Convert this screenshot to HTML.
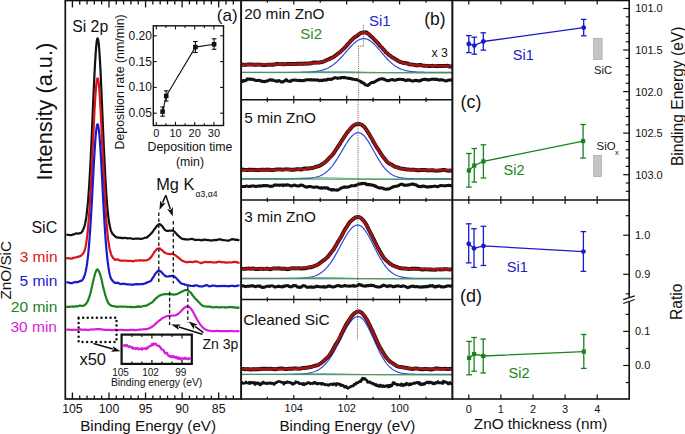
<!DOCTYPE html>
<html><head><meta charset="utf-8"><style>
html,body{margin:0;padding:0;background:#fff;width:685px;height:434px;overflow:hidden}
svg{display:block}
text{font-family:"Liberation Sans", sans-serif}
</style></head><body>
<svg width="685" height="434" viewBox="0 0 685 434">
<rect width="685" height="434" fill="#fff"/>
<clipPath id="ca"><rect x="65.3" y="0.5" width="175.89999999999998" height="398.5"/></clipPath>
<g clip-path="url(#ca)">
<path d="M66.30,234.77 L67.10,234.73 L67.90,234.78 L68.70,234.83 L69.50,234.99 L70.30,235.11 L71.10,235.14 L71.90,234.93 L72.70,234.53 L73.20,234.45 L73.70,234.44 L74.20,234.39 L74.70,234.04 L75.20,233.96 L75.70,233.62 L76.20,233.39 L76.70,233.27 L77.20,233.43 L77.70,233.68 L78.20,233.59 L78.70,233.57 L79.20,233.42 L79.70,233.12 L80.20,233.06 L80.70,232.95 L81.20,232.72 L81.70,232.10 L82.20,231.51 L82.70,230.47 L83.20,229.47 L83.70,228.26 L84.20,227.02 L84.70,225.36 L85.20,223.18 L85.70,220.60 L86.20,217.66 L86.70,213.88 L87.20,209.73 L87.70,204.99 L88.20,199.11 L88.70,192.39 L89.20,185.36 L89.70,176.81 L90.20,167.69 L90.70,158.13 L91.20,147.54 L91.70,136.39 L92.20,125.26 L92.70,113.41 L93.20,101.87 L93.70,90.63 L94.20,79.71 L94.70,69.73 L95.20,60.83 L95.70,52.86 L96.20,46.27 L96.70,41.74 L97.20,38.90 L97.70,38.33 L98.20,39.75 L98.70,43.46 L99.20,48.84 L99.70,56.39 L100.20,64.85 L100.70,74.71 L101.20,85.70 L101.70,97.43 L102.20,109.08 L102.70,120.97 L103.20,132.54 L103.70,143.96 L104.20,154.52 L104.70,164.53 L105.20,174.52 L105.70,183.83 L106.20,191.71 L106.70,198.93 L107.20,205.40 L107.70,210.94 L108.20,215.56 L108.70,219.62 L109.20,223.05 L109.70,225.56 L110.20,227.86 L110.70,229.84 L111.20,231.41 L111.70,232.29 L112.20,233.46 L112.70,234.21 L113.20,234.44 L113.70,234.85 L114.20,235.74 L114.70,235.97 L115.20,236.37 L115.70,236.96 L116.20,237.15 L116.70,237.19 L117.20,237.63 L117.70,237.51 L118.20,237.70 L118.70,237.71 L119.20,237.67 L119.70,237.80 L120.20,237.85 L120.70,237.60 L121.20,237.90 L121.70,238.25 L122.20,238.06 L122.70,237.89 L123.50,238.07 L124.30,237.96 L125.10,237.73 L125.90,238.07 L126.70,238.17 L127.50,238.42 L128.30,238.28 L129.10,238.24 L129.90,238.14 L130.70,238.50 L131.50,238.46 L132.30,238.73 L133.10,238.89 L133.90,238.82 L134.70,238.74 L135.50,238.58 L136.30,238.57 L137.10,238.64 L137.90,238.60 L138.70,238.62 L139.50,238.72 L140.30,238.96 L141.10,238.88 L141.90,238.76 L142.70,238.51 L143.50,238.32 L144.30,238.02 L145.10,237.74 L145.90,237.64 L146.70,237.69 L147.50,236.90 L148.30,236.10 L149.10,235.59 L149.90,234.87 L150.70,233.78 L151.50,233.14 L152.30,232.34 L153.10,231.17 L153.90,229.80 L154.70,228.91 L155.50,227.85 L156.30,226.59 L157.10,225.66 L157.90,225.10 L158.70,224.42 L159.50,223.99 L160.30,224.37 L161.10,225.16 L161.90,225.81 L162.70,226.69 L163.50,228.16 L164.30,229.19 L165.10,229.97 L165.90,230.44 L166.70,230.78 L167.50,230.80 L168.30,230.84 L169.10,230.75 L169.90,230.52 L170.70,230.67 L171.50,230.48 L172.30,230.61 L173.10,230.48 L173.90,231.37 L174.70,231.97 L175.50,232.86 L176.30,233.53 L177.10,234.66 L177.90,235.41 L178.70,235.93 L179.50,236.85 L180.30,237.56 L181.10,237.90 L181.90,238.73 L182.70,238.91 L183.50,239.10 L184.30,239.12 L185.10,239.36 L185.90,239.18 L186.70,239.51 L187.50,239.55 L188.30,239.42 L189.10,239.22 L189.90,239.25 L190.70,239.10 L191.50,238.87 L192.30,238.91 L193.10,239.37 L193.90,239.41 L194.70,239.82 L195.50,239.85 L196.30,240.10 L197.10,239.73 L197.90,239.75 L198.70,239.78 L199.50,239.80 L200.30,240.06 L201.10,240.40 L201.90,240.26 L202.70,239.71 L203.50,240.08 L204.30,239.83 L205.10,239.59 L205.90,239.69 L206.70,240.07 L207.50,240.09 L208.30,239.95 L209.10,240.22 L209.90,240.40 L210.70,240.57 L211.50,240.31 L212.30,240.35 L213.10,240.34 L213.90,240.13 L214.70,239.92 L215.50,240.18 L216.30,240.26 L217.10,239.74 L217.90,239.66 L218.70,239.36 L219.50,239.27 L220.30,239.36 L221.10,239.62 L221.90,239.69 L222.70,240.11 L223.50,239.99 L224.30,240.15 L225.10,240.24 L225.90,240.41 L226.70,240.51 L227.50,240.75 L228.30,240.44 L229.10,240.59 L229.90,240.13 L230.70,239.73 L231.50,239.17 L232.30,239.45 L233.10,239.12 L233.90,239.41 L234.70,239.55 L235.50,239.85 L236.30,239.59 L237.10,239.82 L237.90,240.11 L238.70,240.14 L239.50,240.23" fill="none" stroke="#111" stroke-width="2.2" stroke-linejoin="round"/>
<path d="M66.30,258.63 L67.10,258.18 L67.90,258.07 L68.70,258.38 L69.50,258.54 L70.30,258.32 L71.10,258.65 L71.90,258.70 L72.70,258.29 L73.20,257.87 L73.70,257.72 L74.20,257.69 L74.70,257.52 L75.20,257.50 L75.70,257.56 L76.20,257.34 L76.70,257.10 L77.20,256.92 L77.70,257.02 L78.20,256.65 L78.70,256.81 L79.20,256.58 L79.70,256.27 L80.20,256.10 L80.70,256.15 L81.20,255.41 L81.70,254.95 L82.20,254.78 L82.70,253.93 L83.20,253.27 L83.70,252.72 L84.20,251.69 L84.70,250.14 L85.20,248.51 L85.70,246.18 L86.20,243.36 L86.70,239.62 L87.20,235.81 L87.70,231.26 L88.20,225.86 L88.70,219.73 L89.20,213.62 L89.70,205.69 L90.20,197.31 L90.70,188.78 L91.20,179.12 L91.70,168.83 L92.20,158.91 L92.70,148.12 L93.20,137.11 L93.70,126.87 L94.20,116.54 L94.70,106.85 L95.20,98.48 L95.70,91.30 L96.20,85.37 L96.70,81.34 L97.20,78.86 L97.70,78.31 L98.20,79.79 L98.70,83.13 L99.20,88.08 L99.70,94.72 L100.20,103.13 L100.70,112.20 L101.20,122.15 L101.70,132.31 L102.20,143.30 L102.70,153.80 L103.20,164.62 L103.70,175.01 L104.20,185.38 L104.70,194.76 L105.20,203.11 L105.70,211.01 L106.20,218.23 L106.70,224.59 L107.20,230.42 L107.70,235.99 L108.20,239.90 L108.70,243.41 L109.20,246.66 L109.70,249.07 L110.20,250.87 L110.70,252.70 L111.20,254.57 L111.70,255.85 L112.20,256.57 L112.70,257.17 L113.20,258.19 L113.70,258.50 L114.20,259.00 L114.70,259.63 L115.20,259.95 L115.70,259.93 L116.20,259.60 L116.70,259.34 L117.20,259.32 L117.70,259.64 L118.20,259.58 L118.70,259.98 L119.20,260.24 L119.70,260.37 L120.20,260.45 L120.70,260.65 L121.20,260.66 L121.70,260.76 L122.20,260.75 L122.70,260.56 L123.50,260.49 L124.30,260.60 L125.10,260.50 L125.90,260.56 L126.70,260.73 L127.50,260.89 L128.30,260.89 L129.10,260.74 L129.90,260.80 L130.70,260.99 L131.50,261.05 L132.30,261.05 L133.10,261.33 L133.90,261.12 L134.70,260.66 L135.50,260.60 L136.30,260.49 L137.10,260.53 L137.90,260.50 L138.70,260.37 L139.50,260.18 L140.30,260.54 L141.10,260.33 L141.90,260.23 L142.70,260.45 L143.50,260.60 L144.30,260.31 L145.10,260.23 L145.90,260.45 L146.70,260.39 L147.50,259.94 L148.30,259.49 L149.10,259.15 L149.90,258.38 L150.70,257.62 L151.50,256.52 L152.30,255.37 L153.10,254.10 L153.90,252.73 L154.70,251.55 L155.50,250.68 L156.30,249.82 L157.10,248.84 L157.90,248.70 L158.70,248.46 L159.50,248.38 L160.30,248.60 L161.10,249.64 L161.90,249.95 L162.70,250.74 L163.50,251.77 L164.30,252.54 L165.10,252.62 L165.90,253.23 L166.70,253.52 L167.50,253.75 L168.30,253.94 L169.10,254.09 L169.90,254.11 L170.70,254.06 L171.50,253.91 L172.30,253.91 L173.10,254.14 L173.90,254.54 L174.70,254.86 L175.50,255.41 L176.30,256.13 L177.10,256.70 L177.90,257.26 L178.70,257.81 L179.50,258.45 L180.30,259.11 L181.10,259.92 L181.90,260.39 L182.70,261.01 L183.50,261.18 L184.30,261.60 L185.10,261.76 L185.90,262.08 L186.70,262.09 L187.50,262.36 L188.30,261.86 L189.10,261.95 L189.90,261.97 L190.70,261.85 L191.50,261.91 L192.30,262.32 L193.10,261.94 L193.90,261.53 L194.70,261.68 L195.50,261.61 L196.30,261.31 L197.10,261.61 L197.90,261.94 L198.70,262.22 L199.50,262.44 L200.30,262.91 L201.10,263.09 L201.90,262.86 L202.70,262.69 L203.50,262.42 L204.30,262.02 L205.10,261.83 L205.90,262.05 L206.70,262.21 L207.50,262.13 L208.30,262.11 L209.10,262.12 L209.90,262.09 L210.70,261.97 L211.50,262.21 L212.30,262.29 L213.10,262.41 L213.90,262.50 L214.70,262.53 L215.50,262.44 L216.30,262.53 L217.10,262.00 L217.90,261.79 L218.70,261.81 L219.50,261.68 L220.30,261.74 L221.10,262.19 L221.90,262.13 L222.70,262.09 L223.50,262.28 L224.30,262.32 L225.10,262.39 L225.90,262.60 L226.70,262.51 L227.50,262.53 L228.30,262.45 L229.10,262.47 L229.90,262.52 L230.70,262.54 L231.50,262.35 L232.30,262.31 L233.10,262.07 L233.90,261.85 L234.70,261.95 L235.50,262.08 L236.30,262.16 L237.10,262.36 L237.90,262.46 L238.70,262.85 L239.50,262.87" fill="none" stroke="#da1418" stroke-width="2.2" stroke-linejoin="round"/>
<path d="M66.30,282.50 L67.10,282.33 L67.90,282.37 L68.70,282.52 L69.50,282.90 L70.30,283.17 L71.10,283.20 L71.90,283.20 L72.70,282.85 L73.20,282.74 L73.70,282.57 L74.20,282.24 L74.70,282.22 L75.20,281.93 L75.70,281.94 L76.20,282.13 L76.70,282.19 L77.20,281.93 L77.70,282.19 L78.20,282.06 L78.70,281.48 L79.20,281.42 L79.70,281.35 L80.20,281.08 L80.70,280.72 L81.20,280.82 L81.70,280.67 L82.20,280.12 L82.70,279.48 L83.20,278.81 L83.70,277.86 L84.20,276.38 L84.70,275.12 L85.20,273.33 L85.70,271.27 L86.20,268.73 L86.70,266.15 L87.20,262.63 L87.70,258.62 L88.20,254.26 L88.70,248.90 L89.20,242.83 L89.70,236.49 L90.20,229.55 L90.70,221.49 L91.20,213.47 L91.70,204.57 L92.20,195.27 L92.70,185.61 L93.20,176.29 L93.70,166.44 L94.20,157.88 L94.70,149.74 L95.20,142.25 L95.70,135.68 L96.20,130.62 L96.70,126.88 L97.20,124.52 L97.70,124.29 L98.20,125.73 L98.70,128.85 L99.20,132.90 L99.70,138.74 L100.20,145.46 L100.70,153.39 L101.20,162.07 L101.70,171.44 L102.20,180.80 L102.70,190.37 L103.20,199.79 L103.70,208.79 L104.20,217.69 L104.70,226.07 L105.20,233.83 L105.70,240.73 L106.20,247.02 L106.70,252.29 L107.20,257.10 L107.70,261.52 L108.20,265.44 L108.70,268.84 L109.20,272.03 L109.70,274.24 L110.20,276.07 L110.70,277.97 L111.20,278.85 L111.70,279.46 L112.20,280.41 L112.70,281.09 L113.20,281.25 L113.70,281.92 L114.20,282.40 L114.70,282.65 L115.20,282.96 L115.70,282.78 L116.20,282.83 L116.70,282.89 L117.20,282.83 L117.70,282.63 L118.20,283.11 L118.70,283.21 L119.20,283.38 L119.70,283.71 L120.20,283.97 L120.70,284.00 L121.20,284.13 L121.70,283.85 L122.20,283.77 L122.70,283.83 L123.50,283.72 L124.30,283.76 L125.10,284.14 L125.90,284.05 L126.70,284.11 L127.50,284.51 L128.30,284.47 L129.10,284.39 L129.90,284.53 L130.70,284.68 L131.50,284.46 L132.30,284.69 L133.10,284.57 L133.90,284.60 L134.70,284.36 L135.50,284.03 L136.30,284.11 L137.10,284.36 L137.90,284.07 L138.70,284.18 L139.50,284.41 L140.30,284.23 L141.10,284.11 L141.90,284.09 L142.70,283.87 L143.50,284.04 L144.30,283.75 L145.10,283.37 L145.90,283.17 L146.70,282.72 L147.50,282.18 L148.30,282.07 L149.10,281.74 L149.90,281.31 L150.70,281.05 L151.50,280.00 L152.30,278.60 L153.10,277.51 L153.90,276.40 L154.70,274.72 L155.50,273.50 L156.30,272.64 L157.10,271.76 L157.90,270.89 L158.70,270.74 L159.50,270.87 L160.30,271.22 L161.10,271.72 L161.90,272.63 L162.70,273.39 L163.50,274.41 L164.30,275.26 L165.10,275.79 L165.90,276.36 L166.70,276.55 L167.50,276.48 L168.30,276.33 L169.10,276.48 L169.90,276.10 L170.70,276.04 L171.50,275.99 L172.30,275.73 L173.10,275.77 L173.90,276.19 L174.70,276.90 L175.50,277.46 L176.30,278.22 L177.10,279.09 L177.90,280.09 L178.70,280.75 L179.50,281.80 L180.30,282.73 L181.10,283.19 L181.90,283.71 L182.70,283.94 L183.50,284.02 L184.30,284.31 L185.10,284.74 L185.90,284.79 L186.70,285.21 L187.50,285.31 L188.30,285.43 L189.10,285.62 L189.90,285.59 L190.70,285.96 L191.50,285.99 L192.30,285.98 L193.10,285.78 L193.90,286.07 L194.70,285.53 L195.50,285.32 L196.30,285.43 L197.10,285.54 L197.90,285.50 L198.70,286.12 L199.50,286.49 L200.30,286.45 L201.10,286.48 L201.90,286.45 L202.70,286.31 L203.50,286.09 L204.30,286.00 L205.10,285.33 L205.90,285.40 L206.70,285.09 L207.50,285.44 L208.30,285.84 L209.10,286.38 L209.90,286.22 L210.70,286.21 L211.50,285.94 L212.30,285.51 L213.10,285.61 L213.90,285.66 L214.70,285.75 L215.50,285.86 L216.30,286.11 L217.10,286.09 L217.90,286.06 L218.70,286.16 L219.50,286.16 L220.30,285.84 L221.10,286.00 L221.90,286.09 L222.70,285.84 L223.50,286.04 L224.30,286.27 L225.10,285.80 L225.90,285.98 L226.70,286.19 L227.50,286.16 L228.30,286.14 L229.10,286.36 L229.90,285.87 L230.70,285.97 L231.50,285.84 L232.30,285.76 L233.10,285.84 L233.90,286.10 L234.70,286.05 L235.50,285.99 L236.30,286.03 L237.10,285.64 L237.90,285.56 L238.70,285.56 L239.50,285.83" fill="none" stroke="#1a1acc" stroke-width="2.2" stroke-linejoin="round"/>
<path d="M66.30,306.65 L67.10,306.91 L67.90,306.93 L68.70,306.87 L69.50,306.81 L70.30,306.73 L71.10,306.48 L71.90,306.48 L72.70,306.46 L73.20,306.86 L73.70,306.74 L74.20,306.66 L74.70,306.70 L75.20,306.40 L75.70,306.13 L76.20,306.28 L76.70,306.31 L77.20,306.29 L77.70,306.21 L78.20,306.22 L78.70,305.91 L79.20,305.82 L79.70,305.64 L80.20,305.75 L80.70,305.71 L81.20,305.86 L81.70,305.81 L82.20,305.85 L82.70,305.98 L83.20,305.70 L83.70,305.53 L84.20,305.49 L84.70,305.14 L85.20,304.36 L85.70,304.23 L86.20,303.91 L86.70,302.80 L87.20,301.96 L87.70,301.26 L88.20,299.99 L88.70,298.56 L89.20,297.41 L89.70,295.74 L90.20,294.01 L90.70,292.19 L91.20,290.00 L91.70,287.83 L92.20,285.82 L92.70,283.36 L93.20,280.99 L93.70,278.93 L94.20,277.06 L94.70,275.05 L95.20,273.46 L95.70,271.96 L96.20,270.82 L96.70,269.82 L97.20,269.42 L97.70,269.54 L98.20,270.04 L98.70,270.94 L99.20,271.95 L99.70,273.23 L100.20,274.41 L100.70,276.34 L101.20,278.02 L101.70,280.25 L102.20,282.57 L102.70,284.93 L103.20,286.92 L103.70,289.14 L104.20,290.94 L104.70,292.82 L105.20,294.95 L105.70,296.27 L106.20,297.85 L106.70,299.45 L107.20,300.63 L107.70,301.55 L108.20,302.85 L108.70,303.46 L109.20,304.18 L109.70,304.59 L110.20,305.07 L110.70,305.15 L111.20,305.46 L111.70,305.81 L112.20,306.12 L112.70,306.15 L113.20,306.23 L113.70,306.24 L114.20,306.11 L114.70,306.24 L115.20,306.37 L115.70,306.64 L116.20,306.77 L116.70,306.96 L117.20,306.80 L117.70,306.70 L118.20,306.76 L118.70,306.79 L119.20,306.59 L119.70,306.58 L120.20,306.63 L120.70,306.61 L121.20,306.66 L121.70,306.54 L122.20,306.69 L122.70,306.76 L123.50,306.55 L124.30,306.62 L125.10,306.75 L125.90,306.66 L126.70,306.75 L127.50,307.07 L128.30,306.88 L129.10,306.99 L129.90,306.92 L130.70,307.13 L131.50,306.88 L132.30,307.14 L133.10,306.99 L133.90,307.22 L134.70,307.20 L135.50,306.91 L136.30,306.68 L137.10,306.82 L137.90,306.67 L138.70,306.25 L139.50,306.84 L140.30,306.86 L141.10,306.50 L141.90,306.55 L142.70,306.31 L143.50,306.05 L144.30,305.80 L145.10,305.86 L145.90,305.69 L146.70,305.67 L147.50,305.02 L148.30,304.50 L149.10,304.22 L149.90,303.66 L150.70,302.99 L151.50,302.69 L152.30,302.33 L153.10,301.54 L153.90,300.39 L154.70,299.68 L155.50,298.90 L156.30,298.16 L157.10,297.44 L157.90,296.72 L158.70,296.16 L159.50,295.57 L160.30,295.36 L161.10,294.76 L161.90,294.77 L162.70,294.55 L163.50,294.46 L164.30,293.97 L165.10,294.21 L165.90,294.14 L166.70,294.20 L167.50,294.05 L168.30,294.19 L169.10,294.01 L169.90,293.97 L170.70,294.14 L171.50,294.32 L172.30,294.27 L173.10,294.43 L173.90,294.78 L174.70,294.46 L175.50,294.31 L176.30,294.30 L177.10,294.12 L177.90,293.65 L178.70,293.14 L179.50,292.92 L180.30,292.45 L181.10,291.93 L181.90,291.50 L182.70,291.41 L183.50,290.84 L184.30,290.40 L185.10,290.14 L185.90,290.06 L186.70,290.03 L187.50,290.17 L188.30,290.77 L189.10,291.20 L189.90,292.00 L190.70,292.70 L191.50,293.75 L192.30,294.77 L193.10,295.95 L193.90,296.77 L194.70,297.93 L195.50,298.91 L196.30,299.47 L197.10,300.30 L197.90,301.30 L198.70,302.05 L199.50,302.78 L200.30,303.78 L201.10,304.56 L201.90,305.18 L202.70,305.77 L203.50,306.10 L204.30,306.32 L205.10,306.45 L205.90,306.51 L206.70,306.58 L207.50,306.53 L208.30,306.60 L209.10,306.72 L209.90,306.70 L210.70,306.78 L211.50,307.12 L212.30,307.17 L213.10,307.48 L213.90,307.28 L214.70,307.26 L215.50,306.96 L216.30,307.12 L217.10,307.20 L217.90,307.22 L218.70,307.27 L219.50,307.59 L220.30,307.42 L221.10,307.14 L221.90,307.17 L222.70,307.27 L223.50,307.25 L224.30,307.30 L225.10,307.15 L225.90,307.54 L226.70,307.36 L227.50,307.34 L228.30,307.27 L229.10,307.05 L229.90,306.96 L230.70,307.05 L231.50,307.13 L232.30,307.08 L233.10,307.38 L233.90,307.46 L234.70,307.46 L235.50,307.52 L236.30,307.91 L237.10,307.79 L237.90,307.45 L238.70,307.55 L239.50,307.59" fill="none" stroke="#1a821a" stroke-width="2.2" stroke-linejoin="round"/>
<path d="M66.30,329.77 L67.10,329.68 L67.90,329.54 L68.70,329.53 L69.50,329.70 L70.30,329.76 L71.10,329.78 L71.90,329.84 L72.70,329.91 L73.20,329.74 L73.70,329.71 L74.20,329.74 L74.70,329.73 L75.20,329.79 L75.70,329.80 L76.20,329.74 L76.70,329.75 L77.20,329.79 L77.70,329.74 L78.20,329.74 L78.70,329.63 L79.20,329.52 L79.70,329.47 L80.20,329.41 L80.70,329.45 L81.20,329.55 L81.70,329.70 L82.20,329.78 L82.70,329.77 L83.20,329.74 L83.70,329.62 L84.20,329.58 L84.70,329.59 L85.20,329.66 L85.70,329.68 L86.20,329.78 L86.70,329.82 L87.20,329.78 L87.70,329.78 L88.20,329.80 L88.70,329.79 L89.20,329.79 L89.70,329.72 L90.20,329.63 L90.70,329.52 L91.20,329.43 L91.70,329.40 L92.20,329.48 L92.70,329.46 L93.20,329.49 L93.70,329.55 L94.20,329.47 L94.70,329.40 L95.20,329.29 L95.70,329.20 L96.20,329.14 L96.70,329.16 L97.20,329.09 L97.70,329.11 L98.20,329.13 L98.70,329.09 L99.20,328.99 L99.70,329.10 L100.20,329.15 L100.70,329.21 L101.20,329.41 L101.70,329.57 L102.20,329.55 L102.70,329.61 L103.20,329.68 L103.70,329.70 L104.20,329.71 L104.70,329.81 L105.20,329.88 L105.70,329.93 L106.20,329.86 L106.70,329.89 L107.20,329.92 L107.70,329.86 L108.20,329.85 L108.70,329.89 L109.20,329.85 L109.70,329.78 L110.20,329.91 L110.70,330.03 L111.20,330.06 L111.70,330.12 L112.20,330.06 L112.70,330.13 L113.20,330.03 L113.70,330.00 L114.20,329.93 L114.70,330.01 L115.20,329.85 L115.70,329.86 L116.20,329.89 L116.70,329.95 L117.20,329.97 L117.70,329.99 L118.20,330.07 L118.70,330.01 L119.20,329.91 L119.70,329.89 L120.20,329.90 L120.70,329.77 L121.20,329.79 L121.70,329.91 L122.20,329.86 L122.70,329.89 L123.50,330.03 L124.30,330.09 L125.10,330.07 L125.90,330.14 L126.70,330.15 L127.50,330.08 L128.30,330.08 L129.10,330.09 L129.90,329.96 L130.70,329.96 L131.50,329.92 L132.30,329.92 L133.10,329.89 L133.90,330.02 L134.70,330.14 L135.50,330.12 L136.30,330.02 L137.10,329.96 L137.90,329.80 L138.70,329.56 L139.50,329.60 L140.30,329.58 L141.10,329.50 L141.90,329.47 L142.70,329.52 L143.50,329.35 L144.30,329.24 L145.10,329.20 L145.90,329.18 L146.70,329.03 L147.50,328.88 L148.30,328.63 L149.10,328.30 L149.90,327.96 L150.70,327.52 L151.50,327.00 L152.30,326.52 L153.10,325.99 L153.90,325.32 L154.70,324.60 L155.50,323.89 L156.30,323.17 L157.10,322.37 L157.90,321.73 L158.70,321.08 L159.50,320.39 L160.30,319.81 L161.10,319.29 L161.90,318.51 L162.70,318.02 L163.50,317.62 L164.30,317.21 L165.10,316.73 L165.90,316.55 L166.70,316.25 L167.50,316.05 L168.30,315.84 L169.10,315.92 L169.90,315.79 L170.70,315.72 L171.50,315.65 L172.30,315.61 L173.10,315.50 L173.90,315.52 L174.70,315.46 L175.50,315.31 L176.30,314.97 L177.10,314.55 L177.90,314.05 L178.70,313.44 L179.50,312.72 L180.30,311.94 L181.10,311.20 L181.90,310.24 L182.70,309.38 L183.50,308.63 L184.30,307.91 L185.10,307.28 L185.90,306.80 L186.70,306.56 L187.50,306.45 L188.30,306.55 L189.10,306.93 L189.90,307.55 L190.70,308.40 L191.50,309.37 L192.30,310.64 L193.10,311.94 L193.90,313.41 L194.70,314.85 L195.50,316.39 L196.30,317.97 L197.10,319.45 L197.90,320.92 L198.70,322.12 L199.50,323.47 L200.30,324.59 L201.10,325.53 L201.90,326.44 L202.70,327.41 L203.50,328.09 L204.30,328.61 L205.10,329.28 L205.90,329.67 L206.70,330.10 L207.50,330.30 L208.30,330.61 L209.10,330.67 L209.90,330.75 L210.70,330.78 L211.50,330.91 L212.30,331.01 L213.10,331.12 L213.90,331.18 L214.70,331.06 L215.50,331.00 L216.30,330.89 L217.10,330.81 L217.90,330.88 L218.70,331.00 L219.50,331.03 L220.30,331.08 L221.10,331.12 L221.90,331.10 L222.70,331.13 L223.50,331.20 L224.30,331.16 L225.10,331.09 L225.90,331.16 L226.70,331.13 L227.50,331.15 L228.30,331.10 L229.10,331.17 L229.90,331.10 L230.70,331.02 L231.50,330.94 L232.30,331.07 L233.10,331.15 L233.90,331.24 L234.70,331.27 L235.50,331.23 L236.30,331.22 L237.10,331.22 L237.90,331.15 L238.70,331.13 L239.50,331.25" fill="none" stroke="#d81cd8" stroke-width="2.2" stroke-linejoin="round"/>
</g>
<rect x="65.30" y="0.50" width="175.90" height="398.50" fill="none" stroke="#111" stroke-width="1.7"/>
<line x1="233.33" y1="399.00" x2="233.33" y2="395.60" stroke="#111" stroke-width="1.3"/>
<line x1="233.33" y1="0.50" x2="233.33" y2="4.40" stroke="#111" stroke-width="1.3"/>
<line x1="226.02" y1="399.00" x2="226.02" y2="395.60" stroke="#111" stroke-width="1.3"/>
<line x1="226.02" y1="0.50" x2="226.02" y2="4.40" stroke="#111" stroke-width="1.3"/>
<line x1="218.70" y1="399.00" x2="218.70" y2="392.50" stroke="#111" stroke-width="1.3"/>
<line x1="218.70" y1="0.50" x2="218.70" y2="7.50" stroke="#111" stroke-width="1.3"/>
<text x="218.70" y="412.90" font-size="12.3" fill="#111" text-anchor="middle">85</text>
<line x1="211.39" y1="399.00" x2="211.39" y2="395.60" stroke="#111" stroke-width="1.3"/>
<line x1="211.39" y1="0.50" x2="211.39" y2="4.40" stroke="#111" stroke-width="1.3"/>
<line x1="204.07" y1="399.00" x2="204.07" y2="395.60" stroke="#111" stroke-width="1.3"/>
<line x1="204.07" y1="0.50" x2="204.07" y2="4.40" stroke="#111" stroke-width="1.3"/>
<line x1="196.75" y1="399.00" x2="196.75" y2="395.60" stroke="#111" stroke-width="1.3"/>
<line x1="196.75" y1="0.50" x2="196.75" y2="4.40" stroke="#111" stroke-width="1.3"/>
<line x1="189.44" y1="399.00" x2="189.44" y2="395.60" stroke="#111" stroke-width="1.3"/>
<line x1="189.44" y1="0.50" x2="189.44" y2="4.40" stroke="#111" stroke-width="1.3"/>
<line x1="182.12" y1="399.00" x2="182.12" y2="392.50" stroke="#111" stroke-width="1.3"/>
<line x1="182.12" y1="0.50" x2="182.12" y2="7.50" stroke="#111" stroke-width="1.3"/>
<text x="182.12" y="412.90" font-size="12.3" fill="#111" text-anchor="middle">90</text>
<line x1="174.81" y1="399.00" x2="174.81" y2="395.60" stroke="#111" stroke-width="1.3"/>
<line x1="174.81" y1="0.50" x2="174.81" y2="4.40" stroke="#111" stroke-width="1.3"/>
<line x1="167.50" y1="399.00" x2="167.50" y2="395.60" stroke="#111" stroke-width="1.3"/>
<line x1="167.50" y1="0.50" x2="167.50" y2="4.40" stroke="#111" stroke-width="1.3"/>
<line x1="160.18" y1="399.00" x2="160.18" y2="395.60" stroke="#111" stroke-width="1.3"/>
<line x1="160.18" y1="0.50" x2="160.18" y2="4.40" stroke="#111" stroke-width="1.3"/>
<line x1="152.87" y1="399.00" x2="152.87" y2="395.60" stroke="#111" stroke-width="1.3"/>
<line x1="152.87" y1="0.50" x2="152.87" y2="4.40" stroke="#111" stroke-width="1.3"/>
<line x1="145.55" y1="399.00" x2="145.55" y2="392.50" stroke="#111" stroke-width="1.3"/>
<line x1="145.55" y1="0.50" x2="145.55" y2="7.50" stroke="#111" stroke-width="1.3"/>
<text x="145.55" y="412.90" font-size="12.3" fill="#111" text-anchor="middle">95</text>
<line x1="138.24" y1="399.00" x2="138.24" y2="395.60" stroke="#111" stroke-width="1.3"/>
<line x1="138.24" y1="0.50" x2="138.24" y2="4.40" stroke="#111" stroke-width="1.3"/>
<line x1="130.92" y1="399.00" x2="130.92" y2="395.60" stroke="#111" stroke-width="1.3"/>
<line x1="130.92" y1="0.50" x2="130.92" y2="4.40" stroke="#111" stroke-width="1.3"/>
<line x1="123.61" y1="399.00" x2="123.61" y2="395.60" stroke="#111" stroke-width="1.3"/>
<line x1="123.61" y1="0.50" x2="123.61" y2="4.40" stroke="#111" stroke-width="1.3"/>
<line x1="116.29" y1="399.00" x2="116.29" y2="395.60" stroke="#111" stroke-width="1.3"/>
<line x1="116.29" y1="0.50" x2="116.29" y2="4.40" stroke="#111" stroke-width="1.3"/>
<line x1="108.98" y1="399.00" x2="108.98" y2="392.50" stroke="#111" stroke-width="1.3"/>
<line x1="108.98" y1="0.50" x2="108.98" y2="7.50" stroke="#111" stroke-width="1.3"/>
<text x="108.98" y="412.90" font-size="12.3" fill="#111" text-anchor="middle">100</text>
<line x1="101.66" y1="399.00" x2="101.66" y2="395.60" stroke="#111" stroke-width="1.3"/>
<line x1="101.66" y1="0.50" x2="101.66" y2="4.40" stroke="#111" stroke-width="1.3"/>
<line x1="94.34" y1="399.00" x2="94.34" y2="395.60" stroke="#111" stroke-width="1.3"/>
<line x1="94.34" y1="0.50" x2="94.34" y2="4.40" stroke="#111" stroke-width="1.3"/>
<line x1="87.03" y1="399.00" x2="87.03" y2="395.60" stroke="#111" stroke-width="1.3"/>
<line x1="87.03" y1="0.50" x2="87.03" y2="4.40" stroke="#111" stroke-width="1.3"/>
<line x1="79.72" y1="399.00" x2="79.72" y2="395.60" stroke="#111" stroke-width="1.3"/>
<line x1="79.72" y1="0.50" x2="79.72" y2="4.40" stroke="#111" stroke-width="1.3"/>
<line x1="72.40" y1="399.00" x2="72.40" y2="392.50" stroke="#111" stroke-width="1.3"/>
<line x1="72.40" y1="0.50" x2="72.40" y2="7.50" stroke="#111" stroke-width="1.3"/>
<text x="72.40" y="412.90" font-size="12.3" fill="#111" text-anchor="middle">105</text>
<text x="148.10" y="430.60" font-size="15.2" fill="#111" text-anchor="middle">Binding Energy (eV)</text>
<text x="17.10" y="0.00" font-size="1" fill="#000" text-anchor="start"></text>
<text x="52.20" y="180.60" font-size="21.75" fill="#111" text-anchor="start" transform="rotate(-90 52.2 180.6)">Intensity (a.u.)</text>
<text x="57.20" y="232.80" font-size="16" fill="#111" text-anchor="end">SiC</text>
<text x="57.60" y="261.60" font-size="15.5" fill="#da1418" text-anchor="end">3 min</text>
<text x="57.40" y="286.40" font-size="15.5" fill="#1a1acc" text-anchor="end">5 min</text>
<text x="57.40" y="311.60" font-size="15.5" fill="#1a821a" text-anchor="end">20 min</text>
<text x="57.00" y="332.00" font-size="15.5" fill="#d81cd8" text-anchor="end">30 min</text>
<text x="11.30" y="299.60" font-size="15.3" fill="#111" text-anchor="start" transform="rotate(-90 11.3 299.6)">ZnO/SiC</text>
<text x="72.20" y="31.60" font-size="15.8" fill="#111" text-anchor="start">Si 2p</text>
<text x="216.80" y="21.30" font-size="17" fill="#111" text-anchor="start">(a)</text>
<text x="156.30" y="189.60" font-size="16.3" fill="#111" text-anchor="start">Mg K</text>
<text x="195.60" y="197.20" font-size="8.6" fill="#111" text-anchor="start">&#945;3,&#945;4</text>
<line x1="165.80" y1="195.30" x2="162.59" y2="202.67" stroke="#111" stroke-width="1.5"/>
<path d="M159.40,210.00 L160.24,200.55 L162.19,203.58 L165.74,202.95 Z" fill="#111"/>
<line x1="165.80" y1="195.30" x2="170.30" y2="209.00" stroke="#111" stroke-width="1.5"/>
<path d="M172.80,216.60 L167.14,208.99 L170.61,209.95 L172.84,207.11 Z" fill="#111"/>
<line x1="158.80" y1="212.50" x2="158.80" y2="283.50" stroke="#111" stroke-width="1.3" stroke-dasharray="3.6,2.4"/>
<line x1="173.30" y1="221.00" x2="173.30" y2="283.50" stroke="#111" stroke-width="1.3" stroke-dasharray="3.6,2.4"/>
<line x1="169.60" y1="291.80" x2="169.60" y2="325.00" stroke="#111" stroke-width="1.3" stroke-dasharray="3.6,2.4"/>
<line x1="187.80" y1="286.50" x2="187.80" y2="323.00" stroke="#111" stroke-width="1.3" stroke-dasharray="3.6,2.4"/>
<line x1="202.40" y1="334.20" x2="178.85" y2="326.95" stroke="#111" stroke-width="1.5"/>
<path d="M171.20,324.60 L180.68,324.38 L177.89,326.66 L178.92,330.11 Z" fill="#111"/>
<line x1="203.40" y1="332.60" x2="195.02" y2="326.37" stroke="#111" stroke-width="1.5"/>
<path d="M188.60,321.60 L197.61,324.56 L194.22,325.78 L194.03,329.38 Z" fill="#111"/>
<text x="202.50" y="348.50" font-size="14" fill="#111" text-anchor="start">Zn 3p</text>
<rect x="78.60" y="317.80" width="37.90" height="24.10" fill="none" stroke="#111" stroke-width="2.5" stroke-dasharray="0,4.57" stroke-linecap="round"/>
<line x1="93.50" y1="343.50" x2="112.81" y2="349.08" stroke="#111" stroke-width="1.5"/>
<path d="M120.50,351.30 L111.02,351.68 L113.78,349.36 L112.69,345.92 Z" fill="#111"/>
<rect x="121.60" y="334.60" width="70.20" height="29.30" fill="#fff" stroke="#111" stroke-width="2.2"/>
<line x1="181.99" y1="363.90" x2="181.99" y2="360.10" stroke="#111" stroke-width="1.2"/>
<line x1="181.99" y1="334.60" x2="181.99" y2="338.40" stroke="#111" stroke-width="1.2"/>
<line x1="171.96" y1="363.90" x2="171.96" y2="361.50" stroke="#111" stroke-width="1.2"/>
<line x1="171.96" y1="334.60" x2="171.96" y2="337.00" stroke="#111" stroke-width="1.2"/>
<line x1="161.93" y1="363.90" x2="161.93" y2="361.50" stroke="#111" stroke-width="1.2"/>
<line x1="161.93" y1="334.60" x2="161.93" y2="337.00" stroke="#111" stroke-width="1.2"/>
<line x1="151.90" y1="363.90" x2="151.90" y2="360.10" stroke="#111" stroke-width="1.2"/>
<line x1="151.90" y1="334.60" x2="151.90" y2="338.40" stroke="#111" stroke-width="1.2"/>
<line x1="141.87" y1="363.90" x2="141.87" y2="361.50" stroke="#111" stroke-width="1.2"/>
<line x1="141.87" y1="334.60" x2="141.87" y2="337.00" stroke="#111" stroke-width="1.2"/>
<line x1="131.84" y1="363.90" x2="131.84" y2="361.50" stroke="#111" stroke-width="1.2"/>
<line x1="131.84" y1="334.60" x2="131.84" y2="337.00" stroke="#111" stroke-width="1.2"/>
<path d="M123.10,345.58 L123.70,345.54 L124.30,345.07 L124.90,345.62 L125.50,346.01 L126.10,345.39 L126.70,344.82 L127.30,346.16 L127.90,346.39 L128.50,346.29 L129.10,346.93 L129.70,346.27 L130.30,346.72 L130.90,346.76 L131.50,347.41 L132.10,348.13 L132.70,347.28 L133.30,348.71 L133.90,348.57 L134.50,348.32 L135.10,348.35 L135.70,349.14 L136.30,348.19 L136.90,348.35 L137.50,347.94 L138.10,348.89 L138.70,349.47 L139.30,349.10 L139.90,349.12 L140.50,348.84 L141.10,349.09 L141.70,348.24 L142.30,349.61 L142.90,348.80 L143.50,348.39 L144.10,348.52 L144.70,348.39 L145.30,349.19 L145.90,349.13 L146.50,347.60 L147.10,348.62 L147.70,348.31 L148.30,347.18 L148.90,346.33 L149.50,346.36 L150.10,346.02 L150.70,346.16 L151.30,345.38 L151.90,344.08 L152.50,344.99 L153.10,343.74 L153.70,344.87 L154.30,343.57 L154.90,343.81 L155.50,343.77 L156.10,344.09 L156.70,345.35 L157.30,345.44 L157.90,345.73 L158.50,346.07 L159.10,345.61 L159.70,346.78 L160.30,347.40 L160.90,347.83 L161.50,349.32 L162.10,349.29 L162.70,349.96 L163.30,350.40 L163.90,350.44 L164.50,352.47 L165.10,353.41 L165.70,353.27 L166.30,353.10 L166.90,352.59 L167.50,354.57 L168.10,355.52 L168.70,355.35 L169.30,356.01 L169.90,356.61 L170.50,356.68 L171.10,356.06 L171.70,357.11 L172.30,357.16 L172.90,356.08 L173.50,356.87 L174.10,356.46 L174.70,357.32 L175.30,357.83 L175.90,357.03 L176.50,356.59 L177.10,358.52 L177.70,358.10 L178.30,358.77 L178.90,357.30 L179.50,358.67 L180.10,359.27 L180.70,359.28 L181.30,358.10 L181.90,358.40 L182.50,358.20 L183.10,358.86 L183.70,358.90 L184.30,358.40 L184.90,357.62 L185.50,358.79 L186.10,358.14 L186.70,358.76 L187.30,358.57 L187.90,359.33 L188.50,359.07 L189.10,358.20 L189.70,358.65 L190.30,359.43" fill="none" stroke="#d81cd8" stroke-width="2.2" stroke-linejoin="round"/>
<text x="120.51" y="375.60" font-size="10" fill="#111" text-anchor="middle">105</text>
<text x="150.60" y="375.60" font-size="10" fill="#111" text-anchor="middle">102</text>
<text x="180.69" y="375.60" font-size="10" fill="#111" text-anchor="middle">99</text>
<text x="156.60" y="386.40" font-size="10.35" fill="#111" text-anchor="middle">Binding energy (eV)</text>
<text x="79.40" y="364.60" font-size="16.5" fill="#111" text-anchor="start">x50</text>
<rect x="153.30" y="25.80" width="70.20" height="99.70" fill="#fff" stroke="#111" stroke-width="1.4"/>
<line x1="156.30" y1="125.50" x2="156.30" y2="121.90" stroke="#111" stroke-width="1.1"/>
<line x1="156.30" y1="25.80" x2="156.30" y2="29.40" stroke="#111" stroke-width="1.1"/>
<line x1="165.90" y1="125.50" x2="165.90" y2="123.30" stroke="#111" stroke-width="1.1"/>
<line x1="165.90" y1="25.80" x2="165.90" y2="28.00" stroke="#111" stroke-width="1.1"/>
<line x1="175.50" y1="125.50" x2="175.50" y2="121.90" stroke="#111" stroke-width="1.1"/>
<line x1="175.50" y1="25.80" x2="175.50" y2="29.40" stroke="#111" stroke-width="1.1"/>
<line x1="185.10" y1="125.50" x2="185.10" y2="123.30" stroke="#111" stroke-width="1.1"/>
<line x1="185.10" y1="25.80" x2="185.10" y2="28.00" stroke="#111" stroke-width="1.1"/>
<line x1="194.70" y1="125.50" x2="194.70" y2="121.90" stroke="#111" stroke-width="1.1"/>
<line x1="194.70" y1="25.80" x2="194.70" y2="29.40" stroke="#111" stroke-width="1.1"/>
<line x1="204.30" y1="125.50" x2="204.30" y2="123.30" stroke="#111" stroke-width="1.1"/>
<line x1="204.30" y1="25.80" x2="204.30" y2="28.00" stroke="#111" stroke-width="1.1"/>
<line x1="213.90" y1="125.50" x2="213.90" y2="121.90" stroke="#111" stroke-width="1.1"/>
<line x1="213.90" y1="25.80" x2="213.90" y2="29.40" stroke="#111" stroke-width="1.1"/>
<line x1="223.50" y1="125.50" x2="223.50" y2="123.30" stroke="#111" stroke-width="1.1"/>
<line x1="223.50" y1="25.80" x2="223.50" y2="28.00" stroke="#111" stroke-width="1.1"/>
<line x1="153.30" y1="113.20" x2="156.70" y2="113.20" stroke="#111" stroke-width="1.1"/>
<line x1="223.50" y1="113.20" x2="220.10" y2="113.20" stroke="#111" stroke-width="1.1"/>
<line x1="153.30" y1="87.40" x2="156.70" y2="87.40" stroke="#111" stroke-width="1.1"/>
<line x1="223.50" y1="87.40" x2="220.10" y2="87.40" stroke="#111" stroke-width="1.1"/>
<line x1="153.30" y1="61.60" x2="156.70" y2="61.60" stroke="#111" stroke-width="1.1"/>
<line x1="223.50" y1="61.60" x2="220.10" y2="61.60" stroke="#111" stroke-width="1.1"/>
<line x1="153.30" y1="35.80" x2="156.70" y2="35.80" stroke="#111" stroke-width="1.1"/>
<line x1="223.50" y1="35.80" x2="220.10" y2="35.80" stroke="#111" stroke-width="1.1"/>
<text x="151.90" y="39.80" font-size="12" fill="#111" text-anchor="end">0.20</text>
<text x="151.90" y="65.60" font-size="12" fill="#111" text-anchor="end">0.15</text>
<text x="151.90" y="91.40" font-size="12" fill="#111" text-anchor="end">0.10</text>
<text x="151.90" y="117.20" font-size="12" fill="#111" text-anchor="end">0.05</text>
<text x="156.30" y="136.70" font-size="11" fill="#111" text-anchor="middle">0</text>
<text x="175.50" y="136.70" font-size="11" fill="#111" text-anchor="middle">10</text>
<text x="194.70" y="136.70" font-size="11" fill="#111" text-anchor="middle">20</text>
<text x="213.90" y="136.70" font-size="11" fill="#111" text-anchor="middle">30</text>
<text x="190.00" y="150.60" font-size="12.3" fill="#111" text-anchor="middle">Deposition time</text>
<text x="190.00" y="166.20" font-size="12.3" fill="#111" text-anchor="middle">(min)</text>
<text x="124.40" y="149.50" font-size="12.35" fill="#111" text-anchor="start" transform="rotate(-90 124.4 149.5)">Deposition rate (nm/min)</text>
<path d="M162.60,111.60 L166.20,96.00 L195.40,47.10 L214.10,44.30" fill="none" stroke="#111" stroke-width="1.1" stroke-linejoin="round"/>
<line x1="162.60" y1="107.00" x2="162.60" y2="116.20" stroke="#111" stroke-width="1.1"/>
<line x1="160.30" y1="107.00" x2="164.90" y2="107.00" stroke="#111" stroke-width="1.1"/>
<line x1="160.30" y1="116.20" x2="164.90" y2="116.20" stroke="#111" stroke-width="1.1"/>
<rect x="160.30" y="109.30" width="4.60" height="4.60" fill="#111" stroke="none" stroke-width="1"/>
<line x1="166.20" y1="90.80" x2="166.20" y2="101.10" stroke="#111" stroke-width="1.1"/>
<line x1="163.90" y1="90.80" x2="168.50" y2="90.80" stroke="#111" stroke-width="1.1"/>
<line x1="163.90" y1="101.10" x2="168.50" y2="101.10" stroke="#111" stroke-width="1.1"/>
<rect x="163.90" y="93.70" width="4.60" height="4.60" fill="#111" stroke="none" stroke-width="1"/>
<line x1="195.40" y1="41.50" x2="195.40" y2="52.50" stroke="#111" stroke-width="1.1"/>
<line x1="193.10" y1="41.50" x2="197.70" y2="41.50" stroke="#111" stroke-width="1.1"/>
<line x1="193.10" y1="52.50" x2="197.70" y2="52.50" stroke="#111" stroke-width="1.1"/>
<rect x="193.10" y="44.80" width="4.60" height="4.60" fill="#111" stroke="none" stroke-width="1"/>
<line x1="214.10" y1="38.80" x2="214.10" y2="49.30" stroke="#111" stroke-width="1.1"/>
<line x1="211.80" y1="38.80" x2="216.40" y2="38.80" stroke="#111" stroke-width="1.1"/>
<line x1="211.80" y1="49.30" x2="216.40" y2="49.30" stroke="#111" stroke-width="1.1"/>
<rect x="211.80" y="42.00" width="4.60" height="4.60" fill="#111" stroke="none" stroke-width="1"/>
<clipPath id="cb"><rect x="241.2" y="0" width="211.2" height="399.0"/></clipPath>
<g clip-path="url(#cb)">
<path d="M241.20,72.30 L241.90,72.30 L242.60,72.30 L243.30,72.30 L244.00,72.30 L244.70,72.30 L245.40,72.30 L246.10,72.30 L246.80,72.30 L247.50,72.30 L248.20,72.30 L248.90,72.30 L249.60,72.30 L250.30,72.30 L251.00,72.30 L251.70,72.30 L252.40,72.30 L253.10,72.30 L253.80,72.30 L254.50,72.30 L255.20,72.30 L255.90,72.30 L256.60,72.30 L257.30,72.30 L258.00,72.30 L258.70,72.30 L259.40,72.30 L260.10,72.30 L260.80,72.30 L261.50,72.30 L262.20,72.30 L262.90,72.30 L263.60,72.30 L264.30,72.30 L265.00,72.30 L265.70,72.30 L266.40,72.30 L267.10,72.30 L267.80,72.30 L268.50,72.30 L269.20,72.30 L269.90,72.30 L270.60,72.30 L271.30,72.30 L272.00,72.30 L272.70,72.30 L273.40,72.30 L274.10,72.30 L274.80,72.30 L275.50,72.30 L276.20,72.30 L276.90,72.30 L277.60,72.30 L278.30,72.30 L279.00,72.30 L279.70,72.30 L280.40,72.30 L281.10,72.30 L281.80,72.30 L282.50,72.30 L283.20,72.30 L283.90,72.30 L284.60,72.30 L285.30,72.30 L286.00,72.30 L286.70,72.30 L287.40,72.30 L288.10,72.30 L288.80,72.30 L289.50,72.29 L290.20,72.29 L290.90,72.29 L291.60,72.29 L292.30,72.29 L293.00,72.29 L293.70,72.29 L294.40,72.28 L295.10,72.28 L295.80,72.28 L296.50,72.28 L297.20,72.27 L297.90,72.27 L298.60,72.26 L299.30,72.26 L300.00,72.25 L300.70,72.24 L301.40,72.23 L302.10,72.22 L302.80,72.21 L303.50,72.20 L304.20,72.18 L304.90,72.17 L305.60,72.15 L306.30,72.13 L307.00,72.10 L307.70,72.08 L308.40,72.05 L309.10,72.02 L309.80,71.98 L310.50,71.94 L311.20,71.89 L311.90,71.84 L312.60,71.79 L313.30,71.72 L314.00,71.66 L314.70,71.58 L315.40,71.50 L316.10,71.41 L316.80,71.31 L317.50,71.20 L318.20,71.08 L318.90,70.95 L319.60,70.81 L320.30,70.66 L321.00,70.49 L321.70,70.31 L322.40,70.11 L323.10,69.90 L323.80,69.68 L324.50,69.44 L325.20,69.17 L325.90,68.90 L326.60,68.60 L327.30,68.28 L328.00,67.94 L328.70,67.58 L329.40,67.20 L330.10,66.80 L330.80,66.37 L331.50,65.92 L332.20,65.45 L332.90,64.96 L333.60,64.44 L334.30,63.90 L335.00,63.33 L335.70,62.74 L336.40,62.13 L337.10,61.50 L337.80,60.84 L338.50,60.17 L339.20,59.47 L339.90,58.76 L340.60,58.03 L341.30,57.28 L342.00,56.52 L342.70,55.74 L343.40,54.95 L344.10,54.16 L344.80,53.36 L345.50,52.55 L346.20,51.74 L346.90,50.94 L347.60,50.13 L348.30,49.33 L349.00,48.54 L349.70,47.76 L350.40,47.00 L351.10,46.25 L351.80,45.52 L352.50,44.81 L353.20,44.13 L353.90,43.48 L354.60,42.86 L355.30,42.27 L356.00,41.72 L356.70,41.21 L357.40,40.73 L358.10,40.30 L358.80,39.92 L359.50,39.58 L360.20,39.29 L360.90,39.05 L361.60,38.86 L362.30,38.72 L363.00,38.63 L363.70,38.60 L364.40,38.62 L365.10,38.70 L365.80,38.83 L366.50,39.01 L367.20,39.25 L367.90,39.54 L368.60,39.89 L369.30,40.28 L370.00,40.72 L370.70,41.21 L371.40,41.73 L372.10,42.30 L372.80,42.91 L373.50,43.55 L374.20,44.23 L374.90,44.94 L375.60,45.67 L376.30,46.42 L377.00,47.20 L377.70,47.99 L378.40,48.79 L379.10,49.61 L379.80,50.44 L380.50,51.27 L381.20,52.10 L381.90,52.93 L382.60,53.76 L383.30,54.58 L384.00,55.39 L384.70,56.19 L385.40,56.98 L386.10,57.76 L386.80,58.52 L387.50,59.26 L388.20,59.98 L388.90,60.68 L389.60,61.36 L390.30,62.02 L391.00,62.65 L391.70,63.26 L392.40,63.84 L393.10,64.40 L393.80,64.94 L394.50,65.45 L395.20,65.93 L395.90,66.39 L396.60,66.83 L397.30,67.24 L398.00,67.63 L398.70,68.00 L399.40,68.34 L400.10,68.67 L400.80,68.97 L401.50,69.25 L402.20,69.51 L402.90,69.76 L403.60,69.98 L404.30,70.19 L405.00,70.39 L405.70,70.57 L406.40,70.73 L407.10,70.88 L407.80,71.02 L408.50,71.15 L409.20,71.27 L409.90,71.37 L410.60,71.47 L411.30,71.56 L412.00,71.64 L412.70,71.71 L413.40,71.77 L414.10,71.83 L414.80,71.88 L415.50,71.93 L416.20,71.97 L416.90,72.01 L417.60,72.05 L418.30,72.08 L419.00,72.10 L419.70,72.13 L420.40,72.15 L421.10,72.17 L421.80,72.19 L422.50,72.20 L423.20,72.21 L423.90,72.22 L424.60,72.23 L425.30,72.24 L426.00,72.25 L426.70,72.26 L427.40,72.26 L428.10,72.27 L428.80,72.27 L429.50,72.28 L430.20,72.28 L430.90,72.28 L431.60,72.29 L432.30,72.29 L433.00,72.29 L433.70,72.29 L434.40,72.29 L435.10,72.29 L435.80,72.29 L436.50,72.30 L437.20,72.30 L437.90,72.30 L438.60,72.30 L439.30,72.30 L440.00,72.30 L440.70,72.30 L441.40,72.30 L442.10,72.30 L442.80,72.30 L443.50,72.30 L444.20,72.30 L444.90,72.30 L445.60,72.30 L446.30,72.30 L447.00,72.30 L447.70,72.30 L448.40,72.30 L449.10,72.30 L449.80,72.30 L450.50,72.30 L451.20,72.30 L451.90,72.30" fill="none" stroke="#3048e0" stroke-width="1.2" stroke-linejoin="round"/>
<path d="M241.20,72.50 L452.40,72.80" fill="none" stroke="#4a8f86" stroke-width="1.2" stroke-linejoin="round"/>
<path d="M241.20,72.60 L242.20,72.60 L243.20,72.60 L244.20,72.60 L245.20,72.60 L246.20,72.60 L247.20,72.60 L248.20,72.60 L249.20,72.60 L250.20,72.60 L251.20,72.60 L252.20,72.60 L253.20,72.60 L254.20,72.60 L255.20,72.60 L256.20,72.60 L257.20,72.60 L258.20,72.60 L259.20,72.60 L260.20,72.60 L261.20,72.59 L262.20,72.59 L263.20,72.59 L264.20,72.59 L265.20,72.59 L266.20,72.59 L267.20,72.59 L268.20,72.59 L269.20,72.58 L270.20,72.58 L271.20,72.58 L272.20,72.58 L273.20,72.57 L274.20,72.57 L275.20,72.57 L276.20,72.56 L277.20,72.56 L278.20,72.55 L279.20,72.55 L280.20,72.54 L281.20,72.53 L282.20,72.52 L283.20,72.52 L284.20,72.51 L285.20,72.50 L286.20,72.49 L287.20,72.48 L288.20,72.46 L289.20,72.45 L290.20,72.43 L291.20,72.42 L292.20,72.40 L293.20,72.39 L294.20,72.37 L295.20,72.35 L296.20,72.33 L297.20,72.30 L298.20,72.28 L299.20,72.26 L300.20,72.23 L301.20,72.21 L302.20,72.18 L303.20,72.15 L304.20,72.12 L305.20,72.09 L306.20,72.06 L307.20,72.03 L308.20,72.00 L309.20,71.96 L310.20,71.93 L311.20,71.90 L312.20,71.87 L313.20,71.83 L314.20,71.80 L315.20,71.77 L316.20,71.73 L317.20,71.70 L318.20,71.67 L319.20,71.64 L320.20,71.61 L321.20,71.59 L322.20,71.56 L323.20,71.54 L324.20,71.51 L325.20,71.49 L326.20,71.47 L327.20,71.46 L328.20,71.44 L329.20,71.43 L330.20,71.42 L331.20,71.41 L332.20,71.40 L333.20,71.40 L334.20,71.40 L335.20,71.40 L336.20,71.41 L337.20,71.41 L338.20,71.42 L339.20,71.43 L340.20,71.45 L341.20,71.46 L342.20,71.48 L343.20,71.50 L344.20,71.52 L345.20,71.55 L346.20,71.57 L347.20,71.60 L348.20,71.63 L349.20,71.65 L350.20,71.68 L351.20,71.72 L352.20,71.75 L353.20,71.78 L354.20,71.81 L355.20,71.85 L356.20,71.88 L357.20,71.91 L358.20,71.94 L359.20,71.98 L360.20,72.01 L361.20,72.04 L362.20,72.07 L363.20,72.10 L364.20,72.13 L365.20,72.16 L366.20,72.19 L367.20,72.22 L368.20,72.24 L369.20,72.27 L370.20,72.29 L371.20,72.31 L372.20,72.33 L373.20,72.35 L374.20,72.37 L375.20,72.39 L376.20,72.41 L377.20,72.43 L378.20,72.44 L379.20,72.45 L380.20,72.47 L381.20,72.48 L382.20,72.49 L383.20,72.50 L384.20,72.51 L385.20,72.52 L386.20,72.53 L387.20,72.54 L388.20,72.54 L389.20,72.55 L390.20,72.55 L391.20,72.56 L392.20,72.56 L393.20,72.57 L394.20,72.57 L395.20,72.57 L396.20,72.58 L397.20,72.58 L398.20,72.58 L399.20,72.59 L400.20,72.59 L401.20,72.59 L402.20,72.59 L403.20,72.59 L404.20,72.59 L405.20,72.59 L406.20,72.59 L407.20,72.60 L408.20,72.60 L409.20,72.60 L410.20,72.60 L411.20,72.60 L412.20,72.60 L413.20,72.60 L414.20,72.60 L415.20,72.60 L416.20,72.60 L417.20,72.60 L418.20,72.60 L419.20,72.60 L420.20,72.60 L421.20,72.60 L422.20,72.60 L423.20,72.60 L424.20,72.60 L425.20,72.60 L426.20,72.60 L427.20,72.60 L428.20,72.60 L429.20,72.60 L430.20,72.60 L431.20,72.60 L432.20,72.60 L433.20,72.60 L434.20,72.60 L435.20,72.60 L436.20,72.60 L437.20,72.60 L438.20,72.60 L439.20,72.60 L440.20,72.60 L441.20,72.60 L442.20,72.60 L443.20,72.60 L444.20,72.60 L445.20,72.60 L446.20,72.60 L447.20,72.60 L448.20,72.60 L449.20,72.60 L450.20,72.60 L451.20,72.60 L452.20,72.60" fill="none" stroke="#4a9a3a" stroke-width="1.0" stroke-linejoin="round" stroke-opacity="0.8"/>
<path d="M241.20,64.72 L241.80,64.78 L242.40,64.78 L243.00,64.89 L243.60,64.71 L244.20,64.75 L244.80,64.93 L245.40,64.89 L246.00,64.80 L246.60,64.77 L247.20,64.52 L247.80,64.57 L248.40,64.51 L249.00,64.38 L249.60,64.55 L250.20,64.57 L250.80,64.50 L251.40,64.59 L252.00,64.55 L252.60,64.53 L253.20,64.72 L253.80,64.68 L254.40,64.72 L255.00,64.82 L255.60,64.74 L256.20,64.88 L256.80,64.74 L257.40,64.66 L258.00,64.61 L258.60,64.55 L259.20,64.63 L259.80,64.59 L260.40,64.64 L261.00,64.79 L261.60,64.86 L262.20,64.81 L262.80,64.98 L263.40,64.94 L264.00,65.00 L264.60,64.84 L265.20,64.98 L265.80,64.87 L266.40,64.91 L267.00,64.75 L267.60,64.66 L268.20,64.69 L268.80,64.71 L269.40,64.65 L270.00,64.60 L270.60,64.67 L271.20,64.83 L271.80,64.71 L272.40,64.76 L273.00,64.89 L273.60,64.63 L274.20,64.56 L274.80,64.42 L275.40,64.14 L276.00,64.26 L276.60,64.01 L277.20,63.89 L277.80,64.12 L278.40,64.06 L279.00,64.12 L279.60,64.10 L280.20,64.12 L280.80,64.20 L281.40,64.13 L282.00,64.01 L282.60,64.18 L283.20,64.17 L283.80,64.32 L284.40,64.20 L285.00,64.26 L285.60,64.17 L286.20,64.16 L286.80,63.95 L287.40,63.92 L288.00,64.07 L288.60,64.11 L289.20,63.98 L289.80,64.09 L290.40,63.99 L291.00,64.00 L291.60,63.97 L292.20,63.86 L292.80,63.87 L293.40,63.95 L294.00,63.84 L294.60,63.82 L295.20,64.05 L295.80,64.12 L296.40,63.96 L297.00,63.74 L297.60,63.61 L298.20,63.88 L298.80,63.86 L299.40,63.72 L300.00,63.70 L300.60,63.74 L301.20,63.87 L301.80,63.85 L302.40,63.53 L303.00,63.75 L303.60,63.66 L304.20,63.69 L304.80,63.54 L305.40,63.51 L306.00,63.61 L306.60,63.76 L307.20,63.49 L307.80,63.57 L308.40,63.49 L309.00,63.53 L309.60,63.56 L310.20,63.42 L310.80,63.22 L311.40,63.26 L312.00,62.94 L312.60,62.84 L313.20,62.77 L313.80,62.54 L314.40,62.52 L315.00,62.58 L315.60,62.48 L316.20,62.73 L316.80,62.56 L317.40,62.45 L318.00,62.61 L318.60,62.58 L319.20,62.49 L319.80,62.35 L320.40,62.20 L321.00,62.19 L321.60,62.22 L322.20,61.96 L322.80,61.88 L323.40,61.59 L324.00,61.41 L324.60,61.05 L325.20,60.94 L325.80,60.63 L326.40,60.33 L327.00,59.94 L327.60,59.73 L328.20,59.46 L328.80,59.31 L329.40,58.89 L330.00,58.63 L330.60,58.34 L331.20,58.12 L331.80,57.79 L332.40,57.57 L333.00,57.27 L333.60,56.98 L334.20,56.47 L334.80,56.11 L335.40,55.62 L336.00,55.30 L336.60,54.72 L337.20,54.18 L337.80,53.65 L338.40,53.32 L339.00,52.94 L339.60,52.45 L340.20,51.93 L340.80,51.39 L341.40,50.74 L342.00,50.29 L342.60,49.77 L343.20,49.13 L343.80,48.57 L344.40,47.91 L345.00,47.30 L345.60,46.89 L346.20,46.10 L346.80,45.50 L347.40,44.81 L348.00,43.98 L348.60,43.18 L349.20,42.71 L349.80,41.97 L350.40,41.33 L351.00,40.62 L351.60,39.94 L352.20,39.43 L352.80,38.92 L353.40,38.24 L354.00,37.79 L354.60,37.26 L355.20,36.85 L355.80,36.51 L356.40,36.20 L357.00,35.81 L357.60,35.37 L358.20,34.85 L358.80,34.47 L359.40,33.92 L360.00,33.48 L360.60,33.03 L361.20,32.88 L361.80,32.75 L362.40,32.59 L363.00,32.38 L363.60,32.42 L364.20,32.42 L364.80,32.46 L365.40,32.35 L366.00,32.30 L366.60,32.60 L367.20,33.02 L367.80,33.54 L368.40,33.92 L369.00,34.38 L369.60,35.02 L370.20,35.68 L370.80,36.13 L371.40,36.63 L372.00,36.91 L372.60,37.61 L373.20,38.30 L373.80,38.93 L374.40,39.52 L375.00,40.16 L375.60,40.77 L376.20,41.57 L376.80,42.01 L377.40,42.65 L378.00,43.29 L378.60,44.12 L379.20,44.73 L379.80,45.58 L380.40,46.13 L381.00,46.86 L381.60,47.38 L382.20,48.05 L382.80,48.73 L383.40,49.41 L384.00,49.90 L384.60,50.56 L385.20,51.45 L385.80,52.25 L386.40,52.69 L387.00,52.99 L387.60,53.54 L388.20,54.25 L388.80,54.97 L389.40,55.25 L390.00,55.61 L390.60,56.10 L391.20,56.56 L391.80,57.15 L392.40,57.39 L393.00,57.75 L393.60,58.03 L394.20,58.37 L394.80,58.81 L395.40,59.26 L396.00,59.59 L396.60,60.01 L397.20,60.14 L397.80,60.63 L398.40,61.09 L399.00,61.17 L399.60,61.65 L400.20,61.87 L400.80,62.16 L401.40,62.33 L402.00,62.42 L402.60,62.52 L403.20,62.96 L403.80,62.86 L404.40,62.92 L405.00,62.84 L405.60,63.13 L406.20,63.36 L406.80,63.38 L407.40,63.36 L408.00,63.65 L408.60,63.96 L409.20,64.29 L409.80,64.39 L410.40,64.35 L411.00,64.50 L411.60,64.58 L412.20,64.63 L412.80,64.56 L413.40,64.72 L414.00,64.83 L414.60,64.90 L415.20,65.17 L415.80,65.36 L416.40,65.40 L417.00,65.40 L417.60,65.15 L418.20,65.08 L418.80,65.29 L419.40,65.13 L420.00,64.98 L420.60,65.03 L421.20,65.14 L421.80,65.38 L422.40,65.55 L423.00,65.62 L423.60,65.64 L424.20,65.86 L424.80,65.79 L425.40,65.85 L426.00,65.84 L426.60,65.83 L427.20,65.81 L427.80,65.90 L428.40,65.93 L429.00,66.11 L429.60,66.08 L430.20,66.04 L430.80,65.97 L431.40,65.86 L432.00,65.87 L432.60,65.79 L433.20,65.98 L433.80,66.04 L434.40,66.16 L435.00,66.17 L435.60,66.16 L436.20,66.17 L436.80,66.20 L437.40,65.88 L438.00,65.97 L438.60,65.87 L439.20,66.05 L439.80,65.92 L440.40,65.96 L441.00,65.98 L441.60,66.09 L442.20,66.02 L442.80,66.10 L443.40,66.03 L444.00,66.08 L444.60,66.03 L445.20,65.82 L445.80,65.87 L446.40,65.85 L447.00,65.82 L447.60,65.75 L448.20,65.87 L448.80,66.09 L449.40,66.43 L450.00,66.39 L450.60,66.48 L451.20,66.37 L451.80,66.28 L452.40,66.30" fill="none" stroke="#111" stroke-width="3.9" stroke-linejoin="round"/>
<path d="M241.20,64.70 L241.80,64.69 L242.40,64.69 L243.00,64.69 L243.60,64.68 L244.20,64.68 L244.80,64.68 L245.40,64.68 L246.00,64.67 L246.60,64.67 L247.20,64.67 L247.80,64.66 L248.40,64.66 L249.00,64.66 L249.60,64.65 L250.20,64.65 L250.80,64.64 L251.40,64.64 L252.00,64.64 L252.60,64.63 L253.20,64.63 L253.80,64.63 L254.40,64.62 L255.00,64.62 L255.60,64.61 L256.20,64.61 L256.80,64.61 L257.40,64.60 L258.00,64.60 L258.60,64.59 L259.20,64.59 L259.80,64.58 L260.40,64.58 L261.00,64.57 L261.60,64.57 L262.20,64.56 L262.80,64.56 L263.40,64.55 L264.00,64.55 L264.60,64.54 L265.20,64.54 L265.80,64.53 L266.40,64.53 L267.00,64.52 L267.60,64.52 L268.20,64.51 L268.80,64.50 L269.40,64.50 L270.00,64.49 L270.60,64.49 L271.20,64.48 L271.80,64.47 L272.40,64.47 L273.00,64.46 L273.60,64.45 L274.20,64.45 L274.80,64.44 L275.40,64.43 L276.00,64.42 L276.60,64.42 L277.20,64.41 L277.80,64.40 L278.40,64.39 L279.00,64.38 L279.60,64.38 L280.20,64.37 L280.80,64.36 L281.40,64.35 L282.00,64.34 L282.60,64.33 L283.20,64.32 L283.80,64.31 L284.40,64.30 L285.00,64.29 L285.60,64.28 L286.20,64.27 L286.80,64.26 L287.40,64.25 L288.00,64.24 L288.60,64.23 L289.20,64.22 L289.80,64.21 L290.40,64.19 L291.00,64.18 L291.60,64.17 L292.20,64.15 L292.80,64.14 L293.40,64.13 L294.00,64.11 L294.60,64.10 L295.20,64.08 L295.80,64.07 L296.40,64.05 L297.00,64.03 L297.60,64.02 L298.20,64.00 L298.80,63.98 L299.40,63.96 L300.00,63.94 L300.60,63.92 L301.20,63.90 L301.80,63.88 L302.40,63.86 L303.00,63.83 L303.60,63.81 L304.20,63.78 L304.80,63.75 L305.40,63.73 L306.00,63.70 L306.60,63.66 L307.20,63.63 L307.80,63.60 L308.40,63.56 L309.00,63.52 L309.60,63.48 L310.20,63.44 L310.80,63.39 L311.40,63.35 L312.00,63.30 L312.60,63.24 L313.20,63.19 L313.80,63.13 L314.40,63.06 L315.00,62.99 L315.60,62.92 L316.20,62.85 L316.80,62.77 L317.40,62.68 L318.00,62.59 L318.60,62.49 L319.20,62.39 L319.80,62.28 L320.40,62.16 L321.00,62.04 L321.60,61.91 L322.20,61.77 L322.80,61.62 L323.40,61.47 L324.00,61.30 L324.60,61.13 L325.20,60.94 L325.80,60.75 L326.40,60.54 L327.00,60.33 L327.60,60.10 L328.20,59.86 L328.80,59.60 L329.40,59.34 L330.00,59.06 L330.60,58.77 L331.20,58.46 L331.80,58.14 L332.40,57.80 L333.00,57.45 L333.60,57.09 L334.20,56.70 L334.80,56.31 L335.40,55.90 L336.00,55.47 L336.60,55.03 L337.20,54.57 L337.80,54.09 L338.40,53.60 L339.00,53.10 L339.60,52.58 L340.20,52.05 L340.80,51.50 L341.40,50.94 L342.00,50.36 L342.60,49.78 L343.20,49.18 L343.80,48.57 L344.40,47.95 L345.00,47.32 L345.60,46.68 L346.20,46.04 L346.80,45.39 L347.40,44.74 L348.00,44.08 L348.60,43.42 L349.20,42.77 L349.80,42.11 L350.40,41.46 L351.00,40.81 L351.60,40.17 L352.20,39.54 L352.80,38.93 L353.40,38.32 L354.00,37.74 L354.60,37.17 L355.20,36.62 L355.80,36.10 L356.40,35.60 L357.00,35.13 L357.60,34.69 L358.20,34.29 L358.80,33.92 L359.40,33.59 L360.00,33.30 L360.60,33.05 L361.20,32.85 L361.80,32.69 L362.40,32.58 L363.00,32.51 L363.60,32.50 L364.20,32.53 L364.80,32.60 L365.40,32.73 L366.00,32.90 L366.60,33.12 L367.20,33.38 L367.80,33.69 L368.40,34.04 L369.00,34.42 L369.60,34.85 L370.20,35.30 L370.80,35.79 L371.40,36.31 L372.00,36.86 L372.60,37.43 L373.20,38.03 L373.80,38.64 L374.40,39.27 L375.00,39.91 L375.60,40.57 L376.20,41.24 L376.80,41.92 L377.40,42.60 L378.00,43.29 L378.60,43.97 L379.20,44.66 L379.80,45.35 L380.40,46.04 L381.00,46.72 L381.60,47.39 L382.20,48.06 L382.80,48.72 L383.40,49.37 L384.00,50.01 L384.60,50.64 L385.20,51.26 L385.80,51.86 L386.40,52.45 L387.00,53.03 L387.60,53.59 L388.20,54.14 L388.80,54.67 L389.40,55.19 L390.00,55.69 L390.60,56.17 L391.20,56.64 L391.80,57.10 L392.40,57.53 L393.00,57.95 L393.60,58.36 L394.20,58.74 L394.80,59.12 L395.40,59.47 L396.00,59.82 L396.60,60.14 L397.20,60.46 L397.80,60.75 L398.40,61.04 L399.00,61.31 L399.60,61.57 L400.20,61.81 L400.80,62.04 L401.40,62.26 L402.00,62.47 L402.60,62.67 L403.20,62.86 L403.80,63.03 L404.40,63.20 L405.00,63.36 L405.60,63.51 L406.20,63.65 L406.80,63.78 L407.40,63.91 L408.00,64.03 L408.60,64.14 L409.20,64.24 L409.80,64.34 L410.40,64.44 L411.00,64.52 L411.60,64.61 L412.20,64.68 L412.80,64.76 L413.40,64.83 L414.00,64.89 L414.60,64.95 L415.20,65.01 L415.80,65.07 L416.40,65.12 L417.00,65.17 L417.60,65.21 L418.20,65.26 L418.80,65.30 L419.40,65.34 L420.00,65.38 L420.60,65.41 L421.20,65.45 L421.80,65.48 L422.40,65.51 L423.00,65.54 L423.60,65.57 L424.20,65.59 L424.80,65.62 L425.40,65.64 L426.00,65.67 L426.60,65.69 L427.20,65.71 L427.80,65.73 L428.40,65.75 L429.00,65.77 L429.60,65.79 L430.20,65.81 L430.80,65.83 L431.40,65.84 L432.00,65.86 L432.60,65.88 L433.20,65.89 L433.80,65.91 L434.40,65.92 L435.00,65.94 L435.60,65.95 L436.20,65.96 L436.80,65.98 L437.40,65.99 L438.00,66.00 L438.60,66.01 L439.20,66.03 L439.80,66.04 L440.40,66.05 L441.00,66.06 L441.60,66.07 L442.20,66.08 L442.80,66.09 L443.40,66.10 L444.00,66.11 L444.60,66.12 L445.20,66.13 L445.80,66.14 L446.40,66.15 L447.00,66.16 L447.60,66.17 L448.20,66.18 L448.80,66.18 L449.40,66.19 L450.00,66.20 L450.60,66.21 L451.20,66.22 L451.80,66.22 L452.40,66.23" fill="none" stroke="#a81212" stroke-width="2.6" stroke-linejoin="round"/>
<path d="M241.20,80.60 L241.80,80.77 L242.40,81.08 L243.00,81.41 L243.60,80.53 L244.20,80.70 L244.80,80.63 L245.40,80.65 L246.00,80.34 L246.60,79.78 L247.20,78.93 L247.80,79.30 L248.40,79.30 L249.00,79.37 L249.60,78.81 L250.20,79.05 L250.80,79.26 L251.40,79.44 L252.00,79.14 L252.60,79.25 L253.20,79.35 L253.80,79.83 L254.40,80.02 L255.00,80.05 L255.60,80.36 L256.20,80.56 L256.80,80.53 L257.40,80.40 L258.00,80.38 L258.60,80.24 L259.20,80.23 L259.80,80.68 L260.40,80.78 L261.00,80.75 L261.60,81.24 L262.20,81.57 L262.80,81.27 L263.40,81.55 L264.00,81.26 L264.60,81.54 L265.20,81.73 L265.80,81.41 L266.40,80.88 L267.00,81.02 L267.60,80.93 L268.20,80.86 L268.80,80.26 L269.40,79.90 L270.00,79.66 L270.60,79.92 L271.20,80.17 L271.80,80.05 L272.40,79.69 L273.00,80.16 L273.60,80.57 L274.20,80.63 L274.80,80.83 L275.40,80.86 L276.00,81.05 L276.60,81.41 L277.20,80.99 L277.80,80.78 L278.40,81.01 L279.00,80.61 L279.60,80.93 L280.20,81.23 L280.80,81.51 L281.40,82.08 L282.00,82.11 L282.60,81.83 L283.20,81.89 L283.80,81.32 L284.40,80.91 L285.00,80.52 L285.60,80.25 L286.20,79.67 L286.80,80.22 L287.40,80.82 L288.00,80.98 L288.60,81.10 L289.20,81.21 L289.80,81.12 L290.40,81.50 L291.00,80.99 L291.60,80.35 L292.20,80.39 L292.80,80.25 L293.40,80.22 L294.00,79.98 L294.60,80.03 L295.20,80.07 L295.80,80.36 L296.40,80.11 L297.00,80.20 L297.60,80.34 L298.20,80.64 L298.80,80.55 L299.40,80.44 L300.00,80.27 L300.60,80.64 L301.20,80.87 L301.80,80.64 L302.40,80.38 L303.00,80.53 L303.60,80.68 L304.20,80.54 L304.80,80.23 L305.40,79.89 L306.00,80.06 L306.60,79.95 L307.20,79.66 L307.80,79.72 L308.40,79.65 L309.00,79.82 L309.60,79.92 L310.20,79.75 L310.80,79.78 L311.40,79.98 L312.00,79.80 L312.60,80.12 L313.20,79.92 L313.80,80.07 L314.40,79.73 L315.00,79.90 L315.60,79.90 L316.20,80.15 L316.80,79.94 L317.40,80.21 L318.00,79.84 L318.60,80.32 L319.20,80.69 L319.80,80.57 L320.40,80.43 L321.00,80.32 L321.60,80.37 L322.20,80.69 L322.80,80.49 L323.40,79.83 L324.00,79.93 L324.60,80.01 L325.20,80.35 L325.80,80.23 L326.40,79.52 L327.00,79.27 L327.60,79.71 L328.20,79.27 L328.80,79.16 L329.40,79.22 L330.00,79.09 L330.60,79.59 L331.20,79.55 L331.80,78.89 L332.40,79.01 L333.00,78.63 L333.60,78.12 L334.20,78.01 L334.80,77.65 L335.40,77.67 L336.00,77.93 L336.60,77.88 L337.20,78.25 L337.80,78.30 L338.40,78.13 L339.00,78.09 L339.60,77.91 L340.20,78.10 L340.80,78.14 L341.40,77.56 L342.00,77.38 L342.60,77.38 L343.20,77.39 L343.80,77.81 L344.40,77.37 L345.00,77.52 L345.60,77.87 L346.20,77.84 L346.80,77.98 L347.40,78.16 L348.00,78.15 L348.60,78.42 L349.20,78.49 L349.80,78.23 L350.40,78.36 L351.00,78.63 L351.60,78.97 L352.20,78.98 L352.80,79.06 L353.40,79.33 L354.00,79.35 L354.60,79.53 L355.20,79.63 L355.80,79.68 L356.40,79.61 L357.00,79.51 L357.60,79.77 L358.20,80.45 L358.80,80.67 L359.40,80.82 L360.00,81.17 L360.60,81.18 L361.20,82.17 L361.80,82.40 L362.40,82.32 L363.00,83.06 L363.60,83.05 L364.20,83.45 L364.80,84.37 L365.40,84.86 L366.00,84.75 L366.60,85.28 L367.20,85.36 L367.80,85.53 L368.40,85.00 L369.00,84.63 L369.60,83.87 L370.20,83.45 L370.80,83.19 L371.40,82.71 L372.00,82.48 L372.60,82.62 L373.20,82.28 L373.80,82.24 L374.40,82.06 L375.00,81.87 L375.60,81.13 L376.20,80.97 L376.80,80.43 L377.40,80.26 L378.00,79.76 L378.60,79.71 L379.20,79.34 L379.80,79.23 L380.40,79.01 L381.00,78.89 L381.60,78.85 L382.20,78.72 L382.80,78.73 L383.40,79.01 L384.00,79.38 L384.60,79.37 L385.20,79.74 L385.80,80.02 L386.40,80.41 L387.00,80.65 L387.60,80.39 L388.20,80.38 L388.80,80.69 L389.40,80.27 L390.00,80.02 L390.60,79.89 L391.20,79.71 L391.80,79.70 L392.40,79.92 L393.00,79.64 L393.60,79.90 L394.20,80.14 L394.80,80.20 L395.40,80.27 L396.00,80.09 L396.60,79.62 L397.20,79.54 L397.80,79.50 L398.40,79.60 L399.00,79.23 L399.60,79.16 L400.20,79.24 L400.80,79.39 L401.40,79.48 L402.00,79.55 L402.60,79.31 L403.20,79.84 L403.80,79.60 L404.40,79.99 L405.00,80.36 L405.60,80.46 L406.20,80.45 L406.80,80.32 L407.40,79.87 L408.00,80.02 L408.60,79.73 L409.20,80.16 L409.80,80.07 L410.40,80.34 L411.00,80.52 L411.60,80.83 L412.20,81.09 L412.80,81.08 L413.40,80.68 L414.00,80.88 L414.60,80.24 L415.20,80.33 L415.80,80.39 L416.40,80.34 L417.00,80.85 L417.60,80.58 L418.20,80.61 L418.80,81.09 L419.40,80.79 L420.00,80.93 L420.60,80.54 L421.20,79.94 L421.80,80.14 L422.40,79.81 L423.00,79.63 L423.60,79.48 L424.20,79.25 L424.80,79.32 L425.40,79.66 L426.00,79.23 L426.60,79.55 L427.20,79.52 L427.80,79.88 L428.40,79.85 L429.00,80.11 L429.60,79.77 L430.20,79.55 L430.80,79.47 L431.40,79.33 L432.00,79.22 L432.60,79.33 L433.20,78.89 L433.80,79.00 L434.40,79.41 L435.00,79.18 L435.60,79.44 L436.20,79.51 L436.80,79.25 L437.40,79.46 L438.00,79.78 L438.60,79.77 L439.20,80.12 L439.80,80.14 L440.40,79.78 L441.00,79.72 L441.60,79.93 L442.20,79.83 L442.80,80.13 L443.40,80.18 L444.00,80.30 L444.60,80.61 L445.20,80.79 L445.80,80.95 L446.40,80.80 L447.00,80.85 L447.60,80.36 L448.20,80.28 L448.80,80.32 L449.40,79.95 L450.00,80.00 L450.60,80.15 L451.20,79.93 L451.80,80.04 L452.40,79.81" fill="none" stroke="#111" stroke-width="3.0" stroke-linejoin="round"/>
<text x="244.20" y="18.70" font-size="15.4" fill="#111" text-anchor="start">20 min ZnO</text>
<path d="M241.20,178.80 L241.90,178.80 L242.60,178.80 L243.30,178.80 L244.00,178.80 L244.70,178.80 L245.40,178.80 L246.10,178.80 L246.80,178.80 L247.50,178.80 L248.20,178.80 L248.90,178.80 L249.60,178.80 L250.30,178.80 L251.00,178.80 L251.70,178.80 L252.40,178.80 L253.10,178.80 L253.80,178.80 L254.50,178.80 L255.20,178.80 L255.90,178.80 L256.60,178.80 L257.30,178.80 L258.00,178.80 L258.70,178.80 L259.40,178.80 L260.10,178.80 L260.80,178.80 L261.50,178.80 L262.20,178.80 L262.90,178.80 L263.60,178.80 L264.30,178.80 L265.00,178.80 L265.70,178.80 L266.40,178.80 L267.10,178.80 L267.80,178.80 L268.50,178.80 L269.20,178.80 L269.90,178.80 L270.60,178.80 L271.30,178.80 L272.00,178.80 L272.70,178.80 L273.40,178.80 L274.10,178.80 L274.80,178.80 L275.50,178.80 L276.20,178.80 L276.90,178.80 L277.60,178.80 L278.30,178.80 L279.00,178.80 L279.70,178.80 L280.40,178.80 L281.10,178.80 L281.80,178.80 L282.50,178.80 L283.20,178.80 L283.90,178.80 L284.60,178.80 L285.30,178.80 L286.00,178.80 L286.70,178.80 L287.40,178.80 L288.10,178.80 L288.80,178.79 L289.50,178.79 L290.20,178.79 L290.90,178.79 L291.60,178.79 L292.30,178.79 L293.00,178.78 L293.70,178.78 L294.40,178.78 L295.10,178.77 L295.80,178.77 L296.50,178.77 L297.20,178.76 L297.90,178.75 L298.60,178.74 L299.30,178.73 L300.00,178.72 L300.70,178.71 L301.40,178.70 L302.10,178.68 L302.80,178.66 L303.50,178.64 L304.20,178.61 L304.90,178.58 L305.60,178.55 L306.30,178.52 L307.00,178.47 L307.70,178.43 L308.40,178.37 L309.10,178.32 L309.80,178.25 L310.50,178.17 L311.20,178.09 L311.90,178.00 L312.60,177.89 L313.30,177.78 L314.00,177.65 L314.70,177.51 L315.40,177.36 L316.10,177.18 L316.80,177.00 L317.50,176.79 L318.20,176.56 L318.90,176.32 L319.60,176.05 L320.30,175.76 L321.00,175.44 L321.70,175.09 L322.40,174.72 L323.10,174.32 L323.80,173.89 L324.50,173.43 L325.20,172.94 L325.90,172.41 L326.60,171.84 L327.30,171.24 L328.00,170.61 L328.70,169.94 L329.40,169.23 L330.10,168.48 L330.80,167.69 L331.50,166.87 L332.20,166.01 L332.90,165.11 L333.60,164.18 L334.30,163.21 L335.00,162.20 L335.70,161.17 L336.40,160.11 L337.10,159.01 L337.80,157.90 L338.50,156.76 L339.20,155.60 L339.90,154.42 L340.60,153.23 L341.30,152.04 L342.00,150.84 L342.70,149.64 L343.40,148.44 L344.10,147.26 L344.80,146.08 L345.50,144.93 L346.20,143.80 L346.90,142.70 L347.60,141.64 L348.30,140.61 L349.00,139.62 L349.70,138.69 L350.40,137.81 L351.10,136.98 L351.80,136.22 L352.50,135.53 L353.20,134.90 L353.90,134.35 L354.60,133.87 L355.30,133.47 L356.00,133.16 L356.70,132.92 L357.40,132.77 L358.10,132.70 L358.80,132.72 L359.50,132.84 L360.20,133.05 L360.90,133.35 L361.60,133.75 L362.30,134.23 L363.00,134.80 L363.70,135.45 L364.40,136.18 L365.10,136.98 L365.80,137.86 L366.50,138.79 L367.20,139.79 L367.90,140.84 L368.60,141.94 L369.30,143.08 L370.00,144.26 L370.70,145.46 L371.40,146.70 L372.10,147.94 L372.80,149.21 L373.50,150.48 L374.20,151.75 L374.90,153.01 L375.60,154.27 L376.30,155.52 L377.00,156.74 L377.70,157.95 L378.40,159.13 L379.10,160.28 L379.80,161.40 L380.50,162.49 L381.20,163.54 L381.90,164.55 L382.60,165.52 L383.30,166.46 L384.00,167.35 L384.70,168.19 L385.40,169.00 L386.10,169.76 L386.80,170.48 L387.50,171.16 L388.20,171.80 L388.90,172.40 L389.60,172.96 L390.30,173.48 L391.00,173.96 L391.70,174.41 L392.40,174.83 L393.10,175.21 L393.80,175.57 L394.50,175.89 L395.20,176.19 L395.90,176.46 L396.60,176.71 L397.30,176.93 L398.00,177.14 L398.70,177.32 L399.40,177.49 L400.10,177.64 L400.80,177.78 L401.50,177.90 L402.20,178.01 L402.90,178.10 L403.60,178.19 L404.30,178.27 L405.00,178.34 L405.70,178.40 L406.40,178.45 L407.10,178.50 L407.80,178.54 L408.50,178.57 L409.20,178.60 L409.90,178.63 L410.60,178.66 L411.30,178.68 L412.00,178.69 L412.70,178.71 L413.40,178.72 L414.10,178.74 L414.80,178.74 L415.50,178.75 L416.20,178.76 L416.90,178.77 L417.60,178.77 L418.30,178.78 L419.00,178.78 L419.70,178.78 L420.40,178.79 L421.10,178.79 L421.80,178.79 L422.50,178.79 L423.20,178.79 L423.90,178.79 L424.60,178.80 L425.30,178.80 L426.00,178.80 L426.70,178.80 L427.40,178.80 L428.10,178.80 L428.80,178.80 L429.50,178.80 L430.20,178.80 L430.90,178.80 L431.60,178.80 L432.30,178.80 L433.00,178.80 L433.70,178.80 L434.40,178.80 L435.10,178.80 L435.80,178.80 L436.50,178.80 L437.20,178.80 L437.90,178.80 L438.60,178.80 L439.30,178.80 L440.00,178.80 L440.70,178.80 L441.40,178.80 L442.10,178.80 L442.80,178.80 L443.50,178.80 L444.20,178.80 L444.90,178.80 L445.60,178.80 L446.30,178.80 L447.00,178.80 L447.70,178.80 L448.40,178.80 L449.10,178.80 L449.80,178.80 L450.50,178.80 L451.20,178.80 L451.90,178.80" fill="none" stroke="#3048e0" stroke-width="1.2" stroke-linejoin="round"/>
<path d="M241.20,179.00 L452.40,179.30" fill="none" stroke="#4a8f86" stroke-width="1.2" stroke-linejoin="round"/>
<path d="M241.20,179.10 L242.20,179.10 L243.20,179.10 L244.20,179.10 L245.20,179.10 L246.20,179.09 L247.20,179.09 L248.20,179.09 L249.20,179.09 L250.20,179.09 L251.20,179.09 L252.20,179.09 L253.20,179.09 L254.20,179.08 L255.20,179.08 L256.20,179.08 L257.20,179.08 L258.20,179.07 L259.20,179.07 L260.20,179.07 L261.20,179.06 L262.20,179.06 L263.20,179.05 L264.20,179.04 L265.20,179.04 L266.20,179.03 L267.20,179.02 L268.20,179.01 L269.20,179.00 L270.20,178.99 L271.20,178.98 L272.20,178.97 L273.20,178.95 L274.20,178.94 L275.20,178.92 L276.20,178.91 L277.20,178.89 L278.20,178.87 L279.20,178.85 L280.20,178.83 L281.20,178.80 L282.20,178.78 L283.20,178.75 L284.20,178.73 L285.20,178.70 L286.20,178.67 L287.20,178.64 L288.20,178.61 L289.20,178.57 L290.20,178.54 L291.20,178.51 L292.20,178.47 L293.20,178.43 L294.20,178.40 L295.20,178.36 L296.20,178.32 L297.20,178.28 L298.20,178.24 L299.20,178.20 L300.20,178.17 L301.20,178.13 L302.20,178.09 L303.20,178.05 L304.20,178.02 L305.20,177.98 L306.20,177.95 L307.20,177.92 L308.20,177.89 L309.20,177.86 L310.20,177.83 L311.20,177.81 L312.20,177.79 L313.20,177.77 L314.20,177.75 L315.20,177.73 L316.20,177.72 L317.20,177.71 L318.20,177.70 L319.20,177.70 L320.20,177.70 L321.20,177.70 L322.20,177.71 L323.20,177.71 L324.20,177.73 L325.20,177.74 L326.20,177.75 L327.20,177.77 L328.20,177.79 L329.20,177.82 L330.20,177.84 L331.20,177.87 L332.20,177.90 L333.20,177.93 L334.20,177.96 L335.20,178.00 L336.20,178.03 L337.20,178.07 L338.20,178.11 L339.20,178.14 L340.20,178.18 L341.20,178.22 L342.20,178.26 L343.20,178.30 L344.20,178.34 L345.20,178.37 L346.20,178.41 L347.20,178.45 L348.20,178.48 L349.20,178.52 L350.20,178.55 L351.20,178.59 L352.20,178.62 L353.20,178.65 L354.20,178.68 L355.20,178.71 L356.20,178.74 L357.20,178.76 L358.20,178.79 L359.20,178.81 L360.20,178.84 L361.20,178.86 L362.20,178.88 L363.20,178.90 L364.20,178.91 L365.20,178.93 L366.20,178.95 L367.20,178.96 L368.20,178.97 L369.20,178.99 L370.20,179.00 L371.20,179.01 L372.20,179.02 L373.20,179.02 L374.20,179.03 L375.20,179.04 L376.20,179.05 L377.20,179.05 L378.20,179.06 L379.20,179.06 L380.20,179.07 L381.20,179.07 L382.20,179.07 L383.20,179.08 L384.20,179.08 L385.20,179.08 L386.20,179.08 L387.20,179.09 L388.20,179.09 L389.20,179.09 L390.20,179.09 L391.20,179.09 L392.20,179.09 L393.20,179.09 L394.20,179.10 L395.20,179.10 L396.20,179.10 L397.20,179.10 L398.20,179.10 L399.20,179.10 L400.20,179.10 L401.20,179.10 L402.20,179.10 L403.20,179.10 L404.20,179.10 L405.20,179.10 L406.20,179.10 L407.20,179.10 L408.20,179.10 L409.20,179.10 L410.20,179.10 L411.20,179.10 L412.20,179.10 L413.20,179.10 L414.20,179.10 L415.20,179.10 L416.20,179.10 L417.20,179.10 L418.20,179.10 L419.20,179.10 L420.20,179.10 L421.20,179.10 L422.20,179.10 L423.20,179.10 L424.20,179.10 L425.20,179.10 L426.20,179.10 L427.20,179.10 L428.20,179.10 L429.20,179.10 L430.20,179.10 L431.20,179.10 L432.20,179.10 L433.20,179.10 L434.20,179.10 L435.20,179.10 L436.20,179.10 L437.20,179.10 L438.20,179.10 L439.20,179.10 L440.20,179.10 L441.20,179.10 L442.20,179.10 L443.20,179.10 L444.20,179.10 L445.20,179.10 L446.20,179.10 L447.20,179.10 L448.20,179.10 L449.20,179.10 L450.20,179.10 L451.20,179.10 L452.20,179.10" fill="none" stroke="#4a9a3a" stroke-width="1.0" stroke-linejoin="round" stroke-opacity="0.8"/>
<path d="M241.20,169.55 L241.80,169.34 L242.40,169.34 L243.00,169.71 L243.60,169.66 L244.20,169.92 L244.80,169.89 L245.40,169.83 L246.00,169.97 L246.60,170.08 L247.20,169.90 L247.80,170.08 L248.40,169.77 L249.00,169.73 L249.60,169.91 L250.20,169.82 L250.80,169.67 L251.40,169.79 L252.00,169.80 L252.60,169.95 L253.20,169.88 L253.80,169.75 L254.40,169.80 L255.00,169.97 L255.60,170.08 L256.20,169.98 L256.80,169.94 L257.40,170.08 L258.00,170.21 L258.60,170.09 L259.20,170.14 L259.80,169.75 L260.40,169.83 L261.00,169.81 L261.60,169.85 L262.20,169.81 L262.80,169.78 L263.40,169.66 L264.00,169.91 L264.60,169.89 L265.20,169.86 L265.80,169.74 L266.40,169.52 L267.00,169.82 L267.60,169.81 L268.20,169.76 L268.80,169.59 L269.40,169.74 L270.00,169.77 L270.60,170.05 L271.20,169.90 L271.80,169.91 L272.40,169.99 L273.00,170.01 L273.60,169.90 L274.20,169.90 L274.80,169.67 L275.40,169.59 L276.00,169.57 L276.60,169.62 L277.20,169.43 L277.80,169.40 L278.40,169.36 L279.00,169.42 L279.60,169.45 L280.20,169.49 L280.80,169.37 L281.40,169.60 L282.00,169.69 L282.60,169.79 L283.20,169.67 L283.80,169.60 L284.40,169.45 L285.00,169.34 L285.60,169.38 L286.20,169.33 L286.80,169.31 L287.40,169.38 L288.00,169.37 L288.60,169.40 L289.20,169.52 L289.80,169.55 L290.40,169.68 L291.00,169.77 L291.60,169.76 L292.20,169.73 L292.80,169.71 L293.40,169.69 L294.00,169.78 L294.60,169.68 L295.20,169.37 L295.80,169.32 L296.40,169.23 L297.00,169.33 L297.60,169.28 L298.20,169.12 L298.80,169.18 L299.40,169.27 L300.00,169.27 L300.60,169.51 L301.20,169.47 L301.80,169.36 L302.40,169.13 L303.00,168.82 L303.60,168.64 L304.20,168.67 L304.80,168.46 L305.40,168.46 L306.00,168.45 L306.60,168.50 L307.20,168.49 L307.80,168.78 L308.40,168.55 L309.00,168.47 L309.60,168.30 L310.20,168.27 L310.80,168.18 L311.40,168.17 L312.00,167.96 L312.60,167.96 L313.20,167.77 L313.80,167.60 L314.40,167.31 L315.00,167.15 L315.60,166.90 L316.20,166.65 L316.80,166.56 L317.40,166.48 L318.00,166.22 L318.60,166.10 L319.20,165.87 L319.80,165.67 L320.40,165.36 L321.00,164.95 L321.60,164.46 L322.20,164.07 L322.80,163.72 L323.40,163.40 L324.00,162.97 L324.60,162.57 L325.20,162.11 L325.80,161.62 L326.40,161.03 L327.00,160.49 L327.60,159.84 L328.20,159.17 L328.80,158.45 L329.40,157.91 L330.00,157.16 L330.60,156.78 L331.20,156.09 L331.80,155.55 L332.40,154.80 L333.00,154.12 L333.60,153.19 L334.20,152.55 L334.80,151.57 L335.40,150.61 L336.00,149.65 L336.60,148.77 L337.20,147.84 L337.80,147.02 L338.40,146.05 L339.00,145.10 L339.60,144.26 L340.20,143.19 L340.80,142.21 L341.40,141.29 L342.00,140.27 L342.60,139.50 L343.20,138.50 L343.80,137.61 L344.40,136.64 L345.00,135.78 L345.60,134.86 L346.20,134.00 L346.80,133.06 L347.40,132.44 L348.00,131.47 L348.60,130.85 L349.20,130.19 L349.80,129.54 L350.40,128.76 L351.00,128.09 L351.60,127.32 L352.20,126.82 L352.80,126.15 L353.40,125.64 L354.00,125.23 L354.60,125.01 L355.20,124.59 L355.80,124.41 L356.40,124.29 L357.00,124.08 L357.60,124.05 L358.20,123.81 L358.80,123.79 L359.40,123.96 L360.00,124.18 L360.60,124.33 L361.20,124.69 L361.80,124.89 L362.40,125.35 L363.00,125.88 L363.60,126.39 L364.20,126.85 L364.80,127.56 L365.40,128.28 L366.00,129.10 L366.60,130.00 L367.20,130.94 L367.80,132.00 L368.40,132.98 L369.00,133.78 L369.60,134.86 L370.20,135.92 L370.80,137.01 L371.40,137.97 L372.00,138.88 L372.60,140.03 L373.20,141.29 L373.80,142.35 L374.40,143.37 L375.00,144.36 L375.60,145.42 L376.20,146.39 L376.80,147.32 L377.40,148.19 L378.00,149.05 L378.60,150.10 L379.20,151.09 L379.80,151.96 L380.40,153.03 L381.00,153.79 L381.60,154.70 L382.20,155.66 L382.80,156.48 L383.40,157.15 L384.00,157.95 L384.60,158.60 L385.20,159.52 L385.80,160.27 L386.40,160.92 L387.00,161.62 L387.60,162.28 L388.20,162.72 L388.80,163.19 L389.40,163.48 L390.00,163.84 L390.60,164.07 L391.20,164.30 L391.80,164.72 L392.40,165.20 L393.00,165.54 L393.60,166.05 L394.20,166.30 L394.80,166.72 L395.40,166.83 L396.00,166.98 L396.60,167.05 L397.20,167.42 L397.80,167.54 L398.40,167.69 L399.00,167.91 L399.60,168.26 L400.20,168.45 L400.80,168.65 L401.40,168.63 L402.00,168.66 L402.60,168.71 L403.20,168.75 L403.80,168.91 L404.40,169.13 L405.00,169.18 L405.60,169.21 L406.20,169.30 L406.80,169.58 L407.40,169.67 L408.00,169.57 L408.60,169.53 L409.20,169.58 L409.80,169.72 L410.40,169.74 L411.00,169.59 L411.60,169.59 L412.20,169.73 L412.80,169.64 L413.40,169.67 L414.00,169.73 L414.60,169.75 L415.20,169.84 L415.80,170.02 L416.40,170.04 L417.00,170.23 L417.60,170.18 L418.20,170.26 L418.80,170.17 L419.40,170.19 L420.00,170.10 L420.60,170.15 L421.20,170.01 L421.80,170.04 L422.40,169.94 L423.00,169.92 L423.60,170.03 L424.20,170.02 L424.80,169.89 L425.40,170.02 L426.00,170.14 L426.60,170.16 L427.20,170.36 L427.80,170.44 L428.40,170.37 L429.00,170.42 L429.60,170.35 L430.20,170.37 L430.80,170.32 L431.40,170.32 L432.00,170.22 L432.60,170.27 L433.20,170.40 L433.80,170.44 L434.40,170.48 L435.00,170.59 L435.60,170.66 L436.20,170.64 L436.80,170.71 L437.40,170.64 L438.00,170.61 L438.60,170.52 L439.20,170.45 L439.80,170.34 L440.40,170.46 L441.00,170.34 L441.60,170.14 L442.20,170.06 L442.80,170.00 L443.40,169.97 L444.00,169.98 L444.60,169.92 L445.20,170.12 L445.80,170.29 L446.40,170.47 L447.00,170.45 L447.60,170.55 L448.20,170.66 L448.80,170.73 L449.40,170.44 L450.00,170.49 L450.60,170.58 L451.20,170.71 L451.80,170.54 L452.40,170.41" fill="none" stroke="#111" stroke-width="3.9" stroke-linejoin="round"/>
<path d="M241.20,169.99 L241.80,169.99 L242.40,169.99 L243.00,169.99 L243.60,169.99 L244.20,169.98 L244.80,169.98 L245.40,169.98 L246.00,169.98 L246.60,169.97 L247.20,169.97 L247.80,169.97 L248.40,169.97 L249.00,169.96 L249.60,169.96 L250.20,169.96 L250.80,169.96 L251.40,169.95 L252.00,169.95 L252.60,169.95 L253.20,169.95 L253.80,169.94 L254.40,169.94 L255.00,169.94 L255.60,169.93 L256.20,169.93 L256.80,169.93 L257.40,169.93 L258.00,169.92 L258.60,169.92 L259.20,169.92 L259.80,169.91 L260.40,169.91 L261.00,169.91 L261.60,169.90 L262.20,169.90 L262.80,169.89 L263.40,169.89 L264.00,169.89 L264.60,169.88 L265.20,169.88 L265.80,169.88 L266.40,169.87 L267.00,169.87 L267.60,169.86 L268.20,169.86 L268.80,169.85 L269.40,169.85 L270.00,169.85 L270.60,169.84 L271.20,169.84 L271.80,169.83 L272.40,169.83 L273.00,169.82 L273.60,169.82 L274.20,169.81 L274.80,169.81 L275.40,169.80 L276.00,169.79 L276.60,169.79 L277.20,169.78 L277.80,169.78 L278.40,169.77 L279.00,169.76 L279.60,169.76 L280.20,169.75 L280.80,169.75 L281.40,169.74 L282.00,169.73 L282.60,169.72 L283.20,169.72 L283.80,169.71 L284.40,169.70 L285.00,169.69 L285.60,169.68 L286.20,169.68 L286.80,169.67 L287.40,169.66 L288.00,169.65 L288.60,169.64 L289.20,169.63 L289.80,169.62 L290.40,169.60 L291.00,169.59 L291.60,169.58 L292.20,169.57 L292.80,169.55 L293.40,169.54 L294.00,169.52 L294.60,169.51 L295.20,169.49 L295.80,169.47 L296.40,169.45 L297.00,169.43 L297.60,169.41 L298.20,169.38 L298.80,169.36 L299.40,169.33 L300.00,169.30 L300.60,169.27 L301.20,169.24 L301.80,169.20 L302.40,169.17 L303.00,169.12 L303.60,169.08 L304.20,169.03 L304.80,168.98 L305.40,168.93 L306.00,168.87 L306.60,168.80 L307.20,168.74 L307.80,168.66 L308.40,168.58 L309.00,168.50 L309.60,168.40 L310.20,168.31 L310.80,168.20 L311.40,168.09 L312.00,167.96 L312.60,167.83 L313.20,167.69 L313.80,167.54 L314.40,167.38 L315.00,167.20 L315.60,167.02 L316.20,166.82 L316.80,166.61 L317.40,166.39 L318.00,166.15 L318.60,165.89 L319.20,165.62 L319.80,165.34 L320.40,165.03 L321.00,164.71 L321.60,164.37 L322.20,164.01 L322.80,163.64 L323.40,163.24 L324.00,162.82 L324.60,162.38 L325.20,161.92 L325.80,161.43 L326.40,160.93 L327.00,160.40 L327.60,159.84 L328.20,159.27 L328.80,158.67 L329.40,158.05 L330.00,157.40 L330.60,156.73 L331.20,156.04 L331.80,155.33 L332.40,154.59 L333.00,153.83 L333.60,153.05 L334.20,152.25 L334.80,151.43 L335.40,150.59 L336.00,149.73 L336.60,148.85 L337.20,147.96 L337.80,147.06 L338.40,146.14 L339.00,145.22 L339.60,144.28 L340.20,143.34 L340.80,142.39 L341.40,141.44 L342.00,140.48 L342.60,139.53 L343.20,138.58 L343.80,137.64 L344.40,136.70 L345.00,135.78 L345.60,134.86 L346.20,133.97 L346.80,133.09 L347.40,132.24 L348.00,131.41 L348.60,130.61 L349.20,129.84 L349.80,129.10 L350.40,128.39 L351.00,127.73 L351.60,127.11 L352.20,126.53 L352.80,125.99 L353.40,125.51 L354.00,125.07 L354.60,124.69 L355.20,124.37 L355.80,124.10 L356.40,123.88 L357.00,123.73 L357.60,123.64 L358.20,123.60 L358.80,123.63 L359.40,123.73 L360.00,123.91 L360.60,124.16 L361.20,124.48 L361.80,124.86 L362.40,125.32 L363.00,125.84 L363.60,126.41 L364.20,127.05 L364.80,127.74 L365.40,128.48 L366.00,129.27 L366.60,130.11 L367.20,130.98 L367.80,131.89 L368.40,132.83 L369.00,133.80 L369.60,134.79 L370.20,135.81 L370.80,136.84 L371.40,137.89 L372.00,138.94 L372.60,140.00 L373.20,141.07 L373.80,142.13 L374.40,143.19 L375.00,144.25 L375.60,145.29 L376.20,146.33 L376.80,147.35 L377.40,148.36 L378.00,149.35 L378.60,150.32 L379.20,151.27 L379.80,152.19 L380.40,153.09 L381.00,153.97 L381.60,154.82 L382.20,155.64 L382.80,156.44 L383.40,157.21 L384.00,157.94 L384.60,158.65 L385.20,159.33 L385.80,159.99 L386.40,160.61 L387.00,161.20 L387.60,161.77 L388.20,162.31 L388.80,162.82 L389.40,163.30 L390.00,163.76 L390.60,164.20 L391.20,164.60 L391.80,164.99 L392.40,165.35 L393.00,165.69 L393.60,166.01 L394.20,166.31 L394.80,166.59 L395.40,166.85 L396.00,167.09 L396.60,167.32 L397.20,167.53 L397.80,167.73 L398.40,167.91 L399.00,168.08 L399.60,168.23 L400.20,168.38 L400.80,168.51 L401.40,168.64 L402.00,168.75 L402.60,168.85 L403.20,168.95 L403.80,169.04 L404.40,169.12 L405.00,169.20 L405.60,169.27 L406.20,169.34 L406.80,169.40 L407.40,169.45 L408.00,169.50 L408.60,169.55 L409.20,169.59 L409.80,169.63 L410.40,169.67 L411.00,169.70 L411.60,169.73 L412.20,169.76 L412.80,169.79 L413.40,169.82 L414.00,169.84 L414.60,169.86 L415.20,169.88 L415.80,169.90 L416.40,169.92 L417.00,169.94 L417.60,169.95 L418.20,169.97 L418.80,169.98 L419.40,170.00 L420.00,170.01 L420.60,170.02 L421.20,170.03 L421.80,170.05 L422.40,170.06 L423.00,170.07 L423.60,170.08 L424.20,170.09 L424.80,170.10 L425.40,170.11 L426.00,170.11 L426.60,170.12 L427.20,170.13 L427.80,170.14 L428.40,170.15 L429.00,170.15 L429.60,170.16 L430.20,170.17 L430.80,170.17 L431.40,170.18 L432.00,170.19 L432.60,170.19 L433.20,170.20 L433.80,170.21 L434.40,170.21 L435.00,170.22 L435.60,170.22 L436.20,170.23 L436.80,170.23 L437.40,170.24 L438.00,170.25 L438.60,170.25 L439.20,170.26 L439.80,170.26 L440.40,170.26 L441.00,170.27 L441.60,170.27 L442.20,170.28 L442.80,170.28 L443.40,170.29 L444.00,170.29 L444.60,170.30 L445.20,170.30 L445.80,170.30 L446.40,170.31 L447.00,170.31 L447.60,170.31 L448.20,170.32 L448.80,170.32 L449.40,170.33 L450.00,170.33 L450.60,170.33 L451.20,170.34 L451.80,170.34 L452.40,170.34" fill="none" stroke="#a81212" stroke-width="2.6" stroke-linejoin="round"/>
<path d="M241.20,186.66 L241.80,186.55 L242.40,186.52 L243.00,186.41 L243.60,186.47 L244.20,186.41 L244.80,186.38 L245.40,186.51 L246.00,186.22 L246.60,185.91 L247.20,186.18 L247.80,186.39 L248.40,186.39 L249.00,186.61 L249.60,186.15 L250.20,186.37 L250.80,186.49 L251.40,185.96 L252.00,186.05 L252.60,185.94 L253.20,186.03 L253.80,185.94 L254.40,186.02 L255.00,186.12 L255.60,186.60 L256.20,186.62 L256.80,186.20 L257.40,186.20 L258.00,186.10 L258.60,185.96 L259.20,186.24 L259.80,186.02 L260.40,185.75 L261.00,185.95 L261.60,186.06 L262.20,186.05 L262.80,185.75 L263.40,185.52 L264.00,185.63 L264.60,185.55 L265.20,185.85 L265.80,185.45 L266.40,185.53 L267.00,185.86 L267.60,185.80 L268.20,185.73 L268.80,185.96 L269.40,186.15 L270.00,186.21 L270.60,186.61 L271.20,186.12 L271.80,186.28 L272.40,186.27 L273.00,186.05 L273.60,185.49 L274.20,185.41 L274.80,184.74 L275.40,185.05 L276.00,184.99 L276.60,185.25 L277.20,185.12 L277.80,185.05 L278.40,185.01 L279.00,184.99 L279.60,185.41 L280.20,185.26 L280.80,185.03 L281.40,184.98 L282.00,184.87 L282.60,185.26 L283.20,185.65 L283.80,185.09 L284.40,185.15 L285.00,184.90 L285.60,185.13 L286.20,185.15 L286.80,184.81 L287.40,184.76 L288.00,185.05 L288.60,185.07 L289.20,185.14 L289.80,185.35 L290.40,185.84 L291.00,185.94 L291.60,185.96 L292.20,185.75 L292.80,185.55 L293.40,185.49 L294.00,185.23 L294.60,185.03 L295.20,185.34 L295.80,185.48 L296.40,185.84 L297.00,185.83 L297.60,186.09 L298.20,186.05 L298.80,186.10 L299.40,185.49 L300.00,185.49 L300.60,185.06 L301.20,185.07 L301.80,185.16 L302.40,185.17 L303.00,185.50 L303.60,185.90 L304.20,186.10 L304.80,186.69 L305.40,186.74 L306.00,186.85 L306.60,187.25 L307.20,186.89 L307.80,186.97 L308.40,186.58 L309.00,186.40 L309.60,186.47 L310.20,186.45 L310.80,186.44 L311.40,186.83 L312.00,186.89 L312.60,187.09 L313.20,187.30 L313.80,187.37 L314.40,187.20 L315.00,187.29 L315.60,186.89 L316.20,187.12 L316.80,186.96 L317.40,187.24 L318.00,187.17 L318.60,187.64 L319.20,187.82 L319.80,187.91 L320.40,188.12 L321.00,188.26 L321.60,187.65 L322.20,188.12 L322.80,188.20 L323.40,187.98 L324.00,187.78 L324.60,187.59 L325.20,187.81 L325.80,188.20 L326.40,188.11 L327.00,187.72 L327.60,187.74 L328.20,188.70 L328.80,189.10 L329.40,189.17 L330.00,189.16 L330.60,189.36 L331.20,189.97 L331.80,190.26 L332.40,189.68 L333.00,189.42 L333.60,189.51 L334.20,189.92 L334.80,190.05 L335.40,189.90 L336.00,189.94 L336.60,190.03 L337.20,190.23 L337.80,190.04 L338.40,189.74 L339.00,189.58 L339.60,189.19 L340.20,188.69 L340.80,188.30 L341.40,187.91 L342.00,187.86 L342.60,187.59 L343.20,187.37 L343.80,187.00 L344.40,187.01 L345.00,187.24 L345.60,187.02 L346.20,187.05 L346.80,187.33 L347.40,186.99 L348.00,187.08 L348.60,186.82 L349.20,186.67 L349.80,186.68 L350.40,186.19 L351.00,185.87 L351.60,185.59 L352.20,185.76 L352.80,185.79 L353.40,185.69 L354.00,185.82 L354.60,185.76 L355.20,185.35 L355.80,185.47 L356.40,185.31 L357.00,184.79 L357.60,184.60 L358.20,183.89 L358.80,183.94 L359.40,184.14 L360.00,183.97 L360.60,183.71 L361.20,183.97 L361.80,183.31 L362.40,183.61 L363.00,183.62 L363.60,183.42 L364.20,183.40 L364.80,183.36 L365.40,183.40 L366.00,184.35 L366.60,184.31 L367.20,184.62 L367.80,184.23 L368.40,184.38 L369.00,184.75 L369.60,184.96 L370.20,184.57 L370.80,184.64 L371.40,184.80 L372.00,185.24 L372.60,185.31 L373.20,185.22 L373.80,185.30 L374.40,185.94 L375.00,186.37 L375.60,185.90 L376.20,186.64 L376.80,186.91 L377.40,187.19 L378.00,187.82 L378.60,187.86 L379.20,187.67 L379.80,188.12 L380.40,187.84 L381.00,187.91 L381.60,188.10 L382.20,188.06 L382.80,188.24 L383.40,188.28 L384.00,189.02 L384.60,188.99 L385.20,189.21 L385.80,189.25 L386.40,189.17 L387.00,188.96 L387.60,189.22 L388.20,188.96 L388.80,189.03 L389.40,188.63 L390.00,188.52 L390.60,188.02 L391.20,187.83 L391.80,187.58 L392.40,187.04 L393.00,186.77 L393.60,186.97 L394.20,186.68 L394.80,186.40 L395.40,186.48 L396.00,186.21 L396.60,186.23 L397.20,186.01 L397.80,185.81 L398.40,185.78 L399.00,185.38 L399.60,184.80 L400.20,184.54 L400.80,184.49 L401.40,184.15 L402.00,184.14 L402.60,184.23 L403.20,184.81 L403.80,185.20 L404.40,185.29 L405.00,184.98 L405.60,185.39 L406.20,185.28 L406.80,185.21 L407.40,185.09 L408.00,184.84 L408.60,184.87 L409.20,185.00 L409.80,184.67 L410.40,184.40 L411.00,184.24 L411.60,184.25 L412.20,184.41 L412.80,184.07 L413.40,184.00 L414.00,184.36 L414.60,184.85 L415.20,184.62 L415.80,184.75 L416.40,184.97 L417.00,185.67 L417.60,186.05 L418.20,186.38 L418.80,186.08 L419.40,186.66 L420.00,186.70 L420.60,186.50 L421.20,186.75 L421.80,186.43 L422.40,186.08 L423.00,186.24 L423.60,185.97 L424.20,186.26 L424.80,186.52 L425.40,186.51 L426.00,186.74 L426.60,186.80 L427.20,187.10 L427.80,187.15 L428.40,186.87 L429.00,186.76 L429.60,186.50 L430.20,186.66 L430.80,186.66 L431.40,186.53 L432.00,186.66 L432.60,186.50 L433.20,186.31 L433.80,186.26 L434.40,186.11 L435.00,186.29 L435.60,186.32 L436.20,186.33 L436.80,186.50 L437.40,186.80 L438.00,186.65 L438.60,186.30 L439.20,186.16 L439.80,185.78 L440.40,185.67 L441.00,185.61 L441.60,185.41 L442.20,185.61 L442.80,185.71 L443.40,185.70 L444.00,185.64 L444.60,185.77 L445.20,185.75 L445.80,185.94 L446.40,185.38 L447.00,185.38 L447.60,185.51 L448.20,185.37 L448.80,185.26 L449.40,185.46 L450.00,185.40 L450.60,185.67 L451.20,185.87 L451.80,185.85 L452.40,186.15" fill="none" stroke="#111" stroke-width="3.0" stroke-linejoin="round"/>
<text x="244.20" y="122.90" font-size="15.4" fill="#111" text-anchor="start">5 min ZnO</text>
<path d="M241.20,278.40 L241.90,278.40 L242.60,278.40 L243.30,278.40 L244.00,278.40 L244.70,278.40 L245.40,278.40 L246.10,278.40 L246.80,278.40 L247.50,278.40 L248.20,278.40 L248.90,278.40 L249.60,278.40 L250.30,278.40 L251.00,278.40 L251.70,278.40 L252.40,278.40 L253.10,278.40 L253.80,278.40 L254.50,278.40 L255.20,278.40 L255.90,278.40 L256.60,278.40 L257.30,278.40 L258.00,278.40 L258.70,278.40 L259.40,278.40 L260.10,278.40 L260.80,278.40 L261.50,278.40 L262.20,278.40 L262.90,278.40 L263.60,278.40 L264.30,278.40 L265.00,278.40 L265.70,278.40 L266.40,278.40 L267.10,278.40 L267.80,278.40 L268.50,278.40 L269.20,278.40 L269.90,278.40 L270.60,278.40 L271.30,278.40 L272.00,278.40 L272.70,278.40 L273.40,278.40 L274.10,278.40 L274.80,278.40 L275.50,278.40 L276.20,278.40 L276.90,278.40 L277.60,278.40 L278.30,278.40 L279.00,278.40 L279.70,278.40 L280.40,278.40 L281.10,278.40 L281.80,278.40 L282.50,278.40 L283.20,278.40 L283.90,278.39 L284.60,278.39 L285.30,278.39 L286.00,278.39 L286.70,278.39 L287.40,278.39 L288.10,278.38 L288.80,278.38 L289.50,278.38 L290.20,278.38 L290.90,278.37 L291.60,278.37 L292.30,278.36 L293.00,278.35 L293.70,278.35 L294.40,278.34 L295.10,278.33 L295.80,278.32 L296.50,278.30 L297.20,278.29 L297.90,278.27 L298.60,278.25 L299.30,278.23 L300.00,278.20 L300.70,278.18 L301.40,278.14 L302.10,278.11 L302.80,278.07 L303.50,278.02 L304.20,277.97 L304.90,277.91 L305.60,277.85 L306.30,277.78 L307.00,277.69 L307.70,277.61 L308.40,277.51 L309.10,277.40 L309.80,277.28 L310.50,277.14 L311.20,277.00 L311.90,276.83 L312.60,276.66 L313.30,276.46 L314.00,276.25 L314.70,276.02 L315.40,275.77 L316.10,275.49 L316.80,275.20 L317.50,274.87 L318.20,274.53 L318.90,274.15 L319.60,273.75 L320.30,273.31 L321.00,272.85 L321.70,272.35 L322.40,271.82 L323.10,271.26 L323.80,270.66 L324.50,270.02 L325.20,269.34 L325.90,268.63 L326.60,267.88 L327.30,267.08 L328.00,266.25 L328.70,265.38 L329.40,264.47 L330.10,263.53 L330.80,262.54 L331.50,261.51 L332.20,260.45 L332.90,259.36 L333.60,258.23 L334.30,257.07 L335.00,255.88 L335.70,254.66 L336.40,253.42 L337.10,252.15 L337.80,250.87 L338.50,249.57 L339.20,248.27 L339.90,246.95 L340.60,245.63 L341.30,244.32 L342.00,243.01 L342.70,241.71 L343.40,240.42 L344.10,239.16 L344.80,237.92 L345.50,236.71 L346.20,235.53 L346.90,234.39 L347.60,233.30 L348.30,232.26 L349.00,231.27 L349.70,230.35 L350.40,229.48 L351.10,228.68 L351.80,227.95 L352.50,227.30 L353.20,226.72 L353.90,226.22 L354.60,225.81 L355.30,225.48 L356.00,225.23 L356.70,225.07 L357.40,225.00 L358.10,225.03 L358.80,225.15 L359.50,225.37 L360.20,225.68 L360.90,226.10 L361.60,226.60 L362.30,227.20 L363.00,227.89 L363.70,228.65 L364.40,229.50 L365.10,230.43 L365.80,231.42 L366.50,232.48 L367.20,233.60 L367.90,234.77 L368.60,235.99 L369.30,237.26 L370.00,238.56 L370.70,239.89 L371.40,241.25 L372.10,242.63 L372.80,244.01 L373.50,245.41 L374.20,246.81 L374.90,248.21 L375.60,249.60 L376.30,250.97 L377.00,252.33 L377.70,253.67 L378.40,254.98 L379.10,256.27 L379.80,257.52 L380.50,258.74 L381.20,259.92 L381.90,261.06 L382.60,262.17 L383.30,263.23 L384.00,264.25 L384.70,265.22 L385.40,266.15 L386.10,267.04 L386.80,267.88 L387.50,268.68 L388.20,269.43 L388.90,270.14 L389.60,270.81 L390.30,271.44 L391.00,272.02 L391.70,272.57 L392.40,273.08 L393.10,273.56 L393.80,274.00 L394.50,274.41 L395.20,274.79 L395.90,275.14 L396.60,275.46 L397.30,275.75 L398.00,276.02 L398.70,276.26 L399.40,276.49 L400.10,276.69 L400.80,276.87 L401.50,277.04 L402.20,277.19 L402.90,277.33 L403.60,277.45 L404.30,277.56 L405.00,277.66 L405.70,277.75 L406.40,277.83 L407.10,277.90 L407.80,277.96 L408.50,278.02 L409.20,278.07 L409.90,278.11 L410.60,278.15 L411.30,278.18 L412.00,278.21 L412.70,278.24 L413.40,278.26 L414.10,278.28 L414.80,278.30 L415.50,278.31 L416.20,278.32 L416.90,278.33 L417.60,278.34 L418.30,278.35 L419.00,278.36 L419.70,278.37 L420.40,278.37 L421.10,278.38 L421.80,278.38 L422.50,278.38 L423.20,278.39 L423.90,278.39 L424.60,278.39 L425.30,278.39 L426.00,278.39 L426.70,278.39 L427.40,278.40 L428.10,278.40 L428.80,278.40 L429.50,278.40 L430.20,278.40 L430.90,278.40 L431.60,278.40 L432.30,278.40 L433.00,278.40 L433.70,278.40 L434.40,278.40 L435.10,278.40 L435.80,278.40 L436.50,278.40 L437.20,278.40 L437.90,278.40 L438.60,278.40 L439.30,278.40 L440.00,278.40 L440.70,278.40 L441.40,278.40 L442.10,278.40 L442.80,278.40 L443.50,278.40 L444.20,278.40 L444.90,278.40 L445.60,278.40 L446.30,278.40 L447.00,278.40 L447.70,278.40 L448.40,278.40 L449.10,278.40 L449.80,278.40 L450.50,278.40 L451.20,278.40 L451.90,278.40" fill="none" stroke="#3048e0" stroke-width="1.2" stroke-linejoin="round"/>
<path d="M241.20,278.60 L452.40,278.90" fill="none" stroke="#4a8f86" stroke-width="1.2" stroke-linejoin="round"/>
<path d="M241.20,278.70 L242.20,278.70 L243.20,278.70 L244.20,278.70 L245.20,278.70 L246.20,278.70 L247.20,278.70 L248.20,278.70 L249.20,278.69 L250.20,278.69 L251.20,278.69 L252.20,278.69 L253.20,278.69 L254.20,278.69 L255.20,278.69 L256.20,278.69 L257.20,278.68 L258.20,278.68 L259.20,278.68 L260.20,278.68 L261.20,278.67 L262.20,278.67 L263.20,278.67 L264.20,278.66 L265.20,278.66 L266.20,278.65 L267.20,278.65 L268.20,278.64 L269.20,278.63 L270.20,278.62 L271.20,278.62 L272.20,278.61 L273.20,278.60 L274.20,278.59 L275.20,278.58 L276.20,278.56 L277.20,278.55 L278.20,278.53 L279.20,278.52 L280.20,278.50 L281.20,278.49 L282.20,278.47 L283.20,278.45 L284.20,278.43 L285.20,278.40 L286.20,278.38 L287.20,278.36 L288.20,278.33 L289.20,278.31 L290.20,278.28 L291.20,278.25 L292.20,278.22 L293.20,278.19 L294.20,278.16 L295.20,278.13 L296.20,278.10 L297.20,278.06 L298.20,278.03 L299.20,278.00 L300.20,277.97 L301.20,277.93 L302.20,277.90 L303.20,277.87 L304.20,277.83 L305.20,277.80 L306.20,277.77 L307.20,277.74 L308.20,277.71 L309.20,277.69 L310.20,277.66 L311.20,277.64 L312.20,277.61 L313.20,277.59 L314.20,277.57 L315.20,277.56 L316.20,277.54 L317.20,277.53 L318.20,277.52 L319.20,277.51 L320.20,277.50 L321.20,277.50 L322.20,277.50 L323.20,277.50 L324.20,277.51 L325.20,277.51 L326.20,277.52 L327.20,277.53 L328.20,277.55 L329.20,277.56 L330.20,277.58 L331.20,277.60 L332.20,277.62 L333.20,277.65 L334.20,277.67 L335.20,277.70 L336.20,277.73 L337.20,277.75 L338.20,277.78 L339.20,277.82 L340.20,277.85 L341.20,277.88 L342.20,277.91 L343.20,277.95 L344.20,277.98 L345.20,278.01 L346.20,278.04 L347.20,278.08 L348.20,278.11 L349.20,278.14 L350.20,278.17 L351.20,278.20 L352.20,278.23 L353.20,278.26 L354.20,278.29 L355.20,278.32 L356.20,278.34 L357.20,278.37 L358.20,278.39 L359.20,278.41 L360.20,278.43 L361.20,278.45 L362.20,278.47 L363.20,278.49 L364.20,278.51 L365.20,278.53 L366.20,278.54 L367.20,278.55 L368.20,278.57 L369.20,278.58 L370.20,278.59 L371.20,278.60 L372.20,278.61 L373.20,278.62 L374.20,278.63 L375.20,278.64 L376.20,278.64 L377.20,278.65 L378.20,278.65 L379.20,278.66 L380.20,278.66 L381.20,278.67 L382.20,278.67 L383.20,278.67 L384.20,278.68 L385.20,278.68 L386.20,278.68 L387.20,278.69 L388.20,278.69 L389.20,278.69 L390.20,278.69 L391.20,278.69 L392.20,278.69 L393.20,278.69 L394.20,278.69 L395.20,278.70 L396.20,278.70 L397.20,278.70 L398.20,278.70 L399.20,278.70 L400.20,278.70 L401.20,278.70 L402.20,278.70 L403.20,278.70 L404.20,278.70 L405.20,278.70 L406.20,278.70 L407.20,278.70 L408.20,278.70 L409.20,278.70 L410.20,278.70 L411.20,278.70 L412.20,278.70 L413.20,278.70 L414.20,278.70 L415.20,278.70 L416.20,278.70 L417.20,278.70 L418.20,278.70 L419.20,278.70 L420.20,278.70 L421.20,278.70 L422.20,278.70 L423.20,278.70 L424.20,278.70 L425.20,278.70 L426.20,278.70 L427.20,278.70 L428.20,278.70 L429.20,278.70 L430.20,278.70 L431.20,278.70 L432.20,278.70 L433.20,278.70 L434.20,278.70 L435.20,278.70 L436.20,278.70 L437.20,278.70 L438.20,278.70 L439.20,278.70 L440.20,278.70 L441.20,278.70 L442.20,278.70 L443.20,278.70 L444.20,278.70 L445.20,278.70 L446.20,278.70 L447.20,278.70 L448.20,278.70 L449.20,278.70 L450.20,278.70 L451.20,278.70 L452.20,278.70" fill="none" stroke="#4a9a3a" stroke-width="1.0" stroke-linejoin="round" stroke-opacity="0.8"/>
<path d="M241.20,268.91 L241.80,268.88 L242.40,268.83 L243.00,268.81 L243.60,268.92 L244.20,268.85 L244.80,268.87 L245.40,268.82 L246.00,268.76 L246.60,268.63 L247.20,268.65 L247.80,268.59 L248.40,268.63 L249.00,268.54 L249.60,268.59 L250.20,268.59 L250.80,268.73 L251.40,268.66 L252.00,268.67 L252.60,268.57 L253.20,268.55 L253.80,268.61 L254.40,268.72 L255.00,268.85 L255.60,269.02 L256.20,269.04 L256.80,268.99 L257.40,269.16 L258.00,269.10 L258.60,269.03 L259.20,268.78 L259.80,268.77 L260.40,268.83 L261.00,268.92 L261.60,268.83 L262.20,268.79 L262.80,268.75 L263.40,268.99 L264.00,268.89 L264.60,268.84 L265.20,268.88 L265.80,268.75 L266.40,268.60 L267.00,268.86 L267.60,268.79 L268.20,268.89 L268.80,268.92 L269.40,269.05 L270.00,269.21 L270.60,269.24 L271.20,268.98 L271.80,268.80 L272.40,268.67 L273.00,268.65 L273.60,268.33 L274.20,268.30 L274.80,268.41 L275.40,268.51 L276.00,268.59 L276.60,268.55 L277.20,268.32 L277.80,268.41 L278.40,268.43 L279.00,268.52 L279.60,268.32 L280.20,268.50 L280.80,268.58 L281.40,268.69 L282.00,268.94 L282.60,268.69 L283.20,268.51 L283.80,268.61 L284.40,268.67 L285.00,268.77 L285.60,268.99 L286.20,268.81 L286.80,269.09 L287.40,269.20 L288.00,269.21 L288.60,269.06 L289.20,268.89 L289.80,268.67 L290.40,268.55 L291.00,268.61 L291.60,268.46 L292.20,268.23 L292.80,268.21 L293.40,268.21 L294.00,268.24 L294.60,268.47 L295.20,268.29 L295.80,268.29 L296.40,268.38 L297.00,268.33 L297.60,268.28 L298.20,268.25 L298.80,268.33 L299.40,268.34 L300.00,268.27 L300.60,268.45 L301.20,268.48 L301.80,268.55 L302.40,268.55 L303.00,268.31 L303.60,268.29 L304.20,268.42 L304.80,268.28 L305.40,268.26 L306.00,268.09 L306.60,267.95 L307.20,267.75 L307.80,267.69 L308.40,267.55 L309.00,267.33 L309.60,267.16 L310.20,267.29 L310.80,267.27 L311.40,267.10 L312.00,266.87 L312.60,266.70 L313.20,266.57 L313.80,266.37 L314.40,266.06 L315.00,265.79 L315.60,265.57 L316.20,265.40 L316.80,265.09 L317.40,264.83 L318.00,264.47 L318.60,263.97 L319.20,263.52 L319.80,263.24 L320.40,262.74 L321.00,262.14 L321.60,261.83 L322.20,261.36 L322.80,260.96 L323.40,260.64 L324.00,259.98 L324.60,259.66 L325.20,259.27 L325.80,258.67 L326.40,258.13 L327.00,257.59 L327.60,256.92 L328.20,256.44 L328.80,255.49 L329.40,254.71 L330.00,253.90 L330.60,253.28 L331.20,252.41 L331.80,251.62 L332.40,250.79 L333.00,250.10 L333.60,249.41 L334.20,248.37 L334.80,247.35 L335.40,246.42 L336.00,245.38 L336.60,244.30 L337.20,243.19 L337.80,242.01 L338.40,241.01 L339.00,240.15 L339.60,239.25 L340.20,238.22 L340.80,237.29 L341.40,236.21 L342.00,235.01 L342.60,233.90 L343.20,232.66 L343.80,231.60 L344.40,230.57 L345.00,229.41 L345.60,228.48 L346.20,227.65 L346.80,226.73 L347.40,225.78 L348.00,224.74 L348.60,223.82 L349.20,223.00 L349.80,222.16 L350.40,221.51 L351.00,221.04 L351.60,220.38 L352.20,219.99 L352.80,219.37 L353.40,218.97 L354.00,218.51 L354.60,218.09 L355.20,217.66 L355.80,217.45 L356.40,217.16 L357.00,217.11 L357.60,216.91 L358.20,216.97 L358.80,217.08 L359.40,217.17 L360.00,217.45 L360.60,217.82 L361.20,218.17 L361.80,218.80 L362.40,219.48 L363.00,219.95 L363.60,220.76 L364.20,221.46 L364.80,222.07 L365.40,223.22 L366.00,224.18 L366.60,225.09 L367.20,226.35 L367.80,227.50 L368.40,228.73 L369.00,230.07 L369.60,231.20 L370.20,232.32 L370.80,233.57 L371.40,234.80 L372.00,235.78 L372.60,237.16 L373.20,238.35 L373.80,239.49 L374.40,240.69 L375.00,241.98 L375.60,243.20 L376.20,244.58 L376.80,245.56 L377.40,246.68 L378.00,247.84 L378.60,249.08 L379.20,250.09 L379.80,251.18 L380.40,252.23 L381.00,253.25 L381.60,254.30 L382.20,255.36 L382.80,256.29 L383.40,257.19 L384.00,257.92 L384.60,258.62 L385.20,259.31 L385.80,260.01 L386.40,260.58 L387.00,261.12 L387.60,261.57 L388.20,262.01 L388.80,262.61 L389.40,263.21 L390.00,263.64 L390.60,263.94 L391.20,264.35 L391.80,264.84 L392.40,265.24 L393.00,265.56 L393.60,265.76 L394.20,265.94 L394.80,266.20 L395.40,266.52 L396.00,266.75 L396.60,266.96 L397.20,267.03 L397.80,267.29 L398.40,267.56 L399.00,267.78 L399.60,267.97 L400.20,268.04 L400.80,268.14 L401.40,268.41 L402.00,268.41 L402.60,268.47 L403.20,268.58 L403.80,268.44 L404.40,268.43 L405.00,268.55 L405.60,268.63 L406.20,268.61 L406.80,268.74 L407.40,268.79 L408.00,268.82 L408.60,268.97 L409.20,269.06 L409.80,268.90 L410.40,268.84 L411.00,268.78 L411.60,268.69 L412.20,268.84 L412.80,268.68 L413.40,268.64 L414.00,268.66 L414.60,268.73 L415.20,268.70 L415.80,268.81 L416.40,268.74 L417.00,268.81 L417.60,268.85 L418.20,268.79 L418.80,268.96 L419.40,269.03 L420.00,269.16 L420.60,269.28 L421.20,269.42 L421.80,269.43 L422.40,269.58 L423.00,269.43 L423.60,269.52 L424.20,269.43 L424.80,269.34 L425.40,269.23 L426.00,269.33 L426.60,269.38 L427.20,269.40 L427.80,269.34 L428.40,269.45 L429.00,269.48 L429.60,269.61 L430.20,269.46 L430.80,269.37 L431.40,269.56 L432.00,269.76 L432.60,269.62 L433.20,269.61 L433.80,269.65 L434.40,269.66 L435.00,269.78 L435.60,269.76 L436.20,269.43 L436.80,269.34 L437.40,269.35 L438.00,269.36 L438.60,269.41 L439.20,269.45 L439.80,269.28 L440.40,269.40 L441.00,269.44 L441.60,269.46 L442.20,269.42 L442.80,269.32 L443.40,269.21 L444.00,269.23 L444.60,269.21 L445.20,269.19 L445.80,269.15 L446.40,269.14 L447.00,269.17 L447.60,269.29 L448.20,269.33 L448.80,269.38 L449.40,269.47 L450.00,269.43 L450.60,269.40 L451.20,269.39 L451.80,269.27 L452.40,269.30" fill="none" stroke="#111" stroke-width="3.9" stroke-linejoin="round"/>
<path d="M241.20,268.74 L241.80,268.74 L242.40,268.74 L243.00,268.74 L243.60,268.74 L244.20,268.73 L244.80,268.73 L245.40,268.73 L246.00,268.73 L246.60,268.73 L247.20,268.73 L247.80,268.72 L248.40,268.72 L249.00,268.72 L249.60,268.72 L250.20,268.72 L250.80,268.71 L251.40,268.71 L252.00,268.71 L252.60,268.71 L253.20,268.71 L253.80,268.70 L254.40,268.70 L255.00,268.70 L255.60,268.70 L256.20,268.69 L256.80,268.69 L257.40,268.69 L258.00,268.69 L258.60,268.69 L259.20,268.68 L259.80,268.68 L260.40,268.68 L261.00,268.68 L261.60,268.67 L262.20,268.67 L262.80,268.67 L263.40,268.66 L264.00,268.66 L264.60,268.66 L265.20,268.66 L265.80,268.65 L266.40,268.65 L267.00,268.65 L267.60,268.64 L268.20,268.64 L268.80,268.64 L269.40,268.63 L270.00,268.63 L270.60,268.63 L271.20,268.62 L271.80,268.62 L272.40,268.61 L273.00,268.61 L273.60,268.61 L274.20,268.60 L274.80,268.60 L275.40,268.59 L276.00,268.59 L276.60,268.59 L277.20,268.58 L277.80,268.58 L278.40,268.57 L279.00,268.57 L279.60,268.56 L280.20,268.56 L280.80,268.55 L281.40,268.55 L282.00,268.54 L282.60,268.53 L283.20,268.53 L283.80,268.52 L284.40,268.52 L285.00,268.51 L285.60,268.50 L286.20,268.50 L286.80,268.49 L287.40,268.48 L288.00,268.47 L288.60,268.46 L289.20,268.45 L289.80,268.44 L290.40,268.43 L291.00,268.42 L291.60,268.41 L292.20,268.40 L292.80,268.39 L293.40,268.37 L294.00,268.36 L294.60,268.34 L295.20,268.32 L295.80,268.31 L296.40,268.29 L297.00,268.26 L297.60,268.24 L298.20,268.22 L298.80,268.19 L299.40,268.16 L300.00,268.13 L300.60,268.10 L301.20,268.06 L301.80,268.02 L302.40,267.98 L303.00,267.94 L303.60,267.89 L304.20,267.83 L304.80,267.77 L305.40,267.71 L306.00,267.64 L306.60,267.57 L307.20,267.49 L307.80,267.40 L308.40,267.31 L309.00,267.21 L309.60,267.10 L310.20,266.99 L310.80,266.86 L311.40,266.73 L312.00,266.58 L312.60,266.43 L313.20,266.26 L313.80,266.08 L314.40,265.89 L315.00,265.68 L315.60,265.46 L316.20,265.23 L316.80,264.98 L317.40,264.71 L318.00,264.43 L318.60,264.13 L319.20,263.81 L319.80,263.47 L320.40,263.11 L321.00,262.73 L321.60,262.33 L322.20,261.90 L322.80,261.46 L323.40,260.99 L324.00,260.50 L324.60,259.98 L325.20,259.44 L325.80,258.87 L326.40,258.28 L327.00,257.66 L327.60,257.02 L328.20,256.35 L328.80,255.65 L329.40,254.93 L330.00,254.18 L330.60,253.40 L331.20,252.61 L331.80,251.78 L332.40,250.93 L333.00,250.06 L333.60,249.17 L334.20,248.25 L334.80,247.31 L335.40,246.36 L336.00,245.38 L336.60,244.39 L337.20,243.38 L337.80,242.36 L338.40,241.33 L339.00,240.29 L339.60,239.24 L340.20,238.18 L340.80,237.12 L341.40,236.06 L342.00,235.00 L342.60,233.95 L343.20,232.90 L343.80,231.86 L344.40,230.83 L345.00,229.82 L345.60,228.83 L346.20,227.85 L346.80,226.90 L347.40,225.98 L348.00,225.09 L348.60,224.23 L349.20,223.40 L349.80,222.62 L350.40,221.87 L351.00,221.17 L351.60,220.51 L352.20,219.91 L352.80,219.36 L353.40,218.86 L354.00,218.41 L354.60,218.03 L355.20,217.70 L355.80,217.44 L356.40,217.23 L357.00,217.09 L357.60,217.01 L358.20,217.00 L358.80,217.07 L359.40,217.23 L360.00,217.47 L360.60,217.81 L361.20,218.23 L361.80,218.73 L362.40,219.31 L363.00,219.96 L363.60,220.69 L364.20,221.49 L364.80,222.35 L365.40,223.27 L366.00,224.25 L366.60,225.27 L367.20,226.35 L367.80,227.46 L368.40,228.61 L369.00,229.79 L369.60,230.99 L370.20,232.22 L370.80,233.47 L371.40,234.72 L372.00,235.99 L372.60,237.25 L373.20,238.52 L373.80,239.78 L374.40,241.03 L375.00,242.27 L375.60,243.49 L376.20,244.70 L376.80,245.88 L377.40,247.04 L378.00,248.18 L378.60,249.28 L379.20,250.36 L379.80,251.40 L380.40,252.41 L381.00,253.39 L381.60,254.33 L382.20,255.23 L382.80,256.10 L383.40,256.93 L384.00,257.73 L384.60,258.49 L385.20,259.21 L385.80,259.90 L386.40,260.55 L387.00,261.16 L387.60,261.74 L388.20,262.29 L388.80,262.81 L389.40,263.29 L390.00,263.75 L390.60,264.17 L391.20,264.57 L391.80,264.94 L392.40,265.28 L393.00,265.60 L393.60,265.90 L394.20,266.18 L394.80,266.43 L395.40,266.67 L396.00,266.89 L396.60,267.09 L397.20,267.27 L397.80,267.44 L398.40,267.60 L399.00,267.74 L399.60,267.87 L400.20,267.99 L400.80,268.10 L401.40,268.20 L402.00,268.29 L402.60,268.38 L403.20,268.45 L403.80,268.52 L404.40,268.58 L405.00,268.64 L405.60,268.69 L406.20,268.74 L406.80,268.79 L407.40,268.83 L408.00,268.86 L408.60,268.89 L409.20,268.92 L409.80,268.95 L410.40,268.98 L411.00,269.00 L411.60,269.02 L412.20,269.04 L412.80,269.06 L413.40,269.08 L414.00,269.09 L414.60,269.11 L415.20,269.12 L415.80,269.13 L416.40,269.15 L417.00,269.16 L417.60,269.17 L418.20,269.18 L418.80,269.19 L419.40,269.20 L420.00,269.20 L420.60,269.21 L421.20,269.22 L421.80,269.23 L422.40,269.24 L423.00,269.24 L423.60,269.25 L424.20,269.26 L424.80,269.26 L425.40,269.27 L426.00,269.27 L426.60,269.28 L427.20,269.28 L427.80,269.29 L428.40,269.29 L429.00,269.30 L429.60,269.30 L430.20,269.31 L430.80,269.31 L431.40,269.32 L432.00,269.32 L432.60,269.33 L433.20,269.33 L433.80,269.34 L434.40,269.34 L435.00,269.34 L435.60,269.35 L436.20,269.35 L436.80,269.35 L437.40,269.36 L438.00,269.36 L438.60,269.37 L439.20,269.37 L439.80,269.37 L440.40,269.38 L441.00,269.38 L441.60,269.38 L442.20,269.38 L442.80,269.39 L443.40,269.39 L444.00,269.39 L444.60,269.40 L445.20,269.40 L445.80,269.40 L446.40,269.40 L447.00,269.41 L447.60,269.41 L448.20,269.41 L448.80,269.41 L449.40,269.42 L450.00,269.42 L450.60,269.42 L451.20,269.42 L451.80,269.43 L452.40,269.43" fill="none" stroke="#a81212" stroke-width="2.6" stroke-linejoin="round"/>
<path d="M241.20,286.50 L241.80,285.73 L242.40,285.96 L243.00,285.85 L243.60,285.84 L244.20,286.06 L244.80,286.47 L245.40,286.39 L246.00,286.73 L246.60,286.48 L247.20,286.19 L247.80,286.35 L248.40,286.27 L249.00,286.40 L249.60,286.11 L250.20,286.03 L250.80,285.86 L251.40,285.90 L252.00,285.80 L252.60,285.98 L253.20,285.81 L253.80,286.16 L254.40,286.24 L255.00,286.59 L255.60,286.68 L256.20,286.65 L256.80,286.09 L257.40,285.93 L258.00,285.96 L258.60,286.01 L259.20,286.39 L259.80,286.29 L260.40,286.07 L261.00,286.87 L261.60,287.24 L262.20,287.47 L262.80,287.59 L263.40,287.10 L264.00,287.29 L264.60,287.24 L265.20,286.85 L265.80,286.63 L266.40,286.20 L267.00,286.26 L267.60,286.20 L268.20,286.12 L268.80,286.18 L269.40,286.45 L270.00,286.00 L270.60,286.01 L271.20,285.88 L271.80,285.76 L272.40,285.90 L273.00,286.05 L273.60,286.13 L274.20,286.87 L274.80,287.04 L275.40,286.98 L276.00,286.98 L276.60,286.73 L277.20,286.59 L277.80,286.39 L278.40,286.10 L279.00,286.59 L279.60,286.29 L280.20,286.75 L280.80,286.70 L281.40,286.74 L282.00,286.88 L282.60,286.97 L283.20,286.11 L283.80,286.52 L284.40,286.24 L285.00,285.92 L285.60,286.01 L286.20,285.62 L286.80,285.47 L287.40,285.81 L288.00,285.78 L288.60,285.76 L289.20,286.61 L289.80,286.66 L290.40,286.75 L291.00,286.94 L291.60,286.82 L292.20,286.32 L292.80,286.06 L293.40,285.35 L294.00,285.68 L294.60,285.76 L295.20,285.66 L295.80,285.57 L296.40,286.21 L297.00,286.53 L297.60,287.15 L298.20,286.90 L298.80,287.26 L299.40,287.30 L300.00,287.48 L300.60,287.20 L301.20,287.16 L301.80,286.47 L302.40,286.20 L303.00,285.68 L303.60,285.57 L304.20,285.74 L304.80,285.88 L305.40,286.16 L306.00,286.68 L306.60,286.98 L307.20,287.37 L307.80,287.38 L308.40,287.30 L309.00,287.18 L309.60,286.83 L310.20,286.89 L310.80,287.14 L311.40,286.75 L312.00,287.22 L312.60,287.22 L313.20,287.12 L313.80,287.28 L314.40,287.11 L315.00,286.75 L315.60,286.88 L316.20,286.27 L316.80,286.11 L317.40,286.45 L318.00,286.56 L318.60,286.61 L319.20,286.76 L319.80,286.63 L320.40,286.88 L321.00,286.94 L321.60,286.97 L322.20,286.85 L322.80,286.82 L323.40,286.62 L324.00,287.24 L324.60,286.81 L325.20,286.74 L325.80,287.04 L326.40,287.05 L327.00,286.58 L327.60,286.58 L328.20,285.87 L328.80,286.17 L329.40,286.22 L330.00,286.07 L330.60,286.12 L331.20,286.62 L331.80,286.79 L332.40,287.12 L333.00,287.08 L333.60,287.02 L334.20,286.74 L334.80,286.59 L335.40,286.32 L336.00,286.04 L336.60,285.70 L337.20,285.66 L337.80,285.66 L338.40,285.51 L339.00,285.57 L339.60,285.97 L340.20,286.10 L340.80,286.38 L341.40,286.34 L342.00,286.12 L342.60,286.25 L343.20,286.05 L343.80,285.83 L344.40,285.54 L345.00,285.54 L345.60,285.73 L346.20,286.11 L346.80,285.92 L347.40,285.98 L348.00,285.90 L348.60,286.08 L349.20,286.35 L349.80,286.26 L350.40,285.90 L351.00,285.86 L351.60,285.98 L352.20,285.92 L352.80,286.00 L353.40,285.33 L354.00,285.82 L354.60,286.25 L355.20,286.26 L355.80,285.88 L356.40,285.82 L357.00,285.73 L357.60,285.54 L358.20,285.02 L358.80,284.34 L359.40,284.43 L360.00,284.94 L360.60,285.12 L361.20,284.75 L361.80,285.49 L362.40,285.69 L363.00,285.94 L363.60,285.98 L364.20,286.05 L364.80,285.82 L365.40,286.16 L366.00,285.83 L366.60,285.93 L367.20,285.62 L367.80,285.86 L368.40,285.42 L369.00,285.72 L369.60,285.46 L370.20,285.43 L370.80,285.13 L371.40,285.77 L372.00,285.21 L372.60,285.57 L373.20,285.30 L373.80,285.91 L374.40,286.06 L375.00,286.31 L375.60,286.14 L376.20,286.85 L376.80,286.68 L377.40,286.82 L378.00,286.98 L378.60,287.08 L379.20,287.13 L379.80,287.03 L380.40,286.72 L381.00,286.35 L381.60,286.38 L382.20,285.86 L382.80,285.55 L383.40,285.13 L384.00,285.51 L384.60,285.56 L385.20,285.71 L385.80,286.05 L386.40,286.05 L387.00,286.27 L387.60,286.61 L388.20,286.15 L388.80,285.74 L389.40,285.90 L390.00,285.77 L390.60,286.10 L391.20,285.86 L391.80,286.05 L392.40,286.29 L393.00,286.71 L393.60,286.87 L394.20,286.72 L394.80,286.32 L395.40,286.46 L396.00,286.08 L396.60,286.00 L397.20,286.02 L397.80,285.77 L398.40,286.00 L399.00,286.08 L399.60,286.14 L400.20,286.42 L400.80,286.58 L401.40,286.39 L402.00,286.42 L402.60,285.90 L403.20,285.71 L403.80,286.05 L404.40,286.13 L405.00,286.42 L405.60,286.59 L406.20,286.87 L406.80,287.22 L407.40,287.73 L408.00,287.45 L408.60,287.30 L409.20,287.36 L409.80,286.92 L410.40,286.57 L411.00,286.23 L411.60,286.19 L412.20,286.48 L412.80,286.34 L413.40,286.04 L414.00,286.37 L414.60,286.71 L415.20,286.80 L415.80,286.64 L416.40,286.40 L417.00,286.70 L417.60,287.01 L418.20,286.66 L418.80,286.70 L419.40,286.81 L420.00,287.01 L420.60,287.22 L421.20,287.15 L421.80,286.87 L422.40,287.04 L423.00,286.59 L423.60,286.93 L424.20,286.98 L424.80,286.57 L425.40,286.67 L426.00,286.65 L426.60,286.34 L427.20,286.87 L427.80,286.33 L428.40,286.33 L429.00,286.38 L429.60,285.97 L430.20,285.53 L430.80,285.98 L431.40,286.00 L432.00,286.06 L432.60,285.46 L433.20,286.02 L433.80,286.54 L434.40,286.99 L435.00,286.93 L435.60,286.48 L436.20,286.29 L436.80,286.77 L437.40,286.60 L438.00,286.02 L438.60,285.88 L439.20,285.93 L439.80,286.12 L440.40,286.55 L441.00,286.86 L441.60,286.47 L442.20,286.86 L442.80,287.07 L443.40,287.07 L444.00,287.09 L444.60,286.72 L445.20,286.52 L445.80,286.54 L446.40,286.24 L447.00,286.04 L447.60,285.92 L448.20,285.74 L448.80,285.95 L449.40,286.03 L450.00,286.10 L450.60,286.34 L451.20,286.03 L451.80,285.81 L452.40,286.38" fill="none" stroke="#111" stroke-width="3.0" stroke-linejoin="round"/>
<text x="244.20" y="221.90" font-size="15.4" fill="#111" text-anchor="start">3 min ZnO</text>
<path d="M241.20,374.30 L241.90,374.30 L242.60,374.30 L243.30,374.30 L244.00,374.30 L244.70,374.30 L245.40,374.30 L246.10,374.30 L246.80,374.30 L247.50,374.30 L248.20,374.30 L248.90,374.30 L249.60,374.30 L250.30,374.30 L251.00,374.30 L251.70,374.30 L252.40,374.30 L253.10,374.30 L253.80,374.30 L254.50,374.30 L255.20,374.30 L255.90,374.30 L256.60,374.30 L257.30,374.30 L258.00,374.30 L258.70,374.30 L259.40,374.30 L260.10,374.30 L260.80,374.30 L261.50,374.30 L262.20,374.30 L262.90,374.30 L263.60,374.30 L264.30,374.30 L265.00,374.30 L265.70,374.30 L266.40,374.30 L267.10,374.30 L267.80,374.30 L268.50,374.30 L269.20,374.30 L269.90,374.30 L270.60,374.30 L271.30,374.30 L272.00,374.30 L272.70,374.30 L273.40,374.30 L274.10,374.30 L274.80,374.30 L275.50,374.30 L276.20,374.30 L276.90,374.30 L277.60,374.30 L278.30,374.30 L279.00,374.30 L279.70,374.30 L280.40,374.30 L281.10,374.30 L281.80,374.30 L282.50,374.29 L283.20,374.29 L283.90,374.29 L284.60,374.29 L285.30,374.29 L286.00,374.29 L286.70,374.28 L287.40,374.28 L288.10,374.28 L288.80,374.28 L289.50,374.27 L290.20,374.27 L290.90,374.26 L291.60,374.25 L292.30,374.25 L293.00,374.24 L293.70,374.23 L294.40,374.22 L295.10,374.20 L295.80,374.19 L296.50,374.17 L297.20,374.16 L297.90,374.13 L298.60,374.11 L299.30,374.08 L300.00,374.05 L300.70,374.02 L301.40,373.98 L302.10,373.93 L302.80,373.89 L303.50,373.83 L304.20,373.77 L304.90,373.70 L305.60,373.63 L306.30,373.54 L307.00,373.45 L307.70,373.34 L308.40,373.23 L309.10,373.10 L309.80,372.96 L310.50,372.81 L311.20,372.64 L311.90,372.46 L312.60,372.26 L313.30,372.04 L314.00,371.80 L314.70,371.54 L315.40,371.26 L316.10,370.95 L316.80,370.62 L317.50,370.27 L318.20,369.88 L318.90,369.47 L319.60,369.03 L320.30,368.55 L321.00,368.04 L321.70,367.50 L322.40,366.93 L323.10,366.31 L323.80,365.66 L324.50,364.97 L325.20,364.24 L325.90,363.48 L326.60,362.67 L327.30,361.82 L328.00,360.93 L328.70,360.00 L329.40,359.03 L330.10,358.02 L330.80,356.97 L331.50,355.89 L332.20,354.76 L332.90,353.60 L333.60,352.40 L334.30,351.17 L335.00,349.92 L335.70,348.63 L336.40,347.32 L337.10,345.98 L337.80,344.63 L338.50,343.26 L339.20,341.88 L339.90,340.50 L340.60,339.10 L341.30,337.71 L342.00,336.33 L342.70,334.95 L343.40,333.59 L344.10,332.25 L344.80,330.93 L345.50,329.64 L346.20,328.39 L346.90,327.18 L347.60,326.01 L348.30,324.89 L349.00,323.82 L349.70,322.81 L350.40,321.87 L351.10,320.99 L351.80,320.18 L352.50,319.45 L353.20,318.79 L353.90,318.22 L354.60,317.73 L355.30,317.33 L356.00,317.01 L356.70,316.78 L357.40,316.65 L358.10,316.60 L358.80,316.66 L359.50,316.83 L360.20,317.12 L360.90,317.52 L361.60,318.03 L362.30,318.65 L363.00,319.38 L363.70,320.20 L364.40,321.12 L365.10,322.13 L365.80,323.22 L366.50,324.39 L367.20,325.63 L367.90,326.93 L368.60,328.30 L369.30,329.71 L370.00,331.17 L370.70,332.66 L371.40,334.18 L372.10,335.73 L372.80,337.29 L373.50,338.85 L374.20,340.42 L374.90,341.99 L375.60,343.55 L376.30,345.08 L377.00,346.60 L377.70,348.09 L378.40,349.56 L379.10,350.98 L379.80,352.37 L380.50,353.72 L381.20,355.02 L381.90,356.28 L382.60,357.49 L383.30,358.65 L384.00,359.76 L384.70,360.82 L385.40,361.82 L386.10,362.78 L386.80,363.68 L387.50,364.53 L388.20,365.33 L388.90,366.08 L389.60,366.79 L390.30,367.44 L391.00,368.06 L391.70,368.63 L392.40,369.15 L393.10,369.64 L393.80,370.09 L394.50,370.51 L395.20,370.89 L395.90,371.24 L396.60,371.55 L397.30,371.85 L398.00,372.11 L398.70,372.35 L399.40,372.57 L400.10,372.76 L400.80,372.94 L401.50,373.10 L402.20,373.24 L402.90,373.37 L403.60,373.48 L404.30,373.58 L405.00,373.67 L405.70,373.75 L406.40,373.82 L407.10,373.88 L407.80,373.94 L408.50,373.99 L409.20,374.03 L409.90,374.07 L410.60,374.10 L411.30,374.13 L412.00,374.15 L412.70,374.17 L413.40,374.19 L414.10,374.21 L414.80,374.22 L415.50,374.23 L416.20,374.24 L416.90,374.25 L417.60,374.26 L418.30,374.27 L419.00,374.27 L419.70,374.28 L420.40,374.28 L421.10,374.28 L421.80,374.29 L422.50,374.29 L423.20,374.29 L423.90,374.29 L424.60,374.29 L425.30,374.29 L426.00,374.30 L426.70,374.30 L427.40,374.30 L428.10,374.30 L428.80,374.30 L429.50,374.30 L430.20,374.30 L430.90,374.30 L431.60,374.30 L432.30,374.30 L433.00,374.30 L433.70,374.30 L434.40,374.30 L435.10,374.30 L435.80,374.30 L436.50,374.30 L437.20,374.30 L437.90,374.30 L438.60,374.30 L439.30,374.30 L440.00,374.30 L440.70,374.30 L441.40,374.30 L442.10,374.30 L442.80,374.30 L443.50,374.30 L444.20,374.30 L444.90,374.30 L445.60,374.30 L446.30,374.30 L447.00,374.30 L447.70,374.30 L448.40,374.30 L449.10,374.30 L449.80,374.30 L450.50,374.30 L451.20,374.30 L451.90,374.30" fill="none" stroke="#3048e0" stroke-width="1.2" stroke-linejoin="round"/>
<path d="M241.20,374.50 L452.40,374.80" fill="none" stroke="#4a8f86" stroke-width="1.2" stroke-linejoin="round"/>
<path d="M241.20,374.60 L242.20,374.60 L243.20,374.60 L244.20,374.60 L245.20,374.60 L246.20,374.60 L247.20,374.60 L248.20,374.60 L249.20,374.60 L250.20,374.60 L251.20,374.59 L252.20,374.59 L253.20,374.59 L254.20,374.59 L255.20,374.59 L256.20,374.59 L257.20,374.59 L258.20,374.59 L259.20,374.58 L260.20,374.58 L261.20,374.58 L262.20,374.58 L263.20,374.57 L264.20,374.57 L265.20,374.56 L266.20,374.56 L267.20,374.56 L268.20,374.55 L269.20,374.54 L270.20,374.54 L271.20,374.53 L272.20,374.52 L273.20,374.51 L274.20,374.51 L275.20,374.50 L276.20,374.49 L277.20,374.47 L278.20,374.46 L279.20,374.45 L280.20,374.44 L281.20,374.42 L282.20,374.41 L283.20,374.39 L284.20,374.37 L285.20,374.35 L286.20,374.33 L287.20,374.31 L288.20,374.29 L289.20,374.27 L290.20,374.25 L291.20,374.22 L292.20,374.20 L293.20,374.18 L294.20,374.15 L295.20,374.12 L296.20,374.10 L297.20,374.07 L298.20,374.04 L299.20,374.02 L300.20,373.99 L301.20,373.96 L302.20,373.93 L303.20,373.91 L304.20,373.88 L305.20,373.85 L306.20,373.83 L307.20,373.80 L308.20,373.78 L309.20,373.76 L310.20,373.73 L311.20,373.71 L312.20,373.69 L313.20,373.68 L314.20,373.66 L315.20,373.65 L316.20,373.63 L317.20,373.62 L318.20,373.61 L319.20,373.61 L320.20,373.60 L321.20,373.60 L322.20,373.60 L323.20,373.60 L324.20,373.60 L325.20,373.61 L326.20,373.62 L327.20,373.63 L328.20,373.64 L329.20,373.65 L330.20,373.67 L331.20,373.68 L332.20,373.70 L333.20,373.72 L334.20,373.74 L335.20,373.76 L336.20,373.79 L337.20,373.81 L338.20,373.84 L339.20,373.86 L340.20,373.89 L341.20,373.92 L342.20,373.94 L343.20,373.97 L344.20,374.00 L345.20,374.03 L346.20,374.05 L347.20,374.08 L348.20,374.11 L349.20,374.13 L350.20,374.16 L351.20,374.19 L352.20,374.21 L353.20,374.23 L354.20,374.26 L355.20,374.28 L356.20,374.30 L357.20,374.32 L358.20,374.34 L359.20,374.36 L360.20,374.38 L361.20,374.40 L362.20,374.41 L363.20,374.43 L364.20,374.44 L365.20,374.45 L366.20,374.47 L367.20,374.48 L368.20,374.49 L369.20,374.50 L370.20,374.51 L371.20,374.52 L372.20,374.53 L373.20,374.53 L374.20,374.54 L375.20,374.55 L376.20,374.55 L377.20,374.56 L378.20,374.56 L379.20,374.57 L380.20,374.57 L381.20,374.57 L382.20,374.58 L383.20,374.58 L384.20,374.58 L385.20,374.58 L386.20,374.59 L387.20,374.59 L388.20,374.59 L389.20,374.59 L390.20,374.59 L391.20,374.59 L392.20,374.59 L393.20,374.59 L394.20,374.60 L395.20,374.60 L396.20,374.60 L397.20,374.60 L398.20,374.60 L399.20,374.60 L400.20,374.60 L401.20,374.60 L402.20,374.60 L403.20,374.60 L404.20,374.60 L405.20,374.60 L406.20,374.60 L407.20,374.60 L408.20,374.60 L409.20,374.60 L410.20,374.60 L411.20,374.60 L412.20,374.60 L413.20,374.60 L414.20,374.60 L415.20,374.60 L416.20,374.60 L417.20,374.60 L418.20,374.60 L419.20,374.60 L420.20,374.60 L421.20,374.60 L422.20,374.60 L423.20,374.60 L424.20,374.60 L425.20,374.60 L426.20,374.60 L427.20,374.60 L428.20,374.60 L429.20,374.60 L430.20,374.60 L431.20,374.60 L432.20,374.60 L433.20,374.60 L434.20,374.60 L435.20,374.60 L436.20,374.60 L437.20,374.60 L438.20,374.60 L439.20,374.60 L440.20,374.60 L441.20,374.60 L442.20,374.60 L443.20,374.60 L444.20,374.60 L445.20,374.60 L446.20,374.60 L447.20,374.60 L448.20,374.60 L449.20,374.60 L450.20,374.60 L451.20,374.60 L452.20,374.60" fill="none" stroke="#4a9a3a" stroke-width="1.0" stroke-linejoin="round" stroke-opacity="0.8"/>
<path d="M241.20,368.83 L241.80,368.78 L242.40,368.97 L243.00,369.05 L243.60,369.04 L244.20,369.14 L244.80,369.20 L245.40,369.13 L246.00,369.19 L246.60,369.15 L247.20,369.05 L247.80,369.09 L248.40,369.33 L249.00,369.29 L249.60,369.36 L250.20,369.44 L250.80,369.46 L251.40,369.47 L252.00,369.35 L252.60,369.22 L253.20,369.31 L253.80,369.32 L254.40,369.19 L255.00,369.18 L255.60,369.26 L256.20,369.28 L256.80,369.25 L257.40,369.37 L258.00,369.18 L258.60,369.29 L259.20,369.14 L259.80,368.97 L260.40,368.96 L261.00,368.95 L261.60,368.78 L262.20,368.83 L262.80,368.66 L263.40,368.71 L264.00,368.82 L264.60,368.77 L265.20,368.60 L265.80,368.73 L266.40,368.76 L267.00,368.85 L267.60,368.85 L268.20,368.80 L268.80,368.87 L269.40,368.96 L270.00,368.86 L270.60,368.83 L271.20,368.72 L271.80,368.92 L272.40,368.96 L273.00,369.01 L273.60,369.13 L274.20,369.12 L274.80,369.21 L275.40,369.20 L276.00,368.91 L276.60,368.99 L277.20,368.98 L277.80,368.92 L278.40,368.74 L279.00,368.56 L279.60,368.59 L280.20,368.62 L280.80,368.55 L281.40,368.41 L282.00,368.48 L282.60,368.56 L283.20,368.68 L283.80,368.83 L284.40,368.94 L285.00,368.85 L285.60,368.99 L286.20,369.01 L286.80,368.96 L287.40,368.97 L288.00,368.81 L288.60,368.61 L289.20,368.73 L289.80,368.71 L290.40,368.62 L291.00,368.74 L291.60,368.59 L292.20,368.66 L292.80,368.75 L293.40,368.59 L294.00,368.43 L294.60,368.40 L295.20,368.32 L295.80,368.62 L296.40,368.64 L297.00,368.52 L297.60,368.67 L298.20,368.83 L298.80,368.75 L299.40,368.64 L300.00,368.60 L300.60,368.42 L301.20,368.53 L301.80,368.26 L302.40,368.02 L303.00,367.83 L303.60,367.97 L304.20,367.87 L304.80,367.88 L305.40,367.72 L306.00,367.80 L306.60,367.85 L307.20,367.79 L307.80,367.52 L308.40,367.32 L309.00,367.31 L309.60,367.32 L310.20,367.24 L310.80,366.98 L311.40,366.77 L312.00,366.74 L312.60,366.51 L313.20,366.27 L313.80,366.05 L314.40,365.86 L315.00,365.69 L315.60,365.78 L316.20,365.52 L316.80,365.38 L317.40,365.16 L318.00,364.98 L318.60,364.66 L319.20,364.25 L319.80,363.73 L320.40,363.51 L321.00,363.11 L321.60,362.68 L322.20,362.19 L322.80,361.64 L323.40,361.23 L324.00,360.71 L324.60,360.11 L325.20,359.53 L325.80,359.03 L326.40,358.40 L327.00,357.95 L327.60,357.35 L328.20,356.60 L328.80,355.90 L329.40,355.12 L330.00,354.27 L330.60,353.42 L331.20,352.38 L331.80,351.46 L332.40,350.55 L333.00,349.37 L333.60,348.29 L334.20,347.16 L334.80,346.01 L335.40,344.98 L336.00,343.92 L336.60,343.09 L337.20,342.23 L337.80,341.18 L338.40,340.15 L339.00,339.09 L339.60,337.97 L340.20,336.77 L340.80,335.38 L341.40,334.05 L342.00,332.75 L342.60,331.53 L343.20,330.34 L343.80,329.05 L344.40,327.86 L345.00,326.80 L345.60,325.60 L346.20,324.65 L346.80,323.57 L347.40,322.66 L348.00,321.63 L348.60,320.65 L349.20,319.68 L349.80,318.94 L350.40,318.04 L351.00,317.22 L351.60,316.19 L352.20,315.50 L352.80,314.97 L353.40,314.28 L354.00,313.78 L354.60,313.20 L355.20,312.68 L355.80,312.31 L356.40,312.11 L357.00,311.77 L357.60,311.80 L358.20,311.56 L358.80,311.58 L359.40,311.57 L360.00,311.86 L360.60,312.14 L361.20,312.53 L361.80,312.90 L362.40,313.48 L363.00,314.11 L363.60,314.95 L364.20,315.73 L364.80,316.38 L365.40,317.36 L366.00,318.25 L366.60,319.11 L367.20,320.22 L367.80,321.32 L368.40,322.55 L369.00,323.99 L369.60,324.83 L370.20,326.12 L370.80,327.62 L371.40,328.83 L372.00,329.98 L372.60,331.26 L373.20,332.51 L373.80,334.14 L374.40,335.35 L375.00,336.52 L375.60,337.94 L376.20,339.47 L376.80,340.93 L377.40,342.20 L378.00,343.38 L378.60,344.51 L379.20,345.84 L379.80,346.99 L380.40,348.07 L381.00,348.92 L381.60,350.03 L382.20,350.97 L382.80,352.18 L383.40,353.07 L384.00,354.04 L384.60,355.05 L385.20,355.98 L385.80,356.75 L386.40,357.75 L387.00,358.35 L387.60,359.03 L388.20,359.68 L388.80,360.29 L389.40,360.83 L390.00,361.45 L390.60,361.95 L391.20,362.46 L391.80,362.83 L392.40,363.15 L393.00,363.49 L393.60,363.96 L394.20,364.32 L394.80,364.69 L395.40,365.08 L396.00,365.58 L396.60,366.03 L397.20,366.31 L397.80,366.56 L398.40,366.61 L399.00,366.77 L399.60,366.91 L400.20,366.89 L400.80,366.94 L401.40,367.06 L402.00,367.14 L402.60,367.34 L403.20,367.33 L403.80,367.53 L404.40,367.66 L405.00,367.66 L405.60,367.73 L406.20,367.92 L406.80,367.98 L407.40,368.03 L408.00,368.18 L408.60,368.44 L409.20,368.57 L409.80,368.59 L410.40,368.52 L411.00,368.83 L411.60,368.96 L412.20,368.96 L412.80,368.88 L413.40,368.78 L414.00,368.72 L414.60,368.63 L415.20,368.44 L415.80,368.45 L416.40,368.53 L417.00,368.49 L417.60,368.68 L418.20,368.79 L418.80,368.92 L419.40,369.08 L420.00,369.11 L420.60,369.09 L421.20,369.23 L421.80,369.17 L422.40,369.23 L423.00,369.19 L423.60,369.02 L424.20,369.02 L424.80,368.90 L425.40,368.77 L426.00,368.95 L426.60,368.88 L427.20,368.98 L427.80,369.11 L428.40,369.16 L429.00,369.25 L429.60,369.41 L430.20,369.37 L430.80,369.54 L431.40,369.37 L432.00,369.40 L432.60,369.36 L433.20,369.13 L433.80,368.97 L434.40,368.77 L435.00,368.63 L435.60,368.63 L436.20,368.38 L436.80,368.41 L437.40,368.57 L438.00,368.56 L438.60,368.66 L439.20,368.66 L439.80,368.80 L440.40,368.88 L441.00,368.84 L441.60,368.91 L442.20,368.84 L442.80,368.83 L443.40,368.85 L444.00,368.81 L444.60,368.77 L445.20,368.75 L445.80,368.70 L446.40,368.94 L447.00,368.97 L447.60,368.94 L448.20,369.01 L448.80,369.03 L449.40,368.91 L450.00,368.92 L450.60,368.79 L451.20,368.76 L451.80,368.84 L452.40,368.81" fill="none" stroke="#111" stroke-width="3.9" stroke-linejoin="round"/>
<path d="M241.20,369.13 L241.80,369.13 L242.40,369.13 L243.00,369.12 L243.60,369.12 L244.20,369.12 L244.80,369.12 L245.40,369.12 L246.00,369.11 L246.60,369.11 L247.20,369.11 L247.80,369.11 L248.40,369.11 L249.00,369.11 L249.60,369.10 L250.20,369.10 L250.80,369.10 L251.40,369.10 L252.00,369.09 L252.60,369.09 L253.20,369.09 L253.80,369.09 L254.40,369.09 L255.00,369.08 L255.60,369.08 L256.20,369.08 L256.80,369.08 L257.40,369.07 L258.00,369.07 L258.60,369.07 L259.20,369.06 L259.80,369.06 L260.40,369.06 L261.00,369.06 L261.60,369.05 L262.20,369.05 L262.80,369.05 L263.40,369.04 L264.00,369.04 L264.60,369.04 L265.20,369.03 L265.80,369.03 L266.40,369.03 L267.00,369.02 L267.60,369.02 L268.20,369.02 L268.80,369.01 L269.40,369.01 L270.00,369.01 L270.60,369.00 L271.20,369.00 L271.80,368.99 L272.40,368.99 L273.00,368.99 L273.60,368.98 L274.20,368.98 L274.80,368.97 L275.40,368.97 L276.00,368.96 L276.60,368.96 L277.20,368.95 L277.80,368.95 L278.40,368.94 L279.00,368.94 L279.60,368.93 L280.20,368.93 L280.80,368.92 L281.40,368.92 L282.00,368.91 L282.60,368.90 L283.20,368.90 L283.80,368.89 L284.40,368.88 L285.00,368.88 L285.60,368.87 L286.20,368.86 L286.80,368.85 L287.40,368.85 L288.00,368.84 L288.60,368.83 L289.20,368.82 L289.80,368.81 L290.40,368.80 L291.00,368.79 L291.60,368.77 L292.20,368.76 L292.80,368.75 L293.40,368.73 L294.00,368.72 L294.60,368.70 L295.20,368.69 L295.80,368.67 L296.40,368.65 L297.00,368.63 L297.60,368.60 L298.20,368.58 L298.80,368.55 L299.40,368.52 L300.00,368.49 L300.60,368.46 L301.20,368.42 L301.80,368.38 L302.40,368.34 L303.00,368.29 L303.60,368.24 L304.20,368.19 L304.80,368.13 L305.40,368.07 L306.00,368.00 L306.60,367.93 L307.20,367.84 L307.80,367.76 L308.40,367.66 L309.00,367.56 L309.60,367.45 L310.20,367.34 L310.80,367.21 L311.40,367.07 L312.00,366.92 L312.60,366.76 L313.20,366.59 L313.80,366.41 L314.40,366.21 L315.00,366.00 L315.60,365.78 L316.20,365.53 L316.80,365.28 L317.40,365.00 L318.00,364.71 L318.60,364.40 L319.20,364.06 L319.80,363.71 L320.40,363.34 L321.00,362.94 L321.60,362.52 L322.20,362.08 L322.80,361.61 L323.40,361.12 L324.00,360.60 L324.60,360.05 L325.20,359.48 L325.80,358.88 L326.40,358.25 L327.00,357.59 L327.60,356.91 L328.20,356.19 L328.80,355.45 L329.40,354.67 L330.00,353.87 L330.60,353.04 L331.20,352.18 L331.80,351.29 L332.40,350.37 L333.00,349.43 L333.60,348.45 L334.20,347.46 L334.80,346.43 L335.40,345.39 L336.00,344.32 L336.60,343.23 L337.20,342.13 L337.80,341.00 L338.40,339.86 L339.00,338.71 L339.60,337.54 L340.20,336.37 L340.80,335.19 L341.40,334.01 L342.00,332.82 L342.60,331.64 L343.20,330.46 L343.80,329.28 L344.40,328.12 L345.00,326.97 L345.60,325.84 L346.20,324.73 L346.80,323.64 L347.40,322.58 L348.00,321.54 L348.60,320.54 L349.20,319.58 L349.80,318.66 L350.40,317.78 L351.00,316.94 L351.60,316.16 L352.20,315.43 L352.80,314.75 L353.40,314.13 L354.00,313.57 L354.60,313.08 L355.20,312.64 L355.80,312.28 L356.40,311.98 L357.00,311.76 L357.60,311.60 L358.20,311.52 L358.80,311.50 L359.40,311.58 L360.00,311.75 L360.60,312.01 L361.20,312.36 L361.80,312.79 L362.40,313.32 L363.00,313.92 L363.60,314.61 L364.20,315.36 L364.80,316.20 L365.40,317.09 L366.00,318.06 L366.60,319.08 L367.20,320.15 L367.80,321.27 L368.40,322.44 L369.00,323.64 L369.60,324.88 L370.20,326.15 L370.80,327.45 L371.40,328.76 L372.00,330.09 L372.60,331.43 L373.20,332.77 L373.80,334.12 L374.40,335.46 L375.00,336.80 L375.60,338.13 L376.20,339.44 L376.80,340.74 L377.40,342.02 L378.00,343.28 L378.60,344.51 L379.20,345.72 L379.80,346.89 L380.40,348.04 L381.00,349.15 L381.60,350.23 L382.20,351.27 L382.80,352.27 L383.40,353.24 L384.00,354.18 L384.60,355.07 L385.20,355.93 L385.80,356.75 L386.40,357.53 L387.00,358.27 L387.60,358.98 L388.20,359.65 L388.80,360.28 L389.40,360.88 L390.00,361.45 L390.60,361.98 L391.20,362.49 L391.80,362.96 L392.40,363.40 L393.00,363.81 L393.60,364.20 L394.20,364.56 L394.80,364.89 L395.40,365.21 L396.00,365.50 L396.60,365.77 L397.20,366.01 L397.80,366.25 L398.40,366.46 L399.00,366.65 L399.60,366.84 L400.20,367.00 L400.80,367.15 L401.40,367.29 L402.00,367.42 L402.60,367.54 L403.20,367.65 L403.80,367.75 L404.40,367.84 L405.00,367.92 L405.60,368.00 L406.20,368.07 L406.80,368.13 L407.40,368.19 L408.00,368.24 L408.60,368.29 L409.20,368.33 L409.80,368.37 L410.40,368.41 L411.00,368.44 L411.60,368.47 L412.20,368.50 L412.80,368.53 L413.40,368.55 L414.00,368.57 L414.60,368.60 L415.20,368.61 L415.80,368.63 L416.40,368.65 L417.00,368.66 L417.60,368.68 L418.20,368.69 L418.80,368.70 L419.40,368.72 L420.00,368.73 L420.60,368.74 L421.20,368.75 L421.80,368.76 L422.40,368.77 L423.00,368.77 L423.60,368.78 L424.20,368.79 L424.80,368.80 L425.40,368.81 L426.00,368.81 L426.60,368.82 L427.20,368.83 L427.80,368.83 L428.40,368.84 L429.00,368.84 L429.60,368.85 L430.20,368.86 L430.80,368.86 L431.40,368.87 L432.00,368.87 L432.60,368.88 L433.20,368.88 L433.80,368.89 L434.40,368.89 L435.00,368.90 L435.60,368.90 L436.20,368.90 L436.80,368.91 L437.40,368.91 L438.00,368.92 L438.60,368.92 L439.20,368.93 L439.80,368.93 L440.40,368.93 L441.00,368.94 L441.60,368.94 L442.20,368.94 L442.80,368.95 L443.40,368.95 L444.00,368.95 L444.60,368.96 L445.20,368.96 L445.80,368.96 L446.40,368.97 L447.00,368.97 L447.60,368.97 L448.20,368.98 L448.80,368.98 L449.40,368.98 L450.00,368.98 L450.60,368.99 L451.20,368.99 L451.80,368.99 L452.40,368.99" fill="none" stroke="#a81212" stroke-width="2.6" stroke-linejoin="round"/>
<path d="M241.20,382.39 L241.80,382.12 L242.40,383.27 L243.00,383.40 L243.60,383.19 L244.20,383.26 L244.80,383.20 L245.40,382.66 L246.00,381.88 L246.60,382.82 L247.20,382.96 L247.80,383.04 L248.40,383.36 L249.00,382.33 L249.60,382.29 L250.20,383.58 L250.80,382.33 L251.40,382.71 L252.00,382.32 L252.60,382.83 L253.20,383.13 L253.80,382.72 L254.40,382.38 L255.00,384.54 L255.60,384.25 L256.20,382.90 L256.80,383.32 L257.40,382.93 L258.00,383.53 L258.60,382.81 L259.20,384.30 L259.80,384.94 L260.40,383.96 L261.00,384.63 L261.60,383.78 L262.20,382.73 L262.80,383.46 L263.40,382.05 L264.00,382.47 L264.60,382.86 L265.20,383.30 L265.80,383.65 L266.40,383.21 L267.00,382.86 L267.60,383.59 L268.20,383.41 L268.80,383.15 L269.40,383.51 L270.00,382.58 L270.60,382.83 L271.20,383.14 L271.80,383.56 L272.40,383.06 L273.00,383.20 L273.60,384.20 L274.20,384.45 L274.80,383.62 L275.40,382.74 L276.00,382.54 L276.60,382.62 L277.20,381.93 L277.80,382.04 L278.40,381.31 L279.00,381.57 L279.60,381.51 L280.20,381.56 L280.80,382.16 L281.40,382.24 L282.00,382.33 L282.60,382.25 L283.20,382.94 L283.80,384.27 L284.40,382.60 L285.00,382.24 L285.60,382.68 L286.20,382.47 L286.80,382.58 L287.40,381.71 L288.00,382.06 L288.60,382.51 L289.20,382.31 L289.80,382.15 L290.40,382.73 L291.00,382.80 L291.60,383.60 L292.20,383.13 L292.80,384.49 L293.40,383.91 L294.00,383.36 L294.60,383.51 L295.20,382.86 L295.80,381.57 L296.40,382.23 L297.00,382.54 L297.60,382.27 L298.20,382.16 L298.80,383.29 L299.40,383.72 L300.00,383.46 L300.60,383.81 L301.20,383.60 L301.80,383.53 L302.40,384.22 L303.00,384.74 L303.60,383.35 L304.20,383.76 L304.80,384.62 L305.40,383.98 L306.00,383.76 L306.60,383.75 L307.20,382.73 L307.80,382.74 L308.40,382.52 L309.00,382.46 L309.60,383.35 L310.20,383.94 L310.80,383.21 L311.40,383.42 L312.00,383.49 L312.60,383.61 L313.20,383.27 L313.80,382.41 L314.40,383.02 L315.00,382.30 L315.60,383.37 L316.20,382.99 L316.80,382.94 L317.40,384.08 L318.00,383.76 L318.60,383.41 L319.20,383.29 L319.80,383.52 L320.40,383.28 L321.00,383.63 L321.60,384.44 L322.20,383.22 L322.80,383.34 L323.40,384.08 L324.00,384.28 L324.60,384.64 L325.20,384.32 L325.80,384.73 L326.40,384.91 L327.00,384.61 L327.60,385.12 L328.20,384.82 L328.80,385.34 L329.40,384.62 L330.00,384.24 L330.60,384.42 L331.20,384.35 L331.80,383.90 L332.40,384.19 L333.00,384.78 L333.60,384.04 L334.20,383.51 L334.80,384.14 L335.40,384.45 L336.00,385.35 L336.60,383.53 L337.20,383.77 L337.80,384.10 L338.40,383.62 L339.00,384.32 L339.60,384.09 L340.20,384.32 L340.80,385.69 L341.40,384.78 L342.00,385.53 L342.60,385.51 L343.20,385.31 L343.80,385.96 L344.40,387.25 L345.00,386.82 L345.60,386.78 L346.20,386.25 L346.80,387.78 L347.40,387.58 L348.00,388.30 L348.60,387.64 L349.20,387.48 L349.80,387.26 L350.40,386.82 L351.00,386.19 L351.60,386.36 L352.20,385.98 L352.80,385.77 L353.40,385.86 L354.00,384.54 L354.60,383.96 L355.20,384.07 L355.80,384.25 L356.40,382.63 L357.00,383.13 L357.60,382.54 L358.20,382.60 L358.80,381.98 L359.40,381.47 L360.00,380.89 L360.60,381.65 L361.20,381.19 L361.80,379.21 L362.40,378.22 L363.00,379.42 L363.60,378.69 L364.20,378.76 L364.80,378.40 L365.40,379.55 L366.00,379.67 L366.60,380.06 L367.20,381.26 L367.80,382.35 L368.40,382.24 L369.00,382.07 L369.60,381.57 L370.20,382.64 L370.80,382.47 L371.40,383.40 L372.00,383.16 L372.60,383.14 L373.20,384.06 L373.80,383.64 L374.40,384.16 L375.00,384.88 L375.60,384.46 L376.20,385.64 L376.80,384.57 L377.40,385.85 L378.00,386.04 L378.60,385.54 L379.20,386.70 L379.80,385.76 L380.40,384.93 L381.00,385.39 L381.60,386.39 L382.20,386.08 L382.80,386.76 L383.40,385.49 L384.00,386.23 L384.60,386.62 L385.20,386.07 L385.80,386.34 L386.40,385.55 L387.00,385.53 L387.60,385.75 L388.20,387.07 L388.80,385.21 L389.40,385.80 L390.00,386.62 L390.60,385.07 L391.20,385.77 L391.80,385.91 L392.40,384.71 L393.00,382.50 L393.60,383.59 L394.20,382.60 L394.80,383.86 L395.40,383.53 L396.00,384.16 L396.60,383.99 L397.20,385.09 L397.80,384.66 L398.40,384.50 L399.00,384.72 L399.60,385.01 L400.20,384.55 L400.80,385.42 L401.40,383.72 L402.00,385.12 L402.60,384.80 L403.20,385.90 L403.80,384.53 L404.40,384.53 L405.00,383.85 L405.60,385.13 L406.20,384.22 L406.80,383.21 L407.40,383.95 L408.00,384.01 L408.60,385.04 L409.20,384.88 L409.80,383.53 L410.40,384.47 L411.00,384.74 L411.60,383.85 L412.20,383.72 L412.80,383.48 L413.40,383.33 L414.00,383.48 L414.60,382.68 L415.20,383.36 L415.80,383.09 L416.40,382.61 L417.00,382.31 L417.60,382.28 L418.20,383.19 L418.80,383.74 L419.40,382.34 L420.00,383.60 L420.60,384.88 L421.20,384.51 L421.80,383.69 L422.40,384.64 L423.00,383.97 L423.60,383.52 L424.20,384.45 L424.80,383.36 L425.40,383.64 L426.00,382.65 L426.60,382.63 L427.20,381.91 L427.80,382.60 L428.40,382.07 L429.00,383.19 L429.60,382.02 L430.20,382.33 L430.80,382.01 L431.40,383.00 L432.00,383.22 L432.60,382.55 L433.20,383.87 L433.80,383.96 L434.40,383.62 L435.00,383.47 L435.60,382.30 L436.20,383.39 L436.80,382.66 L437.40,382.43 L438.00,381.49 L438.60,382.63 L439.20,383.08 L439.80,382.49 L440.40,382.91 L441.00,383.21 L441.60,382.49 L442.20,382.34 L442.80,383.54 L443.40,381.05 L444.00,381.53 L444.60,382.27 L445.20,381.87 L445.80,381.74 L446.40,382.67 L447.00,382.97 L447.60,382.56 L448.20,384.11 L448.80,383.70 L449.40,383.71 L450.00,382.35 L450.60,383.32 L451.20,384.01 L451.80,384.00 L452.40,383.35" fill="none" stroke="#111" stroke-width="2.6" stroke-linejoin="round"/>
<text x="243.20" y="325.20" font-size="15.4" fill="#111" text-anchor="start">Cleaned SiC</text>
</g>
<line x1="363.40" y1="25.00" x2="363.40" y2="46.00" stroke="#444" stroke-width="0.8" stroke-dasharray="1.1,1.1"/>
<line x1="363.40" y1="46.00" x2="358.60" y2="46.00" stroke="#444" stroke-width="0.8" stroke-dasharray="1.1,1.1"/>
<line x1="358.60" y1="46.00" x2="358.60" y2="99.60" stroke="#444" stroke-width="0.8" stroke-dasharray="1.1,1.1"/>
<line x1="358.00" y1="99.60" x2="358.00" y2="199.60" stroke="#444" stroke-width="0.8" stroke-dasharray="1.1,1.1"/>
<line x1="357.80" y1="199.60" x2="357.80" y2="299.30" stroke="#444" stroke-width="0.8" stroke-dasharray="1.1,1.1"/>
<line x1="357.50" y1="299.30" x2="357.50" y2="339.50" stroke="#444" stroke-width="0.8" stroke-dasharray="1.1,1.1"/>
<rect x="241.20" y="0.50" width="211.20" height="398.50" fill="none" stroke="#111" stroke-width="1.6"/>
<line x1="241.20" y1="99.70" x2="452.40" y2="99.70" stroke="#111" stroke-width="1.5"/>
<line x1="241.20" y1="199.90" x2="452.40" y2="199.90" stroke="#111" stroke-width="1.5"/>
<line x1="241.20" y1="299.40" x2="452.40" y2="299.40" stroke="#111" stroke-width="1.5"/>
<line x1="426.05" y1="0.50" x2="426.05" y2="2.70" stroke="#111" stroke-width="1.2"/>
<line x1="426.05" y1="399.00" x2="426.05" y2="396.80" stroke="#111" stroke-width="1.2"/>
<line x1="426.05" y1="97.50" x2="426.05" y2="101.90" stroke="#111" stroke-width="1.2"/>
<line x1="426.05" y1="197.70" x2="426.05" y2="202.10" stroke="#111" stroke-width="1.2"/>
<line x1="426.05" y1="297.20" x2="426.05" y2="301.60" stroke="#111" stroke-width="1.2"/>
<line x1="399.60" y1="0.50" x2="399.60" y2="4.40" stroke="#111" stroke-width="1.2"/>
<line x1="399.60" y1="399.00" x2="399.60" y2="395.10" stroke="#111" stroke-width="1.2"/>
<line x1="399.60" y1="95.80" x2="399.60" y2="103.60" stroke="#111" stroke-width="1.2"/>
<line x1="399.60" y1="196.00" x2="399.60" y2="203.80" stroke="#111" stroke-width="1.2"/>
<line x1="399.60" y1="295.50" x2="399.60" y2="303.30" stroke="#111" stroke-width="1.2"/>
<text x="399.60" y="411.80" font-size="11" fill="#111" text-anchor="middle">100</text>
<line x1="373.15" y1="0.50" x2="373.15" y2="2.70" stroke="#111" stroke-width="1.2"/>
<line x1="373.15" y1="399.00" x2="373.15" y2="396.80" stroke="#111" stroke-width="1.2"/>
<line x1="373.15" y1="97.50" x2="373.15" y2="101.90" stroke="#111" stroke-width="1.2"/>
<line x1="373.15" y1="197.70" x2="373.15" y2="202.10" stroke="#111" stroke-width="1.2"/>
<line x1="373.15" y1="297.20" x2="373.15" y2="301.60" stroke="#111" stroke-width="1.2"/>
<line x1="346.70" y1="0.50" x2="346.70" y2="4.40" stroke="#111" stroke-width="1.2"/>
<line x1="346.70" y1="399.00" x2="346.70" y2="395.10" stroke="#111" stroke-width="1.2"/>
<line x1="346.70" y1="95.80" x2="346.70" y2="103.60" stroke="#111" stroke-width="1.2"/>
<line x1="346.70" y1="196.00" x2="346.70" y2="203.80" stroke="#111" stroke-width="1.2"/>
<line x1="346.70" y1="295.50" x2="346.70" y2="303.30" stroke="#111" stroke-width="1.2"/>
<text x="346.70" y="411.80" font-size="11" fill="#111" text-anchor="middle">102</text>
<line x1="320.25" y1="0.50" x2="320.25" y2="2.70" stroke="#111" stroke-width="1.2"/>
<line x1="320.25" y1="399.00" x2="320.25" y2="396.80" stroke="#111" stroke-width="1.2"/>
<line x1="320.25" y1="97.50" x2="320.25" y2="101.90" stroke="#111" stroke-width="1.2"/>
<line x1="320.25" y1="197.70" x2="320.25" y2="202.10" stroke="#111" stroke-width="1.2"/>
<line x1="320.25" y1="297.20" x2="320.25" y2="301.60" stroke="#111" stroke-width="1.2"/>
<line x1="293.80" y1="0.50" x2="293.80" y2="4.40" stroke="#111" stroke-width="1.2"/>
<line x1="293.80" y1="399.00" x2="293.80" y2="395.10" stroke="#111" stroke-width="1.2"/>
<line x1="293.80" y1="95.80" x2="293.80" y2="103.60" stroke="#111" stroke-width="1.2"/>
<line x1="293.80" y1="196.00" x2="293.80" y2="203.80" stroke="#111" stroke-width="1.2"/>
<line x1="293.80" y1="295.50" x2="293.80" y2="303.30" stroke="#111" stroke-width="1.2"/>
<text x="293.80" y="411.80" font-size="11" fill="#111" text-anchor="middle">104</text>
<line x1="267.35" y1="0.50" x2="267.35" y2="2.70" stroke="#111" stroke-width="1.2"/>
<line x1="267.35" y1="399.00" x2="267.35" y2="396.80" stroke="#111" stroke-width="1.2"/>
<line x1="267.35" y1="97.50" x2="267.35" y2="101.90" stroke="#111" stroke-width="1.2"/>
<line x1="267.35" y1="197.70" x2="267.35" y2="202.10" stroke="#111" stroke-width="1.2"/>
<line x1="267.35" y1="297.20" x2="267.35" y2="301.60" stroke="#111" stroke-width="1.2"/>
<text x="347.40" y="430.60" font-size="15.2" fill="#111" text-anchor="middle">Binding Energy (eV)</text>
<text x="369.00" y="26.00" font-size="15" fill="#2424d0" text-anchor="start">Si1</text>
<text x="300.30" y="38.80" font-size="15" fill="#2a8c2a" text-anchor="start">Si2</text>
<text x="431.40" y="57.00" font-size="12.3" fill="#111" text-anchor="start">x 3</text>
<text x="424.30" y="25.20" font-size="17.5" fill="#111" text-anchor="start">(b)</text>
<rect x="452.40" y="0.50" width="176.80" height="398.50" fill="none" stroke="#111" stroke-width="1.6"/>
<line x1="452.40" y1="199.90" x2="629.20" y2="199.90" stroke="#111" stroke-width="1.5"/>
<line x1="468.80" y1="0.50" x2="468.80" y2="4.50" stroke="#111" stroke-width="1.2"/>
<line x1="468.80" y1="195.90" x2="468.80" y2="203.90" stroke="#111" stroke-width="1.2"/>
<line x1="468.80" y1="399.00" x2="468.80" y2="394.50" stroke="#111" stroke-width="1.2"/>
<text x="468.80" y="413.00" font-size="11" fill="#111" text-anchor="middle">0</text>
<line x1="500.90" y1="0.50" x2="500.90" y2="4.50" stroke="#111" stroke-width="1.2"/>
<line x1="500.90" y1="195.90" x2="500.90" y2="203.90" stroke="#111" stroke-width="1.2"/>
<line x1="500.90" y1="399.00" x2="500.90" y2="394.50" stroke="#111" stroke-width="1.2"/>
<text x="500.90" y="413.00" font-size="11" fill="#111" text-anchor="middle">1</text>
<line x1="533.00" y1="0.50" x2="533.00" y2="4.50" stroke="#111" stroke-width="1.2"/>
<line x1="533.00" y1="195.90" x2="533.00" y2="203.90" stroke="#111" stroke-width="1.2"/>
<line x1="533.00" y1="399.00" x2="533.00" y2="394.50" stroke="#111" stroke-width="1.2"/>
<text x="533.00" y="413.00" font-size="11" fill="#111" text-anchor="middle">2</text>
<line x1="565.10" y1="0.50" x2="565.10" y2="4.50" stroke="#111" stroke-width="1.2"/>
<line x1="565.10" y1="195.90" x2="565.10" y2="203.90" stroke="#111" stroke-width="1.2"/>
<line x1="565.10" y1="399.00" x2="565.10" y2="394.50" stroke="#111" stroke-width="1.2"/>
<text x="565.10" y="413.00" font-size="11" fill="#111" text-anchor="middle">3</text>
<line x1="597.20" y1="0.50" x2="597.20" y2="4.50" stroke="#111" stroke-width="1.2"/>
<line x1="597.20" y1="195.90" x2="597.20" y2="203.90" stroke="#111" stroke-width="1.2"/>
<line x1="597.20" y1="399.00" x2="597.20" y2="394.50" stroke="#111" stroke-width="1.2"/>
<text x="597.20" y="413.00" font-size="11" fill="#111" text-anchor="middle">4</text>
<text x="540.60" y="429.00" font-size="15.3" fill="#111" text-anchor="middle">ZnO thickness (nm)</text>
<line x1="629.20" y1="8.50" x2="623.20" y2="8.50" stroke="#111" stroke-width="1.2"/>
<text x="635.20" y="12.40" font-size="11" fill="#111" text-anchor="start">101.0</text>
<line x1="629.20" y1="16.81" x2="625.80" y2="16.81" stroke="#111" stroke-width="1.2"/>
<line x1="629.20" y1="25.12" x2="625.80" y2="25.12" stroke="#111" stroke-width="1.2"/>
<line x1="629.20" y1="33.43" x2="625.80" y2="33.43" stroke="#111" stroke-width="1.2"/>
<line x1="629.20" y1="41.74" x2="625.80" y2="41.74" stroke="#111" stroke-width="1.2"/>
<line x1="629.20" y1="50.05" x2="623.20" y2="50.05" stroke="#111" stroke-width="1.2"/>
<text x="635.20" y="53.95" font-size="11" fill="#111" text-anchor="start">101.5</text>
<line x1="629.20" y1="58.36" x2="625.80" y2="58.36" stroke="#111" stroke-width="1.2"/>
<line x1="629.20" y1="66.67" x2="625.80" y2="66.67" stroke="#111" stroke-width="1.2"/>
<line x1="629.20" y1="74.98" x2="625.80" y2="74.98" stroke="#111" stroke-width="1.2"/>
<line x1="629.20" y1="83.29" x2="625.80" y2="83.29" stroke="#111" stroke-width="1.2"/>
<line x1="629.20" y1="91.60" x2="623.20" y2="91.60" stroke="#111" stroke-width="1.2"/>
<text x="635.20" y="95.50" font-size="11" fill="#111" text-anchor="start">102.0</text>
<line x1="629.20" y1="99.91" x2="625.80" y2="99.91" stroke="#111" stroke-width="1.2"/>
<line x1="629.20" y1="108.22" x2="625.80" y2="108.22" stroke="#111" stroke-width="1.2"/>
<line x1="629.20" y1="116.53" x2="625.80" y2="116.53" stroke="#111" stroke-width="1.2"/>
<line x1="629.20" y1="124.84" x2="625.80" y2="124.84" stroke="#111" stroke-width="1.2"/>
<line x1="629.20" y1="133.15" x2="623.20" y2="133.15" stroke="#111" stroke-width="1.2"/>
<text x="635.20" y="137.05" font-size="11" fill="#111" text-anchor="start">102.5</text>
<line x1="629.20" y1="141.46" x2="625.80" y2="141.46" stroke="#111" stroke-width="1.2"/>
<line x1="629.20" y1="149.77" x2="625.80" y2="149.77" stroke="#111" stroke-width="1.2"/>
<line x1="629.20" y1="158.08" x2="625.80" y2="158.08" stroke="#111" stroke-width="1.2"/>
<line x1="629.20" y1="166.39" x2="625.80" y2="166.39" stroke="#111" stroke-width="1.2"/>
<line x1="629.20" y1="174.70" x2="623.20" y2="174.70" stroke="#111" stroke-width="1.2"/>
<text x="635.20" y="178.60" font-size="11" fill="#111" text-anchor="start">103.0</text>
<line x1="629.20" y1="183.01" x2="625.80" y2="183.01" stroke="#111" stroke-width="1.2"/>
<line x1="629.20" y1="191.32" x2="625.80" y2="191.32" stroke="#111" stroke-width="1.2"/>
<line x1="629.20" y1="215.65" x2="625.80" y2="215.65" stroke="#111" stroke-width="1.2"/>
<line x1="629.20" y1="235.20" x2="623.20" y2="235.20" stroke="#111" stroke-width="1.2"/>
<text x="635.00" y="239.10" font-size="11" fill="#111" text-anchor="start">1.0</text>
<line x1="629.20" y1="254.75" x2="625.80" y2="254.75" stroke="#111" stroke-width="1.2"/>
<line x1="629.20" y1="274.30" x2="623.20" y2="274.30" stroke="#111" stroke-width="1.2"/>
<text x="635.00" y="278.20" font-size="11" fill="#111" text-anchor="start">0.9</text>
<line x1="629.20" y1="293.85" x2="625.80" y2="293.85" stroke="#111" stroke-width="1.2"/>
<line x1="629.20" y1="314.35" x2="625.80" y2="314.35" stroke="#111" stroke-width="1.2"/>
<line x1="629.20" y1="331.40" x2="623.20" y2="331.40" stroke="#111" stroke-width="1.2"/>
<text x="635.00" y="335.30" font-size="11" fill="#111" text-anchor="start">0.1</text>
<line x1="629.20" y1="348.45" x2="625.80" y2="348.45" stroke="#111" stroke-width="1.2"/>
<line x1="629.20" y1="365.50" x2="623.20" y2="365.50" stroke="#111" stroke-width="1.2"/>
<text x="635.00" y="369.40" font-size="11" fill="#111" text-anchor="start">0.0</text>
<line x1="629.20" y1="382.55" x2="625.80" y2="382.55" stroke="#111" stroke-width="1.2"/>
<rect x="622.00" y="297.60" width="13.00" height="3.00" fill="#fff" stroke="none" stroke-width="1"/>
<line x1="623.20" y1="299.60" x2="634.70" y2="295.90" stroke="#111" stroke-width="1.3"/>
<line x1="623.20" y1="303.50" x2="634.70" y2="299.50" stroke="#111" stroke-width="1.3"/>
<rect x="628.50" y="299.90" width="1.50" height="1.00" fill="#fff" stroke="none" stroke-width="1"/>
<text x="682.60" y="166.10" font-size="15.6" fill="#111" text-anchor="start" transform="rotate(-90 682.6 166.1)">Binding Energy (eV)</text>
<text x="682.40" y="320.00" font-size="15.6" fill="#111" text-anchor="start" transform="rotate(-90 682.4 320.0)">Ratio</text>
<text x="460.60" y="107.50" font-size="17.8" fill="#111" text-anchor="start">(c)</text>
<text x="459.90" y="302.20" font-size="18.0" fill="#111" text-anchor="start">(d)</text>
<path d="M468.80,43.90 L474.30,45.60 L483.30,41.50 L583.70,27.70" fill="none" stroke="#1a1acc" stroke-width="1.3" stroke-linejoin="round"/>
<line x1="468.80" y1="35.60" x2="468.80" y2="52.60" stroke="#1a1acc" stroke-width="1.3"/>
<line x1="466.00" y1="35.60" x2="471.60" y2="35.60" stroke="#1a1acc" stroke-width="1.3"/>
<line x1="466.00" y1="52.60" x2="471.60" y2="52.60" stroke="#1a1acc" stroke-width="1.3"/>
<circle cx="468.80" cy="43.90" r="2.4" fill="#1a1acc"/>
<line x1="474.30" y1="37.20" x2="474.30" y2="54.20" stroke="#1a1acc" stroke-width="1.3"/>
<line x1="471.50" y1="37.20" x2="477.10" y2="37.20" stroke="#1a1acc" stroke-width="1.3"/>
<line x1="471.50" y1="54.20" x2="477.10" y2="54.20" stroke="#1a1acc" stroke-width="1.3"/>
<circle cx="474.30" cy="45.60" r="2.4" fill="#1a1acc"/>
<line x1="483.30" y1="32.80" x2="483.30" y2="50.10" stroke="#1a1acc" stroke-width="1.3"/>
<line x1="480.50" y1="32.80" x2="486.10" y2="32.80" stroke="#1a1acc" stroke-width="1.3"/>
<line x1="480.50" y1="50.10" x2="486.10" y2="50.10" stroke="#1a1acc" stroke-width="1.3"/>
<circle cx="483.30" cy="41.50" r="2.4" fill="#1a1acc"/>
<line x1="583.70" y1="19.40" x2="583.70" y2="35.80" stroke="#1a1acc" stroke-width="1.3"/>
<line x1="580.90" y1="19.40" x2="586.50" y2="19.40" stroke="#1a1acc" stroke-width="1.3"/>
<line x1="580.90" y1="35.80" x2="586.50" y2="35.80" stroke="#1a1acc" stroke-width="1.3"/>
<circle cx="583.70" cy="27.70" r="2.4" fill="#1a1acc"/>
<path d="M468.90,170.50 L474.30,165.50 L483.40,161.40 L583.10,141.10" fill="none" stroke="#1a821a" stroke-width="1.3" stroke-linejoin="round"/>
<line x1="468.90" y1="153.50" x2="468.90" y2="187.10" stroke="#1a821a" stroke-width="1.3"/>
<line x1="466.10" y1="153.50" x2="471.70" y2="153.50" stroke="#1a821a" stroke-width="1.3"/>
<line x1="466.10" y1="187.10" x2="471.70" y2="187.10" stroke="#1a821a" stroke-width="1.3"/>
<rect x="466.80" y="168.40" width="4.20" height="4.20" fill="#1a821a" stroke="none" stroke-width="1"/>
<line x1="474.30" y1="148.50" x2="474.30" y2="182.10" stroke="#1a821a" stroke-width="1.3"/>
<line x1="471.50" y1="148.50" x2="477.10" y2="148.50" stroke="#1a821a" stroke-width="1.3"/>
<line x1="471.50" y1="182.10" x2="477.10" y2="182.10" stroke="#1a821a" stroke-width="1.3"/>
<rect x="472.20" y="163.40" width="4.20" height="4.20" fill="#1a821a" stroke="none" stroke-width="1"/>
<line x1="483.40" y1="144.80" x2="483.40" y2="178.00" stroke="#1a821a" stroke-width="1.3"/>
<line x1="480.60" y1="144.80" x2="486.20" y2="144.80" stroke="#1a821a" stroke-width="1.3"/>
<line x1="480.60" y1="178.00" x2="486.20" y2="178.00" stroke="#1a821a" stroke-width="1.3"/>
<rect x="481.30" y="159.30" width="4.20" height="4.20" fill="#1a821a" stroke="none" stroke-width="1"/>
<line x1="583.10" y1="124.50" x2="583.10" y2="158.10" stroke="#1a821a" stroke-width="1.3"/>
<line x1="580.30" y1="124.50" x2="585.90" y2="124.50" stroke="#1a821a" stroke-width="1.3"/>
<line x1="580.30" y1="158.10" x2="585.90" y2="158.10" stroke="#1a821a" stroke-width="1.3"/>
<rect x="581.00" y="139.00" width="4.20" height="4.20" fill="#1a821a" stroke="none" stroke-width="1"/>
<path d="M468.70,243.80 L474.00,248.30 L483.40,245.90 L583.40,251.60" fill="none" stroke="#1a1acc" stroke-width="1.3" stroke-linejoin="round"/>
<line x1="468.70" y1="223.80" x2="468.70" y2="262.90" stroke="#1a1acc" stroke-width="1.3"/>
<line x1="465.90" y1="223.80" x2="471.50" y2="223.80" stroke="#1a1acc" stroke-width="1.3"/>
<line x1="465.90" y1="262.90" x2="471.50" y2="262.90" stroke="#1a1acc" stroke-width="1.3"/>
<circle cx="468.70" cy="243.80" r="2.4" fill="#1a1acc"/>
<line x1="474.00" y1="228.70" x2="474.00" y2="267.40" stroke="#1a1acc" stroke-width="1.3"/>
<line x1="471.20" y1="228.70" x2="476.80" y2="228.70" stroke="#1a1acc" stroke-width="1.3"/>
<line x1="471.20" y1="267.40" x2="476.80" y2="267.40" stroke="#1a1acc" stroke-width="1.3"/>
<circle cx="474.00" cy="248.30" r="2.4" fill="#1a1acc"/>
<line x1="483.40" y1="226.30" x2="483.40" y2="265.50" stroke="#1a1acc" stroke-width="1.3"/>
<line x1="480.60" y1="226.30" x2="486.20" y2="226.30" stroke="#1a1acc" stroke-width="1.3"/>
<line x1="480.60" y1="265.50" x2="486.20" y2="265.50" stroke="#1a1acc" stroke-width="1.3"/>
<circle cx="483.40" cy="245.90" r="2.4" fill="#1a1acc"/>
<line x1="583.40" y1="231.60" x2="583.40" y2="271.30" stroke="#1a1acc" stroke-width="1.3"/>
<line x1="580.60" y1="231.60" x2="586.20" y2="231.60" stroke="#1a1acc" stroke-width="1.3"/>
<line x1="580.60" y1="271.30" x2="586.20" y2="271.30" stroke="#1a1acc" stroke-width="1.3"/>
<circle cx="583.40" cy="251.60" r="2.4" fill="#1a1acc"/>
<path d="M469.10,357.90 L474.10,354.10 L483.20,356.00 L583.80,351.60" fill="none" stroke="#1a821a" stroke-width="1.3" stroke-linejoin="round"/>
<line x1="469.10" y1="341.40" x2="469.10" y2="374.80" stroke="#1a821a" stroke-width="1.3"/>
<line x1="466.30" y1="341.40" x2="471.90" y2="341.40" stroke="#1a821a" stroke-width="1.3"/>
<line x1="466.30" y1="374.80" x2="471.90" y2="374.80" stroke="#1a821a" stroke-width="1.3"/>
<rect x="467.00" y="355.80" width="4.20" height="4.20" fill="#1a821a" stroke="none" stroke-width="1"/>
<line x1="474.10" y1="337.50" x2="474.10" y2="371.20" stroke="#1a821a" stroke-width="1.3"/>
<line x1="471.30" y1="337.50" x2="476.90" y2="337.50" stroke="#1a821a" stroke-width="1.3"/>
<line x1="471.30" y1="371.20" x2="476.90" y2="371.20" stroke="#1a821a" stroke-width="1.3"/>
<rect x="472.00" y="352.00" width="4.20" height="4.20" fill="#1a821a" stroke="none" stroke-width="1"/>
<line x1="483.20" y1="339.10" x2="483.20" y2="372.90" stroke="#1a821a" stroke-width="1.3"/>
<line x1="480.40" y1="339.10" x2="486.00" y2="339.10" stroke="#1a821a" stroke-width="1.3"/>
<line x1="480.40" y1="372.90" x2="486.00" y2="372.90" stroke="#1a821a" stroke-width="1.3"/>
<rect x="481.10" y="353.90" width="4.20" height="4.20" fill="#1a821a" stroke="none" stroke-width="1"/>
<line x1="583.80" y1="334.50" x2="583.80" y2="368.40" stroke="#1a821a" stroke-width="1.3"/>
<line x1="581.00" y1="334.50" x2="586.60" y2="334.50" stroke="#1a821a" stroke-width="1.3"/>
<line x1="581.00" y1="368.40" x2="586.60" y2="368.40" stroke="#1a821a" stroke-width="1.3"/>
<rect x="581.70" y="349.50" width="4.20" height="4.20" fill="#1a821a" stroke="none" stroke-width="1"/>
<rect x="593.60" y="38.40" width="8.50" height="21.10" fill="#c4c4c4" stroke="#9a9a9a" stroke-width="0.6"/>
<rect x="593.70" y="155.40" width="7.70" height="21.20" fill="#c4c4c4" stroke="#9a9a9a" stroke-width="0.6"/>
<text x="512.80" y="59.90" font-size="14.5" fill="#1a1acc" text-anchor="start">Si1</text>
<text x="503.60" y="174.90" font-size="14.5" fill="#1a821a" text-anchor="start">Si2</text>
<text x="506.80" y="272.00" font-size="14.5" fill="#1a1acc" text-anchor="start">Si1</text>
<text x="508.60" y="377.50" font-size="14.5" fill="#1a821a" text-anchor="start">Si2</text>
<text x="594.00" y="74.20" font-size="11.2" fill="#111" text-anchor="start">SiC</text>
<text x="596.60" y="150.40" font-size="11.4" fill="#111" text-anchor="start">SiO</text>
<text x="614.90" y="155.30" font-size="7.5" fill="#111" text-anchor="start">x</text>
</svg></body></html>
